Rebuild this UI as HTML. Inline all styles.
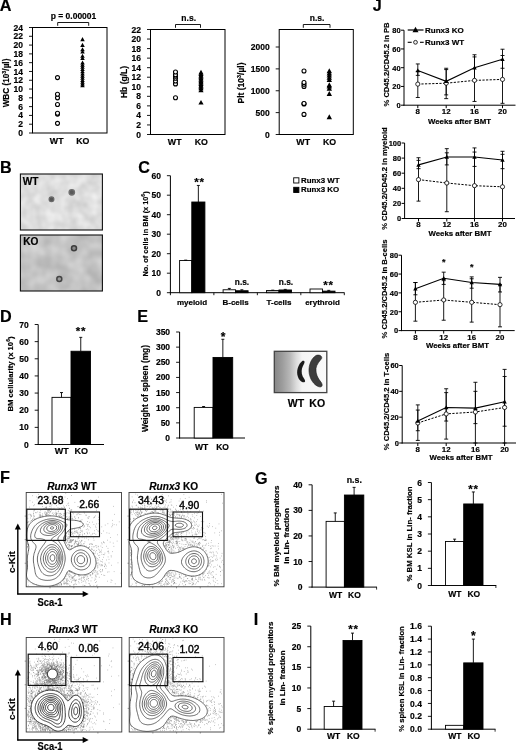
<!DOCTYPE html>
<html><head><meta charset="utf-8"><title>Figure</title>
<style>html,body{margin:0;padding:0;background:#fff}svg{display:block}text{font-family:"Liberation Sans",sans-serif;fill:#000}text[font-weight=bold]{stroke:#000;stroke-width:0.18px}</style>
</head><body>
<svg width="520" height="751" viewBox="0 0 520 751">
<rect width="520" height="751" fill="#fff"/>
<text x="-0.3" y="11" font-size="16.2" font-weight="bold" stroke="#000" stroke-width="0.45">A</text>
<text x="0" y="172.5" font-size="16.2" font-weight="bold" stroke="#000" stroke-width="0.45">B</text>
<text x="138.3" y="173.3" font-size="16.2" font-weight="bold" stroke="#000" stroke-width="0.45">C</text>
<text x="0" y="321.5" font-size="16.2" font-weight="bold" stroke="#000" stroke-width="0.45">D</text>
<text x="137.3" y="321.5" font-size="16.2" font-weight="bold" stroke="#000" stroke-width="0.45">E</text>
<text x="0" y="483.2" font-size="16.2" font-weight="bold" stroke="#000" stroke-width="0.45">F</text>
<text x="255" y="483.5" font-size="16.2" font-weight="bold" stroke="#000" stroke-width="0.45">G</text>
<text x="0" y="625" font-size="16.2" font-weight="bold" stroke="#000" stroke-width="0.45">H</text>
<text x="253.8" y="624.8" font-size="16.2" font-weight="bold" stroke="#000" stroke-width="0.45">I</text>
<text x="372.8" y="11" font-size="16.2" font-weight="bold" stroke="#000" stroke-width="0.45">J</text>
<rect x="32.50" y="27.50" width="74.50" height="105.50" fill="none" stroke="#000" stroke-width="1" />
<line x1="29.00" y1="133.00" x2="32.50" y2="133.00" stroke="#000" stroke-width="0.9" />
<text x="23.0" y="136.0" font-size="8.5" text-anchor="end" font-weight="bold"  style="">0</text>
<line x1="29.00" y1="124.21" x2="32.50" y2="124.21" stroke="#000" stroke-width="0.9" />
<text x="23.0" y="127.2" font-size="8.5" text-anchor="end" font-weight="bold"  style="">2</text>
<line x1="29.00" y1="115.42" x2="32.50" y2="115.42" stroke="#000" stroke-width="0.9" />
<text x="23.0" y="118.4" font-size="8.5" text-anchor="end" font-weight="bold"  style="">4</text>
<line x1="29.00" y1="106.62" x2="32.50" y2="106.62" stroke="#000" stroke-width="0.9" />
<text x="23.0" y="109.6" font-size="8.5" text-anchor="end" font-weight="bold"  style="">6</text>
<line x1="29.00" y1="97.83" x2="32.50" y2="97.83" stroke="#000" stroke-width="0.9" />
<text x="23.0" y="100.8" font-size="8.5" text-anchor="end" font-weight="bold"  style="">8</text>
<line x1="29.00" y1="89.04" x2="32.50" y2="89.04" stroke="#000" stroke-width="0.9" />
<text x="23.0" y="92.0" font-size="8.5" text-anchor="end" font-weight="bold"  style="">10</text>
<line x1="29.00" y1="80.25" x2="32.50" y2="80.25" stroke="#000" stroke-width="0.9" />
<text x="23.0" y="83.2" font-size="8.5" text-anchor="end" font-weight="bold"  style="">12</text>
<line x1="29.00" y1="71.46" x2="32.50" y2="71.46" stroke="#000" stroke-width="0.9" />
<text x="23.0" y="74.5" font-size="8.5" text-anchor="end" font-weight="bold"  style="">14</text>
<line x1="29.00" y1="62.67" x2="32.50" y2="62.67" stroke="#000" stroke-width="0.9" />
<text x="23.0" y="65.7" font-size="8.5" text-anchor="end" font-weight="bold"  style="">16</text>
<line x1="29.00" y1="53.88" x2="32.50" y2="53.88" stroke="#000" stroke-width="0.9" />
<text x="23.0" y="56.9" font-size="8.5" text-anchor="end" font-weight="bold"  style="">18</text>
<line x1="29.00" y1="45.08" x2="32.50" y2="45.08" stroke="#000" stroke-width="0.9" />
<text x="23.0" y="48.1" font-size="8.5" text-anchor="end" font-weight="bold"  style="">20</text>
<line x1="29.00" y1="36.29" x2="32.50" y2="36.29" stroke="#000" stroke-width="0.9" />
<text x="23.0" y="39.3" font-size="8.5" text-anchor="end" font-weight="bold"  style="">22</text>
<line x1="29.00" y1="27.50" x2="32.50" y2="27.50" stroke="#000" stroke-width="0.9" />
<text x="23.0" y="30.5" font-size="8.5" text-anchor="end" font-weight="bold"  style="">24</text>
<circle cx="57.50" cy="123.33" r="2.0" fill="#fff" stroke="#000" stroke-width="1.1"/>
<circle cx="57.50" cy="114.10" r="2.0" fill="#fff" stroke="#000" stroke-width="1.1"/>
<circle cx="57.50" cy="113.22" r="2.0" fill="#fff" stroke="#000" stroke-width="1.1"/>
<circle cx="57.50" cy="104.43" r="2.0" fill="#fff" stroke="#000" stroke-width="1.1"/>
<circle cx="57.50" cy="97.83" r="2.0" fill="#fff" stroke="#000" stroke-width="1.1"/>
<circle cx="57.50" cy="94.32" r="2.0" fill="#fff" stroke="#000" stroke-width="1.1"/>
<circle cx="57.50" cy="77.61" r="2.0" fill="#fff" stroke="#000" stroke-width="1.1"/>
<path d="M82.50,83.28 L84.75,87.33 L80.25,87.33Z" fill="#000"/>
<path d="M82.50,81.52 L84.75,85.57 L80.25,85.57Z" fill="#000"/>
<path d="M82.50,79.76 L84.75,83.81 L80.25,83.81Z" fill="#000"/>
<path d="M82.50,78.00 L84.75,82.05 L80.25,82.05Z" fill="#000"/>
<path d="M82.50,75.80 L84.75,79.85 L80.25,79.85Z" fill="#000"/>
<path d="M82.50,73.60 L84.75,77.65 L80.25,77.65Z" fill="#000"/>
<path d="M82.50,71.41 L84.75,75.46 L80.25,75.46Z" fill="#000"/>
<path d="M82.50,69.21 L84.75,73.26 L80.25,73.26Z" fill="#000"/>
<path d="M82.50,67.01 L84.75,71.06 L80.25,71.06Z" fill="#000"/>
<path d="M82.50,64.81 L84.75,68.86 L80.25,68.86Z" fill="#000"/>
<path d="M82.50,62.61 L84.75,66.66 L80.25,66.66Z" fill="#000"/>
<path d="M82.50,60.42 L84.75,64.47 L80.25,64.47Z" fill="#000"/>
<path d="M82.50,56.02 L84.75,60.07 L80.25,60.07Z" fill="#000"/>
<path d="M82.50,53.82 L84.75,57.87 L80.25,57.87Z" fill="#000"/>
<path d="M82.50,49.43 L84.75,53.48 L80.25,53.48Z" fill="#000"/>
<path d="M82.50,47.23 L84.75,51.28 L80.25,51.28Z" fill="#000"/>
<path d="M82.50,42.83 L84.75,46.88 L80.25,46.88Z" fill="#000"/>
<path d="M82.50,37.12 L84.75,41.17 L80.25,41.17Z" fill="#000"/>
<text x="56.7" y="143.6" font-size="8.8" text-anchor="middle" font-weight="bold"  style="">WT</text>
<text x="82.8" y="143.6" font-size="8.8" text-anchor="middle" font-weight="bold"  style="">KO</text>

<path d="M57.7,25.8 V22.5 H88.7 V25.8" fill="none" stroke="#000" stroke-width="0.9"/>
<text x="73.5" y="19.0" font-size="8.5" text-anchor="middle" font-weight="bold"  style="">p = 0.00001</text>
<text transform="translate(8.5,83) rotate(-90)" font-size="8.2" text-anchor="middle" font-weight="bold">WBC (10<tspan font-size="5.5" dy="-3">3</tspan><tspan dy="3">/µl)</tspan></text>
<rect x="150.50" y="29.50" width="74.50" height="105.00" fill="none" stroke="#000" stroke-width="1" />
<line x1="147.00" y1="134.50" x2="150.50" y2="134.50" stroke="#000" stroke-width="0.9" />
<text x="141.0" y="137.5" font-size="8.5" text-anchor="end" font-weight="bold"  style="">0</text>
<line x1="147.00" y1="124.95" x2="150.50" y2="124.95" stroke="#000" stroke-width="0.9" />
<text x="141.0" y="128.0" font-size="8.5" text-anchor="end" font-weight="bold"  style="">2</text>
<line x1="147.00" y1="115.41" x2="150.50" y2="115.41" stroke="#000" stroke-width="0.9" />
<text x="141.0" y="118.4" font-size="8.5" text-anchor="end" font-weight="bold"  style="">4</text>
<line x1="147.00" y1="105.86" x2="150.50" y2="105.86" stroke="#000" stroke-width="0.9" />
<text x="141.0" y="108.9" font-size="8.5" text-anchor="end" font-weight="bold"  style="">6</text>
<line x1="147.00" y1="96.32" x2="150.50" y2="96.32" stroke="#000" stroke-width="0.9" />
<text x="141.0" y="99.3" font-size="8.5" text-anchor="end" font-weight="bold"  style="">8</text>
<line x1="147.00" y1="86.77" x2="150.50" y2="86.77" stroke="#000" stroke-width="0.9" />
<text x="141.0" y="89.8" font-size="8.5" text-anchor="end" font-weight="bold"  style="">10</text>
<line x1="147.00" y1="77.23" x2="150.50" y2="77.23" stroke="#000" stroke-width="0.9" />
<text x="141.0" y="80.2" font-size="8.5" text-anchor="end" font-weight="bold"  style="">12</text>
<line x1="147.00" y1="67.68" x2="150.50" y2="67.68" stroke="#000" stroke-width="0.9" />
<text x="141.0" y="70.7" font-size="8.5" text-anchor="end" font-weight="bold"  style="">14</text>
<line x1="147.00" y1="58.14" x2="150.50" y2="58.14" stroke="#000" stroke-width="0.9" />
<text x="141.0" y="61.1" font-size="8.5" text-anchor="end" font-weight="bold"  style="">16</text>
<line x1="147.00" y1="48.59" x2="150.50" y2="48.59" stroke="#000" stroke-width="0.9" />
<text x="141.0" y="51.6" font-size="8.5" text-anchor="end" font-weight="bold"  style="">18</text>
<line x1="147.00" y1="39.05" x2="150.50" y2="39.05" stroke="#000" stroke-width="0.9" />
<text x="141.0" y="42.0" font-size="8.5" text-anchor="end" font-weight="bold"  style="">20</text>
<line x1="147.00" y1="29.50" x2="150.50" y2="29.50" stroke="#000" stroke-width="0.9" />
<text x="141.0" y="32.5" font-size="8.5" text-anchor="end" font-weight="bold"  style="">22</text>
<circle cx="175.50" cy="97.75" r="2.0" fill="#fff" stroke="#000" stroke-width="1.1"/>
<circle cx="175.50" cy="83.91" r="2.0" fill="#fff" stroke="#000" stroke-width="1.1"/>
<circle cx="175.50" cy="81.05" r="2.0" fill="#fff" stroke="#000" stroke-width="1.1"/>
<circle cx="175.50" cy="78.18" r="2.0" fill="#fff" stroke="#000" stroke-width="1.1"/>
<circle cx="175.50" cy="76.27" r="2.0" fill="#fff" stroke="#000" stroke-width="1.1"/>
<circle cx="175.50" cy="74.84" r="2.0" fill="#fff" stroke="#000" stroke-width="1.1"/>
<circle cx="175.50" cy="71.98" r="2.0" fill="#fff" stroke="#000" stroke-width="1.1"/>
<path d="M201.00,99.92 L203.60,104.60 L198.40,104.60Z" fill="#000"/>
<path d="M201.00,87.51 L203.60,92.19 L198.40,92.19Z" fill="#000"/>
<path d="M201.00,85.60 L203.60,90.28 L198.40,90.28Z" fill="#000"/>
<path d="M201.00,84.17 L203.60,88.85 L198.40,88.85Z" fill="#000"/>
<path d="M201.00,82.74 L203.60,87.42 L198.40,87.42Z" fill="#000"/>
<path d="M201.00,81.31 L203.60,85.99 L198.40,85.99Z" fill="#000"/>
<path d="M201.00,79.88 L203.60,84.56 L198.40,84.56Z" fill="#000"/>
<path d="M201.00,78.45 L203.60,83.13 L198.40,83.13Z" fill="#000"/>
<path d="M201.00,77.01 L203.60,81.69 L198.40,81.69Z" fill="#000"/>
<path d="M201.00,75.58 L203.60,80.26 L198.40,80.26Z" fill="#000"/>
<path d="M201.00,74.15 L203.60,78.83 L198.40,78.83Z" fill="#000"/>
<path d="M201.00,72.72 L203.60,77.40 L198.40,77.40Z" fill="#000"/>
<path d="M201.00,71.29 L203.60,75.97 L198.40,75.97Z" fill="#000"/>
<path d="M201.00,69.85 L203.60,74.53 L198.40,74.53Z" fill="#000"/>
<text x="174.7" y="145.1" font-size="8.8" text-anchor="middle" font-weight="bold"  style="">WT</text>
<text x="201.3" y="145.1" font-size="8.8" text-anchor="middle" font-weight="bold"  style="">KO</text>

<path d="M175.5,27.8 V24.5 H200.5 V27.8" fill="none" stroke="#000" stroke-width="0.9"/>
<text x="188.7" y="21.0" font-size="8.5" text-anchor="middle" font-weight="bold"  style="">n.s.</text>
<text transform="translate(127,82) rotate(-90)" font-size="8.5" text-anchor="middle" font-weight="bold">Hb (g/L)</text>
<rect x="279.20" y="29.50" width="74.10" height="105.00" fill="none" stroke="#000" stroke-width="1" />
<line x1="275.70" y1="134.50" x2="279.20" y2="134.50" stroke="#000" stroke-width="0.9" />
<text x="269.7" y="137.5" font-size="8.5" text-anchor="end" font-weight="bold"  style="">0</text>
<line x1="275.70" y1="112.62" x2="279.20" y2="112.62" stroke="#000" stroke-width="0.9" />
<text x="269.7" y="115.6" font-size="8.5" text-anchor="end" font-weight="bold"  style="">500</text>
<line x1="275.70" y1="90.75" x2="279.20" y2="90.75" stroke="#000" stroke-width="0.9" />
<text x="269.7" y="93.8" font-size="8.5" text-anchor="end" font-weight="bold"  style="">1000</text>
<line x1="275.70" y1="68.88" x2="279.20" y2="68.88" stroke="#000" stroke-width="0.9" />
<text x="269.7" y="71.9" font-size="8.5" text-anchor="end" font-weight="bold"  style="">1500</text>
<line x1="275.70" y1="47.00" x2="279.20" y2="47.00" stroke="#000" stroke-width="0.9" />
<text x="269.7" y="50.0" font-size="8.5" text-anchor="end" font-weight="bold"  style="">2000</text>
<circle cx="304.00" cy="114.38" r="2.0" fill="#fff" stroke="#000" stroke-width="1.1"/>
<circle cx="304.00" cy="103.88" r="2.0" fill="#fff" stroke="#000" stroke-width="1.1"/>
<circle cx="304.00" cy="103.44" r="2.0" fill="#fff" stroke="#000" stroke-width="1.1"/>
<circle cx="304.00" cy="86.38" r="2.0" fill="#fff" stroke="#000" stroke-width="1.1"/>
<circle cx="304.00" cy="84.19" r="2.0" fill="#fff" stroke="#000" stroke-width="1.1"/>
<circle cx="304.00" cy="82.44" r="2.0" fill="#fff" stroke="#000" stroke-width="1.1"/>
<circle cx="304.00" cy="71.06" r="2.0" fill="#fff" stroke="#000" stroke-width="1.1"/>
<path d="M329.30,114.30 L332.00,119.16 L326.60,119.16Z" fill="#000"/>
<path d="M329.30,91.11 L332.00,95.97 L326.60,95.97Z" fill="#000"/>
<path d="M329.30,85.86 L332.00,90.72 L326.60,90.72Z" fill="#000"/>
<path d="M329.30,83.67 L332.00,88.53 L326.60,88.53Z" fill="#000"/>
<path d="M329.30,82.36 L332.00,87.22 L326.60,87.22Z" fill="#000"/>
<path d="M329.30,77.11 L332.00,81.97 L326.60,81.97Z" fill="#000"/>
<path d="M329.30,74.92 L332.00,79.78 L326.60,79.78Z" fill="#000"/>
<path d="M329.30,72.74 L332.00,77.60 L326.60,77.60Z" fill="#000"/>
<path d="M329.30,70.55 L332.00,75.41 L326.60,75.41Z" fill="#000"/>
<path d="M329.30,68.36 L332.00,73.22 L326.60,73.22Z" fill="#000"/>
<text x="303.2" y="145.1" font-size="8.8" text-anchor="middle" font-weight="bold"  style="">WT</text>
<text x="329.6" y="145.1" font-size="8.8" text-anchor="middle" font-weight="bold"  style="">KO</text>

<path d="M303.3,27.8 V24.5 H330 V27.8" fill="none" stroke="#000" stroke-width="0.9"/>
<text x="317.1" y="21.0" font-size="8.5" text-anchor="middle" font-weight="bold"  style="">n.s.</text>
<text transform="translate(244,83) rotate(-90)" font-size="8.5" text-anchor="middle" font-weight="bold">Plt (10<tspan font-size="5.5" dy="-3">3</tspan><tspan dy="3">/µl)</tspan></text>
<defs><filter id="bl"><feGaussianBlur stdDeviation="1.2"/></filter><filter id="bl2"><feGaussianBlur stdDeviation="0.6"/></filter>
<clipPath id="cB1"><rect x="20" y="174" width="82" height="56"/></clipPath><clipPath id="cB2"><rect x="20" y="235" width="82" height="56"/></clipPath>
<linearGradient id="gs" x1="0" x2="1"><stop offset="0" stop-color="#868686"/><stop offset="0.15" stop-color="#9c9c9c"/><stop offset="0.3" stop-color="#b8b8b8"/><stop offset="0.42" stop-color="#dcdcdc"/><stop offset="0.53" stop-color="#f4f4f4"/><stop offset="1" stop-color="#fafafa"/></linearGradient>
</defs>
<filter id="nz1" color-interpolation-filters="sRGB" x="0" y="0" width="1" height="1"><feTurbulence type="fractalNoise" baseFrequency="0.09" numOctaves="2" seed="3"/><feColorMatrix type="matrix" values="0.18 0 0 0 0.78  0.18 0 0 0 0.78  0.18 0 0 0 0.78  0 0 0 0 1"/></filter>
<filter id="nz2" color-interpolation-filters="sRGB" x="0" y="0" width="1" height="1"><feTurbulence type="fractalNoise" baseFrequency="0.07" numOctaves="2" seed="11"/><feColorMatrix type="matrix" values="0.2 0 0 0 0.665  0.2 0 0 0 0.665  0.2 0 0 0 0.665  0 0 0 0 1"/></filter>
<rect x="20.40" y="174.00" width="82.00" height="56.00" fill="#d6d6d6" stroke="none" stroke-width="0" filter="url(#nz1)"/>
<g filter="url(#bl2)">
<circle cx="51.50" cy="199.30" r="2.4" fill="#555" stroke="#6a6a6a" stroke-width="1.2"/>
<circle cx="71.80" cy="192.30" r="2.7" fill="#5a5a5a" stroke="#707070" stroke-width="1.4"/>
</g>
<rect x="20.40" y="174.00" width="82.00" height="56.00" fill="none" stroke="#111" stroke-width="1.1" />
<rect x="20.40" y="235.00" width="82.00" height="56.00" fill="#bababa" stroke="none" stroke-width="0" filter="url(#nz2)"/>
<g filter="url(#bl2)">
<circle cx="74.00" cy="248.30" r="2.5" fill="#8a8a8a" stroke="#3c3c3c" stroke-width="1.5"/>
<circle cx="59.30" cy="279.00" r="2.5" fill="#9a9a9a" stroke="#444" stroke-width="1.5"/>
</g>
<rect x="20.40" y="235.00" width="82.00" height="56.00" fill="none" stroke="#111" stroke-width="1.1" />
<text x="22.8" y="184.6" font-size="10.1" text-anchor="start" font-weight="bold" stroke="#000" stroke-width="0.3" style="">WT</text>
<text x="23.3" y="245.4" font-size="10.1" text-anchor="start" font-weight="bold" stroke="#000" stroke-width="0.3" style="">KO</text>
<line x1="170.40" y1="175.70" x2="170.40" y2="293.20" stroke="#000" stroke-width="1" />
<line x1="166.90" y1="292.70" x2="170.40" y2="292.70" stroke="#000" stroke-width="0.9" />
<text x="160.9" y="295.7" font-size="8.5" text-anchor="end" font-weight="bold"  style="">0</text>
<line x1="166.90" y1="273.20" x2="170.40" y2="273.20" stroke="#000" stroke-width="0.9" />
<text x="160.9" y="276.2" font-size="8.5" text-anchor="end" font-weight="bold"  style="">10</text>
<line x1="166.90" y1="253.70" x2="170.40" y2="253.70" stroke="#000" stroke-width="0.9" />
<text x="160.9" y="256.7" font-size="8.5" text-anchor="end" font-weight="bold"  style="">20</text>
<line x1="166.90" y1="234.20" x2="170.40" y2="234.20" stroke="#000" stroke-width="0.9" />
<text x="160.9" y="237.2" font-size="8.5" text-anchor="end" font-weight="bold"  style="">30</text>
<line x1="166.90" y1="214.70" x2="170.40" y2="214.70" stroke="#000" stroke-width="0.9" />
<text x="160.9" y="217.7" font-size="8.5" text-anchor="end" font-weight="bold"  style="">40</text>
<line x1="166.90" y1="195.20" x2="170.40" y2="195.20" stroke="#000" stroke-width="0.9" />
<text x="160.9" y="198.2" font-size="8.5" text-anchor="end" font-weight="bold"  style="">50</text>
<line x1="166.90" y1="175.70" x2="170.40" y2="175.70" stroke="#000" stroke-width="0.9" />
<text x="160.9" y="178.7" font-size="8.5" text-anchor="end" font-weight="bold"  style="">60</text>
<line x1="169.90" y1="292.70" x2="344.50" y2="292.70" stroke="#000" stroke-width="1" />
<line x1="170.40" y1="292.70" x2="170.40" y2="295.20" stroke="#000" stroke-width="0.9" />
<line x1="213.88" y1="292.70" x2="213.88" y2="295.20" stroke="#000" stroke-width="0.9" />
<line x1="257.35" y1="292.70" x2="257.35" y2="295.20" stroke="#000" stroke-width="0.9" />
<line x1="300.83" y1="292.70" x2="300.83" y2="295.20" stroke="#000" stroke-width="0.9" />
<line x1="344.30" y1="292.70" x2="344.30" y2="295.20" stroke="#000" stroke-width="0.9" />
<rect x="179.60" y="260.52" width="12.20" height="32.18" fill="#fff" stroke="#000" stroke-width="0.9" />
<line x1="185.70" y1="260.52" x2="185.70" y2="260.13" stroke="#000" stroke-width="0.9" />
<line x1="184.20" y1="260.13" x2="187.20" y2="260.13" stroke="#000" stroke-width="0.9" />
<rect x="191.80" y="202.02" width="13.10" height="90.68" fill="#000" stroke="#000" stroke-width="0.9" />
<line x1="198.35" y1="202.02" x2="198.35" y2="185.45" stroke="#000" stroke-width="0.9" />
<line x1="196.85" y1="185.45" x2="199.85" y2="185.45" stroke="#000" stroke-width="0.9" />
<rect x="223.10" y="289.77" width="12.50" height="2.93" fill="#fff" stroke="#000" stroke-width="0.9" />
<line x1="229.35" y1="289.77" x2="229.35" y2="288.41" stroke="#000" stroke-width="0.9" />
<line x1="227.85" y1="288.41" x2="230.85" y2="288.41" stroke="#000" stroke-width="0.9" />
<rect x="235.60" y="290.75" width="12.50" height="1.95" fill="#000" stroke="#000" stroke-width="0.9" />
<line x1="241.85" y1="290.75" x2="241.85" y2="289.77" stroke="#000" stroke-width="0.9" />
<line x1="240.35" y1="289.77" x2="243.35" y2="289.77" stroke="#000" stroke-width="0.9" />
<rect x="266.50" y="290.56" width="12.50" height="2.14" fill="#bbb" stroke="#000" stroke-width="0.9" />
<line x1="272.75" y1="290.56" x2="272.75" y2="290.16" stroke="#000" stroke-width="0.9" />
<line x1="271.25" y1="290.16" x2="274.25" y2="290.16" stroke="#000" stroke-width="0.9" />
<rect x="279.00" y="289.97" width="12.50" height="2.73" fill="#000" stroke="#000" stroke-width="0.9" />
<line x1="285.25" y1="289.97" x2="285.25" y2="289.38" stroke="#000" stroke-width="0.9" />
<line x1="283.75" y1="289.38" x2="286.75" y2="289.38" stroke="#000" stroke-width="0.9" />
<rect x="310.00" y="289.00" width="12.50" height="3.70" fill="#fff" stroke="#000" stroke-width="0.9" />
<rect x="322.50" y="291.14" width="12.50" height="1.56" fill="#000" stroke="#000" stroke-width="0.9" />
<line x1="328.75" y1="291.14" x2="328.75" y2="290.36" stroke="#000" stroke-width="0.9" />
<line x1="327.25" y1="290.36" x2="330.25" y2="290.36" stroke="#000" stroke-width="0.9" />
<text x="192.0" y="305.2" font-size="8" text-anchor="middle" font-weight="bold"  style="">myeloid</text>
<text x="235.6" y="305.2" font-size="8" text-anchor="middle" font-weight="bold"  style="">B-cells</text>
<text x="279.0" y="305.2" font-size="8" text-anchor="middle" font-weight="bold"  style="">T-cells</text>
<text x="322.5" y="305.2" font-size="8" text-anchor="middle" font-weight="bold"  style="">erythroid</text>
<text x="199.6" y="186.0" font-size="11.5" text-anchor="middle" font-weight="bold" letter-spacing="0.8" style="">**</text>
<text x="242.0" y="284.8" font-size="8.3" text-anchor="middle" font-weight="bold"  style="">n.s.</text>
<text x="286.0" y="285.0" font-size="8.3" text-anchor="middle" font-weight="bold"  style="">n.s.</text>
<text x="328.5" y="289.0" font-size="11.5" text-anchor="middle" font-weight="bold" letter-spacing="0.8" style="">**</text>
<text transform="translate(148,234) rotate(-90)" font-size="7.35" text-anchor="middle" font-weight="bold">No. of cells in BM (x 10<tspan font-size="5" dy="-3">6</tspan><tspan dy="3">)</tspan></text>
<rect x="293.70" y="177.80" width="5.20" height="5.20" fill="#fff" stroke="#000" stroke-width="0.9" />
<text x="301.0" y="183.0" font-size="7.9" text-anchor="start" font-weight="bold"  style="">Runx3 WT</text>
<rect x="293.70" y="187.30" width="5.20" height="5.20" fill="#000" stroke="#000" stroke-width="0.9" />
<text x="301.0" y="192.3" font-size="7.9" text-anchor="start" font-weight="bold"  style="">Runx3 KO</text>
<line x1="38.20" y1="324.50" x2="38.20" y2="445.00" stroke="#000" stroke-width="1" />
<line x1="34.70" y1="444.50" x2="38.20" y2="444.50" stroke="#000" stroke-width="0.9" />
<text x="28.7" y="447.5" font-size="8.5" text-anchor="end" font-weight="bold"  style="">0</text>
<line x1="34.70" y1="427.36" x2="38.20" y2="427.36" stroke="#000" stroke-width="0.9" />
<text x="28.7" y="430.4" font-size="8.5" text-anchor="end" font-weight="bold"  style="">10</text>
<line x1="34.70" y1="410.21" x2="38.20" y2="410.21" stroke="#000" stroke-width="0.9" />
<text x="28.7" y="413.2" font-size="8.5" text-anchor="end" font-weight="bold"  style="">20</text>
<line x1="34.70" y1="393.07" x2="38.20" y2="393.07" stroke="#000" stroke-width="0.9" />
<text x="28.7" y="396.1" font-size="8.5" text-anchor="end" font-weight="bold"  style="">30</text>
<line x1="34.70" y1="375.93" x2="38.20" y2="375.93" stroke="#000" stroke-width="0.9" />
<text x="28.7" y="378.9" font-size="8.5" text-anchor="end" font-weight="bold"  style="">40</text>
<line x1="34.70" y1="358.79" x2="38.20" y2="358.79" stroke="#000" stroke-width="0.9" />
<text x="28.7" y="361.8" font-size="8.5" text-anchor="end" font-weight="bold"  style="">50</text>
<line x1="34.70" y1="341.64" x2="38.20" y2="341.64" stroke="#000" stroke-width="0.9" />
<text x="28.7" y="344.6" font-size="8.5" text-anchor="end" font-weight="bold"  style="">60</text>
<line x1="34.70" y1="324.50" x2="38.20" y2="324.50" stroke="#000" stroke-width="0.9" />
<text x="28.7" y="327.5" font-size="8.5" text-anchor="end" font-weight="bold"  style="">70</text>
<line x1="37.70" y1="444.50" x2="104.00" y2="444.50" stroke="#000" stroke-width="1" />
<rect x="52.00" y="397.36" width="19.00" height="47.14" fill="#fff" stroke="#000" stroke-width="0.9" />
<line x1="61.50" y1="397.36" x2="61.50" y2="392.56" stroke="#000" stroke-width="0.9" />
<line x1="60.00" y1="392.56" x2="63.00" y2="392.56" stroke="#000" stroke-width="0.9" />
<rect x="71.00" y="351.24" width="19.50" height="93.26" fill="#000" stroke="#000" stroke-width="0.9" />
<line x1="80.75" y1="351.24" x2="80.75" y2="337.36" stroke="#000" stroke-width="0.9" />
<line x1="79.25" y1="337.36" x2="82.25" y2="337.36" stroke="#000" stroke-width="0.9" />
<text x="61.7" y="453.5" font-size="9" text-anchor="middle" font-weight="bold"  style="">WT</text>
<text x="81.3" y="453.5" font-size="9" text-anchor="middle" font-weight="bold"  style="">KO</text>
<text x="81.0" y="334.5" font-size="11.5" text-anchor="middle" font-weight="bold" letter-spacing="0.8" style="">**</text>
<text transform="translate(13,374) rotate(-90)" font-size="7.7" text-anchor="middle" font-weight="bold">BM cellularity (x 10<tspan font-size="5" dy="-3">6</tspan><tspan dy="3">)</tspan></text>
<line x1="179.60" y1="332.00" x2="179.60" y2="438.50" stroke="#000" stroke-width="1" />
<line x1="176.10" y1="438.00" x2="179.60" y2="438.00" stroke="#000" stroke-width="0.9" />
<text x="170.1" y="441.0" font-size="8.5" text-anchor="end" font-weight="bold"  style="">0</text>
<line x1="176.10" y1="422.86" x2="179.60" y2="422.86" stroke="#000" stroke-width="0.9" />
<text x="170.1" y="425.9" font-size="8.5" text-anchor="end" font-weight="bold"  style="">50</text>
<line x1="176.10" y1="407.71" x2="179.60" y2="407.71" stroke="#000" stroke-width="0.9" />
<text x="170.1" y="410.7" font-size="8.5" text-anchor="end" font-weight="bold"  style="">100</text>
<line x1="176.10" y1="392.57" x2="179.60" y2="392.57" stroke="#000" stroke-width="0.9" />
<text x="170.1" y="395.6" font-size="8.5" text-anchor="end" font-weight="bold"  style="">150</text>
<line x1="176.10" y1="377.43" x2="179.60" y2="377.43" stroke="#000" stroke-width="0.9" />
<text x="170.1" y="380.4" font-size="8.5" text-anchor="end" font-weight="bold"  style="">200</text>
<line x1="176.10" y1="362.29" x2="179.60" y2="362.29" stroke="#000" stroke-width="0.9" />
<text x="170.1" y="365.3" font-size="8.5" text-anchor="end" font-weight="bold"  style="">250</text>
<line x1="176.10" y1="347.14" x2="179.60" y2="347.14" stroke="#000" stroke-width="0.9" />
<text x="170.1" y="350.1" font-size="8.5" text-anchor="end" font-weight="bold"  style="">300</text>
<line x1="176.10" y1="332.00" x2="179.60" y2="332.00" stroke="#000" stroke-width="0.9" />
<text x="170.1" y="335.0" font-size="8.5" text-anchor="end" font-weight="bold"  style="">350</text>
<line x1="179.10" y1="438.00" x2="245.00" y2="438.00" stroke="#000" stroke-width="1" />
<rect x="194.20" y="407.41" width="18.80" height="30.59" fill="#fff" stroke="#000" stroke-width="0.9" />
<line x1="203.60" y1="407.41" x2="203.60" y2="406.50" stroke="#000" stroke-width="0.9" />
<line x1="202.10" y1="406.50" x2="205.10" y2="406.50" stroke="#000" stroke-width="0.9" />
<rect x="213.00" y="357.44" width="19.70" height="80.56" fill="#000" stroke="#000" stroke-width="0.9" />
<line x1="222.85" y1="357.44" x2="222.85" y2="339.27" stroke="#000" stroke-width="0.9" />
<line x1="221.35" y1="339.27" x2="224.35" y2="339.27" stroke="#000" stroke-width="0.9" />
<text x="201.5" y="450.0" font-size="8.5" text-anchor="middle" font-weight="bold"  style="">WT</text>
<text x="222.5" y="450.0" font-size="8.5" text-anchor="middle" font-weight="bold"  style="">KO</text>
<text x="223.0" y="341.0" font-size="12" text-anchor="middle" font-weight="bold"  style="">*</text>
<text transform="translate(148.3,388.5) rotate(-90)" font-size="8.35" text-anchor="middle" font-weight="bold" >Weight of spleen (mg)</text>
<rect x="274.30" y="351.30" width="52.50" height="41.30" fill="url(#gs)" stroke="#444" stroke-width="1.3" />
<g filter="url(#bl2)">
<path d="M302,361.3 C298.5,364 296.6,370 297.3,374.5 C298,379 301,382.5 304.2,382.3 C305.8,382 305.2,380.2 304,378.5 C301.8,375.5 301.2,372 302,368.5 C302.8,365.5 304.6,363.5 304.6,362 C304.4,360.6 303,360.6 302,361.3Z" fill="#1e1e1e"/>
<path d="M316,355.5 C311.5,358 308.6,365 309,371.5 C309.5,378.5 313.5,385 319,386.8 C322.5,387.6 322.8,385 321.3,382.5 C317.5,378 315.6,373.5 316,368.5 C316.5,364 320,361 321.6,358.5 C322.5,355.8 319,354.3 316,355.5Z" fill="#3c3c3c" stroke="#222" stroke-width="0.6"/>
</g>
<text x="296.0" y="407.2" font-size="10.5" text-anchor="middle" font-weight="bold"  style="">WT</text>
<text x="317.2" y="407.2" font-size="10.5" text-anchor="middle" font-weight="bold"  style="">KO</text>
<line x1="312.10" y1="484.80" x2="312.10" y2="587.60" stroke="#000" stroke-width="1" />
<line x1="308.60" y1="587.10" x2="312.10" y2="587.10" stroke="#000" stroke-width="0.9" />
<text x="302.6" y="590.1" font-size="8.5" text-anchor="end" font-weight="bold"  style="">0</text>
<line x1="308.60" y1="561.52" x2="312.10" y2="561.52" stroke="#000" stroke-width="0.9" />
<text x="302.6" y="564.5" font-size="8.5" text-anchor="end" font-weight="bold"  style="">10</text>
<line x1="308.60" y1="535.95" x2="312.10" y2="535.95" stroke="#000" stroke-width="0.9" />
<text x="302.6" y="539.0" font-size="8.5" text-anchor="end" font-weight="bold"  style="">20</text>
<line x1="308.60" y1="510.38" x2="312.10" y2="510.38" stroke="#000" stroke-width="0.9" />
<text x="302.6" y="513.4" font-size="8.5" text-anchor="end" font-weight="bold"  style="">30</text>
<line x1="308.60" y1="484.80" x2="312.10" y2="484.80" stroke="#000" stroke-width="0.9" />
<text x="302.6" y="487.8" font-size="8.5" text-anchor="end" font-weight="bold"  style="">40</text>
<line x1="311.60" y1="587.10" x2="377.00" y2="587.10" stroke="#000" stroke-width="1" />
<line x1="376.60" y1="587.10" x2="376.60" y2="589.60" stroke="#000" stroke-width="0.8" />
<rect x="326.10" y="521.37" width="18.30" height="65.73" fill="#fff" stroke="#000" stroke-width="0.9" />
<line x1="335.25" y1="521.37" x2="335.25" y2="512.93" stroke="#000" stroke-width="0.9" />
<line x1="333.75" y1="512.93" x2="336.75" y2="512.93" stroke="#000" stroke-width="0.9" />
<rect x="344.40" y="495.03" width="19.40" height="92.07" fill="#000" stroke="#000" stroke-width="0.9" />
<line x1="354.10" y1="495.03" x2="354.10" y2="487.36" stroke="#000" stroke-width="0.9" />
<line x1="352.60" y1="487.36" x2="355.60" y2="487.36" stroke="#000" stroke-width="0.9" />
<text x="335.5" y="597.6" font-size="8.5" text-anchor="middle" font-weight="bold"  style="">WT</text>
<text x="354.4" y="597.6" font-size="8.5" text-anchor="middle" font-weight="bold"  style="">KO</text>
<text x="354.3" y="483.3" font-size="8.8" text-anchor="middle" font-weight="bold"  style="">n.s.</text>
<text transform="translate(278.5,536) rotate(-90)" font-size="8.0" text-anchor="middle" font-weight="bold"><tspan x="0" y="0">% BM myeloid progenitors</tspan><tspan x="0" y="10.8">in Lin- fraction</tspan></text>
<line x1="431.40" y1="482.50" x2="431.40" y2="586.00" stroke="#000" stroke-width="1" />
<line x1="427.90" y1="585.50" x2="431.40" y2="585.50" stroke="#000" stroke-width="0.9" />
<text x="421.9" y="588.5" font-size="8.5" text-anchor="end" font-weight="bold"  style="">0</text>
<line x1="427.90" y1="568.33" x2="431.40" y2="568.33" stroke="#000" stroke-width="0.9" />
<text x="421.9" y="571.3" font-size="8.5" text-anchor="end" font-weight="bold"  style="">1</text>
<line x1="427.90" y1="551.17" x2="431.40" y2="551.17" stroke="#000" stroke-width="0.9" />
<text x="421.9" y="554.2" font-size="8.5" text-anchor="end" font-weight="bold"  style="">2</text>
<line x1="427.90" y1="534.00" x2="431.40" y2="534.00" stroke="#000" stroke-width="0.9" />
<text x="421.9" y="537.0" font-size="8.5" text-anchor="end" font-weight="bold"  style="">3</text>
<line x1="427.90" y1="516.83" x2="431.40" y2="516.83" stroke="#000" stroke-width="0.9" />
<text x="421.9" y="519.8" font-size="8.5" text-anchor="end" font-weight="bold"  style="">4</text>
<line x1="427.90" y1="499.67" x2="431.40" y2="499.67" stroke="#000" stroke-width="0.9" />
<text x="421.9" y="502.7" font-size="8.5" text-anchor="end" font-weight="bold"  style="">5</text>
<line x1="427.90" y1="482.50" x2="431.40" y2="482.50" stroke="#000" stroke-width="0.9" />
<text x="421.9" y="485.5" font-size="8.5" text-anchor="end" font-weight="bold"  style="">6</text>
<line x1="430.90" y1="585.50" x2="496.30" y2="585.50" stroke="#000" stroke-width="1" />
<line x1="495.90" y1="585.50" x2="495.90" y2="588.00" stroke="#000" stroke-width="0.8" />
<rect x="445.50" y="541.55" width="18.20" height="43.95" fill="#fff" stroke="#000" stroke-width="0.9" />
<line x1="454.60" y1="541.55" x2="454.60" y2="539.15" stroke="#000" stroke-width="0.9" />
<line x1="453.10" y1="539.15" x2="456.10" y2="539.15" stroke="#000" stroke-width="0.9" />
<rect x="463.70" y="503.96" width="19.30" height="81.54" fill="#000" stroke="#000" stroke-width="0.9" />
<line x1="473.35" y1="503.96" x2="473.35" y2="491.94" stroke="#000" stroke-width="0.9" />
<line x1="471.85" y1="491.94" x2="474.85" y2="491.94" stroke="#000" stroke-width="0.9" />
<text x="454.8" y="596.5" font-size="8.5" text-anchor="middle" font-weight="bold"  style="">WT</text>
<text x="473.8" y="596.5" font-size="8.5" text-anchor="middle" font-weight="bold"  style="">KO</text>
<text x="473.5" y="493.0" font-size="11.5" text-anchor="middle" font-weight="bold" letter-spacing="0.8" style="">**</text>
<text transform="translate(412.0,534.0) rotate(-90)" font-size="7.8" text-anchor="middle" font-weight="bold" >% BM KSL in Lin- fraction</text>
<line x1="310.80" y1="626.10" x2="310.80" y2="729.70" stroke="#000" stroke-width="1" />
<line x1="307.30" y1="729.20" x2="310.80" y2="729.20" stroke="#000" stroke-width="0.9" />
<text x="301.3" y="732.2" font-size="8.5" text-anchor="end" font-weight="bold"  style="">0</text>
<line x1="307.30" y1="708.58" x2="310.80" y2="708.58" stroke="#000" stroke-width="0.9" />
<text x="301.3" y="711.6" font-size="8.5" text-anchor="end" font-weight="bold"  style="">5</text>
<line x1="307.30" y1="687.96" x2="310.80" y2="687.96" stroke="#000" stroke-width="0.9" />
<text x="301.3" y="691.0" font-size="8.5" text-anchor="end" font-weight="bold"  style="">10</text>
<line x1="307.30" y1="667.34" x2="310.80" y2="667.34" stroke="#000" stroke-width="0.9" />
<text x="301.3" y="670.3" font-size="8.5" text-anchor="end" font-weight="bold"  style="">15</text>
<line x1="307.30" y1="646.72" x2="310.80" y2="646.72" stroke="#000" stroke-width="0.9" />
<text x="301.3" y="649.7" font-size="8.5" text-anchor="end" font-weight="bold"  style="">20</text>
<line x1="307.30" y1="626.10" x2="310.80" y2="626.10" stroke="#000" stroke-width="0.9" />
<text x="301.3" y="629.1" font-size="8.5" text-anchor="end" font-weight="bold"  style="">25</text>
<line x1="310.30" y1="729.20" x2="375.50" y2="729.20" stroke="#000" stroke-width="1" />
<line x1="375.10" y1="729.20" x2="375.10" y2="731.70" stroke="#000" stroke-width="0.8" />
<rect x="324.20" y="706.52" width="18.80" height="22.68" fill="#fff" stroke="#000" stroke-width="0.9" />
<line x1="333.60" y1="706.52" x2="333.60" y2="701.16" stroke="#000" stroke-width="0.9" />
<line x1="332.10" y1="701.16" x2="335.10" y2="701.16" stroke="#000" stroke-width="0.9" />
<rect x="343.00" y="640.53" width="19.00" height="88.67" fill="#000" stroke="#000" stroke-width="0.9" />
<line x1="352.50" y1="640.53" x2="352.50" y2="633.11" stroke="#000" stroke-width="0.9" />
<line x1="351.00" y1="633.11" x2="354.00" y2="633.11" stroke="#000" stroke-width="0.9" />
<text x="333.7" y="739.0" font-size="8.5" text-anchor="middle" font-weight="bold"  style="">WT</text>
<text x="353.3" y="739.0" font-size="8.5" text-anchor="middle" font-weight="bold"  style="">KO</text>
<text x="353.5" y="632.7" font-size="11.5" text-anchor="middle" font-weight="bold" letter-spacing="0.8" style="">**</text>
<text transform="translate(273.3,678) rotate(-90)" font-size="7.95" text-anchor="middle" font-weight="bold"><tspan x="0" y="0">% spleen myeloid progenitors</tspan><tspan x="0" y="12">in Lin- fraction</tspan></text>
<line x1="431.40" y1="626.20" x2="431.40" y2="729.70" stroke="#000" stroke-width="1" />
<line x1="427.90" y1="729.20" x2="431.40" y2="729.20" stroke="#000" stroke-width="0.9" />
<text x="421.9" y="732.2" font-size="8.5" text-anchor="end" font-weight="bold"  style="">0.0</text>
<line x1="427.90" y1="716.33" x2="431.40" y2="716.33" stroke="#000" stroke-width="0.9" />
<text x="421.9" y="719.3" font-size="8.5" text-anchor="end" font-weight="bold"  style="">0.2</text>
<line x1="427.90" y1="703.45" x2="431.40" y2="703.45" stroke="#000" stroke-width="0.9" />
<text x="421.9" y="706.5" font-size="8.5" text-anchor="end" font-weight="bold"  style="">0.4</text>
<line x1="427.90" y1="690.58" x2="431.40" y2="690.58" stroke="#000" stroke-width="0.9" />
<text x="421.9" y="693.6" font-size="8.5" text-anchor="end" font-weight="bold"  style="">0.6</text>
<line x1="427.90" y1="677.70" x2="431.40" y2="677.70" stroke="#000" stroke-width="0.9" />
<text x="421.9" y="680.7" font-size="8.5" text-anchor="end" font-weight="bold"  style="">0.8</text>
<line x1="427.90" y1="664.83" x2="431.40" y2="664.83" stroke="#000" stroke-width="0.9" />
<text x="421.9" y="667.8" font-size="8.5" text-anchor="end" font-weight="bold"  style="">1.0</text>
<line x1="427.90" y1="651.95" x2="431.40" y2="651.95" stroke="#000" stroke-width="0.9" />
<text x="421.9" y="655.0" font-size="8.5" text-anchor="end" font-weight="bold"  style="">1.2</text>
<line x1="427.90" y1="639.08" x2="431.40" y2="639.08" stroke="#000" stroke-width="0.9" />
<text x="421.9" y="642.1" font-size="8.5" text-anchor="end" font-weight="bold"  style="">1.4</text>
<line x1="427.90" y1="626.20" x2="431.40" y2="626.20" stroke="#000" stroke-width="0.9" />
<text x="421.9" y="629.2" font-size="8.5" text-anchor="end" font-weight="bold"  style="">1.6</text>
<line x1="430.90" y1="729.20" x2="495.50" y2="729.20" stroke="#000" stroke-width="1" />
<line x1="495.10" y1="729.20" x2="495.10" y2="731.70" stroke="#000" stroke-width="0.8" />
<rect x="445.50" y="725.34" width="18.20" height="3.86" fill="#fff" stroke="#000" stroke-width="0.9" />
<rect x="463.70" y="662.89" width="19.30" height="66.31" fill="#000" stroke="#000" stroke-width="0.9" />
<line x1="473.35" y1="662.89" x2="473.35" y2="639.08" stroke="#000" stroke-width="0.9" />
<line x1="471.85" y1="639.08" x2="474.85" y2="639.08" stroke="#000" stroke-width="0.9" />
<text x="454.8" y="739.0" font-size="8.5" text-anchor="middle" font-weight="bold"  style="">WT</text>
<text x="473.8" y="739.0" font-size="8.5" text-anchor="middle" font-weight="bold"  style="">KO</text>
<text x="473.3" y="639.5" font-size="12" text-anchor="middle" font-weight="bold"  style="">*</text>
<text transform="translate(403.5,679.0) rotate(-90)" font-size="7.65" text-anchor="middle" font-weight="bold" >% spleen KSL in Lin- fraction</text>
<line x1="404.00" y1="30.20" x2="404.00" y2="105.70" stroke="#000" stroke-width="1" />
<line x1="403.50" y1="105.20" x2="515.50" y2="105.20" stroke="#000" stroke-width="1" />
<line x1="401.00" y1="105.20" x2="404.00" y2="105.20" stroke="#000" stroke-width="1" />
<text x="400.6" y="108.0" font-size="7.5" text-anchor="end" font-weight="bold"  style="">0</text>
<line x1="401.00" y1="86.45" x2="404.00" y2="86.45" stroke="#000" stroke-width="1" />
<text x="400.6" y="89.2" font-size="7.5" text-anchor="end" font-weight="bold"  style="">20</text>
<line x1="401.00" y1="67.70" x2="404.00" y2="67.70" stroke="#000" stroke-width="1" />
<text x="400.6" y="70.5" font-size="7.5" text-anchor="end" font-weight="bold"  style="">40</text>
<line x1="401.00" y1="48.95" x2="404.00" y2="48.95" stroke="#000" stroke-width="1" />
<text x="400.6" y="51.8" font-size="7.5" text-anchor="end" font-weight="bold"  style="">60</text>
<line x1="401.00" y1="30.20" x2="404.00" y2="30.20" stroke="#000" stroke-width="1" />
<text x="400.6" y="33.0" font-size="7.5" text-anchor="end" font-weight="bold"  style="">80</text>
<line x1="417.80" y1="105.20" x2="417.80" y2="108.20" stroke="#000" stroke-width="1" />
<text x="417.8" y="114.3" font-size="7.9" text-anchor="middle" font-weight="bold"  style="">8</text>
<line x1="446.20" y1="105.20" x2="446.20" y2="108.20" stroke="#000" stroke-width="1" />
<text x="446.2" y="114.3" font-size="7.9" text-anchor="middle" font-weight="bold"  style="">12</text>
<line x1="474.50" y1="105.20" x2="474.50" y2="108.20" stroke="#000" stroke-width="1" />
<text x="474.5" y="114.3" font-size="7.9" text-anchor="middle" font-weight="bold"  style="">16</text>
<line x1="502.50" y1="105.20" x2="502.50" y2="108.20" stroke="#000" stroke-width="1" />
<text x="502.5" y="114.3" font-size="7.9" text-anchor="middle" font-weight="bold"  style="">20</text>
<text x="459.5" y="123.5" font-size="7.85" text-anchor="middle" font-weight="bold"  style="">Weeks after BMT</text>
<text transform="translate(389.2,64.5) rotate(-90)" font-size="7.6" text-anchor="middle" font-weight="bold" >% CD45.2/CD45.2 in PB</text>
<line x1="417.80" y1="97.51" x2="417.80" y2="71.45" stroke="#000" stroke-width="0.9" />
<line x1="415.80" y1="97.51" x2="419.80" y2="97.51" stroke="#000" stroke-width="0.9" />
<line x1="415.80" y1="71.45" x2="419.80" y2="71.45" stroke="#000" stroke-width="0.9" />
<line x1="417.80" y1="75.39" x2="417.80" y2="63.95" stroke="#000" stroke-width="0.9" />
<line x1="415.80" y1="75.39" x2="419.80" y2="75.39" stroke="#000" stroke-width="0.9" />
<line x1="415.80" y1="63.95" x2="419.80" y2="63.95" stroke="#000" stroke-width="0.9" />
<line x1="446.20" y1="98.64" x2="446.20" y2="69.58" stroke="#000" stroke-width="0.9" />
<line x1="444.20" y1="98.64" x2="448.20" y2="98.64" stroke="#000" stroke-width="0.9" />
<line x1="444.20" y1="69.58" x2="448.20" y2="69.58" stroke="#000" stroke-width="0.9" />
<line x1="446.20" y1="94.89" x2="446.20" y2="68.26" stroke="#000" stroke-width="0.9" />
<line x1="444.20" y1="94.89" x2="448.20" y2="94.89" stroke="#000" stroke-width="0.9" />
<line x1="444.20" y1="68.26" x2="448.20" y2="68.26" stroke="#000" stroke-width="0.9" />
<line x1="474.50" y1="101.45" x2="474.50" y2="56.92" stroke="#000" stroke-width="0.9" />
<line x1="472.50" y1="101.45" x2="476.50" y2="101.45" stroke="#000" stroke-width="0.9" />
<line x1="472.50" y1="56.92" x2="476.50" y2="56.92" stroke="#000" stroke-width="0.9" />
<line x1="474.50" y1="80.83" x2="474.50" y2="54.76" stroke="#000" stroke-width="0.9" />
<line x1="472.50" y1="80.83" x2="476.50" y2="80.83" stroke="#000" stroke-width="0.9" />
<line x1="472.50" y1="54.76" x2="476.50" y2="54.76" stroke="#000" stroke-width="0.9" />
<line x1="502.50" y1="103.33" x2="502.50" y2="55.51" stroke="#000" stroke-width="0.9" />
<line x1="500.50" y1="103.33" x2="504.50" y2="103.33" stroke="#000" stroke-width="0.9" />
<line x1="500.50" y1="55.51" x2="504.50" y2="55.51" stroke="#000" stroke-width="0.9" />
<line x1="502.50" y1="68.26" x2="502.50" y2="49.23" stroke="#000" stroke-width="0.9" />
<line x1="500.50" y1="68.26" x2="504.50" y2="68.26" stroke="#000" stroke-width="0.9" />
<line x1="500.50" y1="49.23" x2="504.50" y2="49.23" stroke="#000" stroke-width="0.9" />
<polyline points="417.8,84.1 446.2,83.2 474.5,80.4 502.5,79.4" fill="none" stroke="#000" stroke-width="1" stroke-dasharray="2.2,1.4"/>
<polyline points="417.8,70.5 446.2,81.3 474.5,67.7 502.5,59.3" fill="none" stroke="#000" stroke-width="1.1"/>
<circle cx="417.80" cy="84.11" r="2.1" fill="#fff" stroke="#000" stroke-width="0.8"/>
<circle cx="446.20" cy="83.17" r="2.1" fill="#fff" stroke="#000" stroke-width="0.8"/>
<circle cx="474.50" cy="80.36" r="2.1" fill="#fff" stroke="#000" stroke-width="0.8"/>
<circle cx="502.50" cy="79.42" r="2.1" fill="#fff" stroke="#000" stroke-width="0.8"/>
<path d="M417.80,68.31 L420.00,72.27 L415.60,72.27Z" fill="#000"/>
<path d="M446.20,79.09 L448.40,83.05 L444.00,83.05Z" fill="#000"/>
<path d="M474.50,65.50 L476.70,69.46 L472.30,69.46Z" fill="#000"/>
<path d="M502.50,57.06 L504.70,61.02 L500.30,61.02Z" fill="#000"/>
<line x1="407.70" y1="30.00" x2="423.50" y2="30.00" stroke="#000" stroke-width="1.2" />
<path d="M415.50,26.80 L418.50,32.20 L412.50,32.20Z" fill="#000"/>
<text x="425.0" y="33.0" font-size="8" text-anchor="start" font-weight="bold"  style="">Runx3 KO</text>
<line x1="407.70" y1="42.30" x2="411.70" y2="42.30" stroke="#000" stroke-width="1.1" />
<line x1="420.00" y1="42.30" x2="423.70" y2="42.30" stroke="#000" stroke-width="1.1" />
<circle cx="415.50" cy="42.30" r="1.9" fill="#eee" stroke="#000" stroke-width="0.8"/>
<text x="425.0" y="45.2" font-size="8" text-anchor="start" font-weight="bold"  style="">Runx3 WT</text>
<line x1="404.60" y1="143.00" x2="404.60" y2="219.00" stroke="#000" stroke-width="1" />
<line x1="404.10" y1="218.50" x2="515.00" y2="218.50" stroke="#000" stroke-width="1" />
<line x1="401.60" y1="218.50" x2="404.60" y2="218.50" stroke="#000" stroke-width="1" />
<text x="401.2" y="221.3" font-size="7.5" text-anchor="end" font-weight="bold"  style="">0</text>
<line x1="401.60" y1="203.40" x2="404.60" y2="203.40" stroke="#000" stroke-width="1" />
<text x="401.2" y="206.2" font-size="7.5" text-anchor="end" font-weight="bold"  style="">20</text>
<line x1="401.60" y1="188.30" x2="404.60" y2="188.30" stroke="#000" stroke-width="1" />
<text x="401.2" y="191.1" font-size="7.5" text-anchor="end" font-weight="bold"  style="">40</text>
<line x1="401.60" y1="173.20" x2="404.60" y2="173.20" stroke="#000" stroke-width="1" />
<text x="401.2" y="176.0" font-size="7.5" text-anchor="end" font-weight="bold"  style="">60</text>
<line x1="401.60" y1="158.10" x2="404.60" y2="158.10" stroke="#000" stroke-width="1" />
<text x="401.2" y="160.9" font-size="7.5" text-anchor="end" font-weight="bold"  style="">80</text>
<line x1="401.60" y1="143.00" x2="404.60" y2="143.00" stroke="#000" stroke-width="1" />
<text x="401.2" y="145.8" font-size="7.5" text-anchor="end" font-weight="bold"  style="">100</text>
<line x1="418.50" y1="218.50" x2="418.50" y2="221.50" stroke="#000" stroke-width="1" />
<text x="418.5" y="227.0" font-size="7.9" text-anchor="middle" font-weight="bold"  style="">8</text>
<line x1="446.80" y1="218.50" x2="446.80" y2="221.50" stroke="#000" stroke-width="1" />
<text x="446.8" y="227.0" font-size="7.9" text-anchor="middle" font-weight="bold"  style="">12</text>
<line x1="474.50" y1="218.50" x2="474.50" y2="221.50" stroke="#000" stroke-width="1" />
<text x="474.5" y="227.0" font-size="7.9" text-anchor="middle" font-weight="bold"  style="">16</text>
<line x1="502.50" y1="218.50" x2="502.50" y2="221.50" stroke="#000" stroke-width="1" />
<text x="502.5" y="227.0" font-size="7.9" text-anchor="middle" font-weight="bold"  style="">20</text>
<text x="460.0" y="235.5" font-size="7.85" text-anchor="middle" font-weight="bold"  style="">Weeks after  BMT</text>
<text transform="translate(387.0,178.5) rotate(-90)" font-size="7.63" text-anchor="middle" font-weight="bold" >% CD45.2/CD45.2 in myeloid</text>
<line x1="418.50" y1="201.13" x2="418.50" y2="160.37" stroke="#000" stroke-width="0.9" />
<line x1="416.50" y1="201.13" x2="420.50" y2="201.13" stroke="#000" stroke-width="0.9" />
<line x1="416.50" y1="160.37" x2="420.50" y2="160.37" stroke="#000" stroke-width="0.9" />
<line x1="418.50" y1="168.67" x2="418.50" y2="157.72" stroke="#000" stroke-width="0.9" />
<line x1="416.50" y1="168.67" x2="420.50" y2="168.67" stroke="#000" stroke-width="0.9" />
<line x1="416.50" y1="157.72" x2="420.50" y2="157.72" stroke="#000" stroke-width="0.9" />
<line x1="446.80" y1="211.71" x2="446.80" y2="152.81" stroke="#000" stroke-width="0.9" />
<line x1="444.80" y1="211.71" x2="448.80" y2="211.71" stroke="#000" stroke-width="0.9" />
<line x1="444.80" y1="152.81" x2="448.80" y2="152.81" stroke="#000" stroke-width="0.9" />
<line x1="446.80" y1="164.90" x2="446.80" y2="148.66" stroke="#000" stroke-width="0.9" />
<line x1="444.80" y1="164.90" x2="448.80" y2="164.90" stroke="#000" stroke-width="0.9" />
<line x1="444.80" y1="148.66" x2="448.80" y2="148.66" stroke="#000" stroke-width="0.9" />
<line x1="474.50" y1="218.50" x2="474.50" y2="152.06" stroke="#000" stroke-width="0.9" />
<line x1="472.50" y1="218.50" x2="476.50" y2="218.50" stroke="#000" stroke-width="0.9" />
<line x1="472.50" y1="152.06" x2="476.50" y2="152.06" stroke="#000" stroke-width="0.9" />
<line x1="474.50" y1="166.41" x2="474.50" y2="147.91" stroke="#000" stroke-width="0.9" />
<line x1="472.50" y1="166.41" x2="476.50" y2="166.41" stroke="#000" stroke-width="0.9" />
<line x1="472.50" y1="147.91" x2="476.50" y2="147.91" stroke="#000" stroke-width="0.9" />
<line x1="502.50" y1="218.50" x2="502.50" y2="154.32" stroke="#000" stroke-width="0.9" />
<line x1="500.50" y1="218.50" x2="504.50" y2="218.50" stroke="#000" stroke-width="0.9" />
<line x1="500.50" y1="154.32" x2="504.50" y2="154.32" stroke="#000" stroke-width="0.9" />
<line x1="502.50" y1="168.67" x2="502.50" y2="151.31" stroke="#000" stroke-width="0.9" />
<line x1="500.50" y1="168.67" x2="504.50" y2="168.67" stroke="#000" stroke-width="0.9" />
<line x1="500.50" y1="151.31" x2="504.50" y2="151.31" stroke="#000" stroke-width="0.9" />
<polyline points="418.5,179.6 446.8,183.0 474.5,185.7 502.5,186.8" fill="none" stroke="#000" stroke-width="1" stroke-dasharray="2.2,1.4"/>
<polyline points="418.5,164.9 446.8,157.0 474.5,157.0 502.5,160.0" fill="none" stroke="#000" stroke-width="1.1"/>
<circle cx="418.50" cy="179.62" r="2.1" fill="#fff" stroke="#000" stroke-width="0.8"/>
<circle cx="446.80" cy="183.01" r="2.1" fill="#fff" stroke="#000" stroke-width="0.8"/>
<circle cx="474.50" cy="185.66" r="2.1" fill="#fff" stroke="#000" stroke-width="0.8"/>
<circle cx="502.50" cy="186.79" r="2.1" fill="#fff" stroke="#000" stroke-width="0.8"/>
<path d="M418.50,162.70 L420.70,166.66 L416.30,166.66Z" fill="#000"/>
<path d="M446.80,154.77 L449.00,158.73 L444.60,158.73Z" fill="#000"/>
<path d="M474.50,154.77 L476.70,158.73 L472.30,158.73Z" fill="#000"/>
<path d="M502.50,157.79 L504.70,161.75 L500.30,161.75Z" fill="#000"/>
<line x1="401.50" y1="255.20" x2="401.50" y2="331.10" stroke="#000" stroke-width="1" />
<line x1="401.00" y1="330.60" x2="514.70" y2="330.60" stroke="#000" stroke-width="1" />
<line x1="398.50" y1="330.60" x2="401.50" y2="330.60" stroke="#000" stroke-width="1" />
<text x="398.1" y="333.4" font-size="7.5" text-anchor="end" font-weight="bold"  style="">0</text>
<line x1="398.50" y1="311.75" x2="401.50" y2="311.75" stroke="#000" stroke-width="1" />
<text x="398.1" y="314.6" font-size="7.5" text-anchor="end" font-weight="bold"  style="">20</text>
<line x1="398.50" y1="292.90" x2="401.50" y2="292.90" stroke="#000" stroke-width="1" />
<text x="398.1" y="295.7" font-size="7.5" text-anchor="end" font-weight="bold"  style="">40</text>
<line x1="398.50" y1="274.05" x2="401.50" y2="274.05" stroke="#000" stroke-width="1" />
<text x="398.1" y="276.9" font-size="7.5" text-anchor="end" font-weight="bold"  style="">60</text>
<line x1="398.50" y1="255.20" x2="401.50" y2="255.20" stroke="#000" stroke-width="1" />
<text x="398.1" y="258.0" font-size="7.5" text-anchor="end" font-weight="bold"  style="">80</text>
<line x1="415.40" y1="330.60" x2="415.40" y2="333.60" stroke="#000" stroke-width="1" />
<text x="415.4" y="339.5" font-size="7.9" text-anchor="middle" font-weight="bold"  style="">8</text>
<line x1="443.70" y1="330.60" x2="443.70" y2="333.60" stroke="#000" stroke-width="1" />
<text x="443.7" y="339.5" font-size="7.9" text-anchor="middle" font-weight="bold"  style="">12</text>
<line x1="471.70" y1="330.60" x2="471.70" y2="333.60" stroke="#000" stroke-width="1" />
<text x="471.7" y="339.5" font-size="7.9" text-anchor="middle" font-weight="bold"  style="">16</text>
<line x1="500.00" y1="330.60" x2="500.00" y2="333.60" stroke="#000" stroke-width="1" />
<text x="500.0" y="339.5" font-size="7.9" text-anchor="middle" font-weight="bold"  style="">20</text>
<text x="457.5" y="348.0" font-size="7.85" text-anchor="middle" font-weight="bold"  style="">Weeks after  BMT</text>
<text transform="translate(387.0,289.0) rotate(-90)" font-size="7.63" text-anchor="middle" font-weight="bold" >% CD45.2/CD45.2 in B-cells</text>
<line x1="415.40" y1="321.18" x2="415.40" y2="282.53" stroke="#000" stroke-width="0.9" />
<line x1="413.40" y1="321.18" x2="417.40" y2="321.18" stroke="#000" stroke-width="0.9" />
<line x1="413.40" y1="282.53" x2="417.40" y2="282.53" stroke="#000" stroke-width="0.9" />
<line x1="415.40" y1="294.79" x2="415.40" y2="282.53" stroke="#000" stroke-width="0.9" />
<line x1="413.40" y1="294.79" x2="417.40" y2="294.79" stroke="#000" stroke-width="0.9" />
<line x1="413.40" y1="282.53" x2="417.40" y2="282.53" stroke="#000" stroke-width="0.9" />
<line x1="443.70" y1="320.23" x2="443.70" y2="280.65" stroke="#000" stroke-width="0.9" />
<line x1="441.70" y1="320.23" x2="445.70" y2="320.23" stroke="#000" stroke-width="0.9" />
<line x1="441.70" y1="280.65" x2="445.70" y2="280.65" stroke="#000" stroke-width="0.9" />
<line x1="443.70" y1="284.42" x2="443.70" y2="272.17" stroke="#000" stroke-width="0.9" />
<line x1="441.70" y1="284.42" x2="445.70" y2="284.42" stroke="#000" stroke-width="0.9" />
<line x1="441.70" y1="272.17" x2="445.70" y2="272.17" stroke="#000" stroke-width="0.9" />
<line x1="471.70" y1="322.12" x2="471.70" y2="278.76" stroke="#000" stroke-width="0.9" />
<line x1="469.70" y1="322.12" x2="473.70" y2="322.12" stroke="#000" stroke-width="0.9" />
<line x1="469.70" y1="278.76" x2="473.70" y2="278.76" stroke="#000" stroke-width="0.9" />
<line x1="471.70" y1="288.19" x2="471.70" y2="276.88" stroke="#000" stroke-width="0.9" />
<line x1="469.70" y1="288.19" x2="473.70" y2="288.19" stroke="#000" stroke-width="0.9" />
<line x1="469.70" y1="276.88" x2="473.70" y2="276.88" stroke="#000" stroke-width="0.9" />
<line x1="500.00" y1="326.83" x2="500.00" y2="284.42" stroke="#000" stroke-width="0.9" />
<line x1="498.00" y1="326.83" x2="502.00" y2="326.83" stroke="#000" stroke-width="0.9" />
<line x1="498.00" y1="284.42" x2="502.00" y2="284.42" stroke="#000" stroke-width="0.9" />
<line x1="500.00" y1="291.96" x2="500.00" y2="277.35" stroke="#000" stroke-width="0.9" />
<line x1="498.00" y1="291.96" x2="502.00" y2="291.96" stroke="#000" stroke-width="0.9" />
<line x1="498.00" y1="277.35" x2="502.00" y2="277.35" stroke="#000" stroke-width="0.9" />
<polyline points="415.4,302.3 443.7,300.0 471.7,302.3 500.0,304.7" fill="none" stroke="#000" stroke-width="1" stroke-dasharray="2.2,1.4"/>
<polyline points="415.4,288.7 443.7,278.3 471.7,282.5 500.0,284.4" fill="none" stroke="#000" stroke-width="1.1"/>
<circle cx="415.40" cy="302.32" r="2.1" fill="#fff" stroke="#000" stroke-width="0.8"/>
<circle cx="443.70" cy="299.97" r="2.1" fill="#fff" stroke="#000" stroke-width="0.8"/>
<circle cx="471.70" cy="302.32" r="2.1" fill="#fff" stroke="#000" stroke-width="0.8"/>
<circle cx="500.00" cy="304.68" r="2.1" fill="#fff" stroke="#000" stroke-width="0.8"/>
<path d="M415.40,286.46 L417.60,290.42 L413.20,290.42Z" fill="#000"/>
<path d="M443.70,276.09 L445.90,280.05 L441.50,280.05Z" fill="#000"/>
<path d="M471.70,280.33 L473.90,284.29 L469.50,284.29Z" fill="#000"/>
<path d="M500.00,282.22 L502.20,286.18 L497.80,286.18Z" fill="#000"/>
<text x="443.7" y="265.3" font-size="9" text-anchor="middle" font-weight="bold"  style="">*</text>
<text x="471.7" y="270.0" font-size="9" text-anchor="middle" font-weight="bold"  style="">*</text>
<line x1="402.20" y1="365.50" x2="402.20" y2="443.50" stroke="#000" stroke-width="1" />
<line x1="401.70" y1="443.00" x2="516.00" y2="443.00" stroke="#000" stroke-width="1" />
<line x1="399.20" y1="443.00" x2="402.20" y2="443.00" stroke="#000" stroke-width="1" />
<text x="398.8" y="445.8" font-size="7.5" text-anchor="end" font-weight="bold"  style="">0</text>
<line x1="399.20" y1="417.17" x2="402.20" y2="417.17" stroke="#000" stroke-width="1" />
<text x="398.8" y="420.0" font-size="7.5" text-anchor="end" font-weight="bold"  style="">20</text>
<line x1="399.20" y1="391.33" x2="402.20" y2="391.33" stroke="#000" stroke-width="1" />
<text x="398.8" y="394.1" font-size="7.5" text-anchor="end" font-weight="bold"  style="">40</text>
<line x1="399.20" y1="365.50" x2="402.20" y2="365.50" stroke="#000" stroke-width="1" />
<text x="398.8" y="368.3" font-size="7.5" text-anchor="end" font-weight="bold"  style="">60</text>
<line x1="417.80" y1="443.00" x2="417.80" y2="446.00" stroke="#000" stroke-width="1" />
<text x="417.8" y="451.5" font-size="7.9" text-anchor="middle" font-weight="bold"  style="">8</text>
<line x1="446.20" y1="443.00" x2="446.20" y2="446.00" stroke="#000" stroke-width="1" />
<text x="446.2" y="451.5" font-size="7.9" text-anchor="middle" font-weight="bold"  style="">12</text>
<line x1="475.40" y1="443.00" x2="475.40" y2="446.00" stroke="#000" stroke-width="1" />
<text x="475.4" y="451.5" font-size="7.9" text-anchor="middle" font-weight="bold"  style="">16</text>
<line x1="504.60" y1="443.00" x2="504.60" y2="446.00" stroke="#000" stroke-width="1" />
<text x="504.6" y="451.5" font-size="7.9" text-anchor="middle" font-weight="bold"  style="">20</text>
<text x="461.0" y="460.0" font-size="7.85" text-anchor="middle" font-weight="bold"  style="">Weeks after  BMT</text>
<text transform="translate(389.0,401.5) rotate(-90)" font-size="7.63" text-anchor="middle" font-weight="bold" >% CD45.2/CD45.2 in T-cells</text>
<line x1="417.80" y1="440.42" x2="417.80" y2="410.06" stroke="#000" stroke-width="0.9" />
<line x1="415.80" y1="440.42" x2="419.80" y2="440.42" stroke="#000" stroke-width="0.9" />
<line x1="415.80" y1="410.06" x2="419.80" y2="410.06" stroke="#000" stroke-width="0.9" />
<line x1="417.80" y1="430.73" x2="417.80" y2="404.90" stroke="#000" stroke-width="0.9" />
<line x1="415.80" y1="430.73" x2="419.80" y2="430.73" stroke="#000" stroke-width="0.9" />
<line x1="415.80" y1="404.90" x2="419.80" y2="404.90" stroke="#000" stroke-width="0.9" />
<line x1="446.20" y1="439.12" x2="446.20" y2="392.62" stroke="#000" stroke-width="0.9" />
<line x1="444.20" y1="439.12" x2="448.20" y2="439.12" stroke="#000" stroke-width="0.9" />
<line x1="444.20" y1="392.62" x2="448.20" y2="392.62" stroke="#000" stroke-width="0.9" />
<line x1="446.20" y1="421.04" x2="446.20" y2="388.75" stroke="#000" stroke-width="0.9" />
<line x1="444.20" y1="421.04" x2="448.20" y2="421.04" stroke="#000" stroke-width="0.9" />
<line x1="444.20" y1="388.75" x2="448.20" y2="388.75" stroke="#000" stroke-width="0.9" />
<line x1="475.40" y1="443.00" x2="475.40" y2="391.33" stroke="#000" stroke-width="0.9" />
<line x1="473.40" y1="443.00" x2="477.40" y2="443.00" stroke="#000" stroke-width="0.9" />
<line x1="473.40" y1="391.33" x2="477.40" y2="391.33" stroke="#000" stroke-width="0.9" />
<line x1="475.40" y1="423.62" x2="475.40" y2="382.29" stroke="#000" stroke-width="0.9" />
<line x1="473.40" y1="423.62" x2="477.40" y2="423.62" stroke="#000" stroke-width="0.9" />
<line x1="473.40" y1="382.29" x2="477.40" y2="382.29" stroke="#000" stroke-width="0.9" />
<line x1="504.60" y1="443.00" x2="504.60" y2="376.48" stroke="#000" stroke-width="0.9" />
<line x1="502.60" y1="443.00" x2="506.60" y2="443.00" stroke="#000" stroke-width="0.9" />
<line x1="502.60" y1="376.48" x2="506.60" y2="376.48" stroke="#000" stroke-width="0.9" />
<line x1="504.60" y1="426.21" x2="504.60" y2="369.38" stroke="#000" stroke-width="0.9" />
<line x1="502.60" y1="426.21" x2="506.60" y2="426.21" stroke="#000" stroke-width="0.9" />
<line x1="502.60" y1="369.38" x2="506.60" y2="369.38" stroke="#000" stroke-width="0.9" />
<polyline points="417.8,423.0 446.2,413.9 475.4,412.0 504.6,407.5" fill="none" stroke="#000" stroke-width="1" stroke-dasharray="2.2,1.4"/>
<polyline points="417.8,421.0 446.2,407.5 475.4,408.1 504.6,401.7" fill="none" stroke="#000" stroke-width="1.1"/>
<circle cx="417.80" cy="422.98" r="2.1" fill="#fff" stroke="#000" stroke-width="0.8"/>
<circle cx="446.20" cy="413.94" r="2.1" fill="#fff" stroke="#000" stroke-width="0.8"/>
<circle cx="475.40" cy="412.00" r="2.1" fill="#fff" stroke="#000" stroke-width="0.8"/>
<circle cx="504.60" cy="407.48" r="2.1" fill="#fff" stroke="#000" stroke-width="0.8"/>
<path d="M417.80,418.84 L420.00,422.80 L415.60,422.80Z" fill="#000"/>
<path d="M446.20,405.28 L448.40,409.24 L444.00,409.24Z" fill="#000"/>
<path d="M475.40,405.93 L477.60,409.88 L473.20,409.88Z" fill="#000"/>
<path d="M504.60,399.47 L506.80,403.43 L502.40,403.43Z" fill="#000"/>
<path d="M71.1,542.7h.6M39.5,512.4h.6M70.3,529.6h.6M62.6,516.1h.6M49.7,511.2h.6M63.3,513.8h.6M73.0,513.8h.6M47.6,512.4h.6M74.0,531.9h.6M55.7,514.5h.6M58.8,508.5h.6M70.4,516.2h.6M59.5,515.7h.6M79.4,534.8h.6M69.2,513.1h.6M60.8,509.0h.6M68.3,536.8h.6M76.2,541.7h.6M33.7,515.6h.6M66.7,540.8h.6M64.9,541.4h.6M46.0,515.6h.6M58.4,515.4h.6M68.3,503.1h.6M78.3,506.6h.6M48.9,515.5h.6M69.5,537.0h.6M41.6,509.7h.6M68.9,516.7h.6M54.6,513.3h.6M66.0,516.9h.6M80.9,521.3h.6M64.9,537.5h.6M78.0,536.8h.6M59.6,508.3h.6M67.1,518.9h.6M74.8,542.0h.6M77.5,541.4h.6M27.4,546.8h.6M69.5,536.5h.6M84.4,513.1h.6M45.9,513.2h.6M42.2,515.2h.6M70.8,534.3h.6M60.0,497.5h.6M66.3,535.4h.6M63.4,505.9h.6M65.7,512.9h.6M49.1,512.3h.6M44.9,511.8h.6M78.9,514.5h.6M66.0,542.6h.6M44.1,508.4h.6M51.9,513.4h.6M71.5,509.9h.6M44.5,512.3h.6M64.8,542.1h.6M90.7,535.0h.6M60.3,513.7h.6M57.7,507.6h.6M42.1,513.8h.6M74.4,543.9h.6M40.5,517.2h.6M59.8,509.0h.6M55.6,513.9h.6M72.8,539.5h.6M70.2,539.3h.6M56.1,499.3h.6M64.0,536.9h.6M57.8,511.9h.6M30.5,515.0h.6M61.3,516.5h.6M52.1,496.4h.6M34.3,518.9h.6M71.7,517.1h.6M40.9,515.8h.6M40.2,516.7h.6M75.5,520.4h.6M66.8,512.7h.6M60.9,514.4h.6M46.3,506.9h.6M61.3,517.0h.6M46.5,514.2h.6M76.4,536.5h.6M47.8,508.7h.6M46.4,508.0h.6M82.2,531.8h.6M72.3,518.7h.6M67.5,540.2h.6M30.1,514.8h.6M46.3,509.0h.6M69.0,538.4h.6M60.0,516.9h.6M28.6,514.7h.6M61.4,507.7h.6M65.9,539.8h.6M69.4,508.2h.6M38.9,514.3h.6M43.3,508.8h.6M29.0,507.1h.6M83.2,536.6h.6M48.4,510.6h.6M49.4,510.2h.6M71.3,546.6h.6M69.8,511.2h.6M59.4,516.6h.6M69.8,530.7h.6M70.1,541.1h.6M62.9,508.1h.6M60.7,501.8h.6M64.3,513.4h.6M77.6,532.7h.6M71.5,546.2h.6M88.0,539.8h.6M85.9,515.3h.6M66.0,505.6h.6M75.2,518.6h.6M64.5,537.1h.6M58.0,511.5h.6M46.8,515.0h.6M65.1,515.3h.6M65.9,514.0h.6M31.2,515.3h.6M45.8,515.7h.6M49.7,508.5h.6M55.6,515.0h.6M71.5,514.9h.6M62.5,518.1h.6M70.7,516.2h.6M67.6,503.9h.6M27.3,541.7h.6M69.6,517.9h.6M78.5,513.3h.6M56.2,515.6h.6M50.1,515.6h.6M68.5,513.1h.6M85.6,515.1h.6M47.7,515.3h.6M46.3,513.4h.6M64.4,507.0h.6M68.0,534.4h.6M48.4,514.6h.6M36.8,499.9h.6M72.9,535.4h.6M60.0,513.3h.6M63.8,515.6h.6M45.3,514.3h.6M69.0,518.6h.6M28.2,521.9h.6M50.0,511.8h.6M67.9,510.4h.6M67.8,544.7h.6M67.2,537.1h.6M59.2,513.9h.6M87.1,528.8h.6M56.9,513.6h.6M68.0,531.4h.6M74.2,531.3h.6M70.2,519.2h.6M61.6,509.1h.6M58.6,504.4h.6M59.4,517.1h.6M47.4,513.3h.6M78.0,535.3h.6M46.5,515.0h.6M46.4,507.7h.6M71.3,518.5h.6M45.0,509.3h.6M61.2,499.4h.6M48.7,497.0h.6M34.6,509.6h.6M30.6,516.0h.6M30.4,518.0h.6M84.3,533.8h.6M47.0,510.9h.6M42.1,516.6h.6M33.2,513.1h.6M69.2,545.6h.6M72.0,540.9h.6M68.8,548.4h.6M34.4,504.8h.6M68.4,547.0h.6M76.1,543.6h.6M74.4,529.3h.6M51.8,504.0h.6M32.3,519.3h.6M49.2,506.3h.6M48.1,512.4h.6M78.6,533.9h.6M56.2,514.8h.6M74.6,502.4h.6M27.2,561.7h.6M83.0,543.8h.6M71.0,532.4h.6M69.2,544.7h.6M33.4,505.7h.6M33.2,513.6h.6M33.3,515.0h.6M30.9,520.7h.6M70.5,532.3h.6M44.5,513.7h.6M28.2,524.7h.6M41.2,500.8h.6M68.7,531.2h.6M27.8,544.6h.6M42.1,506.5h.6M83.7,511.9h.6M67.7,540.0h.6M52.1,502.0h.6M27.1,522.5h.6M49.2,510.1h.6M59.9,515.7h.6M69.0,508.5h.6M69.5,542.5h.6M76.6,514.8h.6M60.8,514.3h.6M70.6,516.8h.6M65.3,509.9h.6M47.2,510.8h.6M34.7,519.4h.6M80.7,541.7h.6M55.6,512.4h.6M28.1,545.0h.6M65.2,539.3h.6M27.3,547.8h.6M64.7,497.0h.6M68.4,518.0h.6M68.1,538.5h.6M33.1,511.0h.6M63.3,499.3h.6M31.2,516.5h.6M95.7,527.4h.6M40.2,510.7h.6M67.8,538.8h.6M45.9,512.5h.6M63.5,515.4h.6M61.1,498.7h.6M49.5,499.7h.6M27.9,546.1h.6M33.3,518.2h.6M50.0,502.9h.6M48.5,503.4h.6M29.8,521.7h.6M49.6,509.0h.6M51.5,505.2h.6M42.6,515.9h.6M28.2,544.7h.6M33.5,516.8h.6M71.6,540.0h.6M34.2,510.7h.6M66.7,516.7h.6M94.4,530.7h.6M98.5,517.3h.6M88.4,524.4h.6M76.9,514.0h.6M112.4,523.9h.6M80.6,514.5h.6M74.4,516.9h.6M89.0,516.7h.6M94.2,517.4h.6M83.5,527.2h.6M38.9,516.3h.6M39.9,512.8h.6M68.6,533.3h.6M68.8,536.9h.6M97.9,531.6h.6M89.1,533.0h.6M81.1,508.5h.6M50.0,511.8h.6M74.6,517.0h.6M72.0,518.8h.6M78.3,517.8h.6M77.1,506.6h.6M78.4,517.8h.6M96.4,529.4h.6M87.5,525.9h.6M45.3,515.3h.6M79.2,521.1h.6M45.1,514.4h.6M72.0,533.4h.6M98.7,523.6h.6M67.1,518.8h.6M107.6,523.7h.6M93.6,524.5h.6M95.2,515.9h.6M80.4,528.3h.6M79.8,528.7h.6M32.4,519.4h.6M88.1,516.9h.6M79.1,535.9h.6M67.0,518.8h.6M77.1,533.7h.6M84.4,526.4h.6M92.0,522.1h.6M72.5,529.0h.6M39.6,515.2h.6M70.4,530.5h.6M104.9,525.1h.6M90.4,527.7h.6M80.5,521.1h.6M86.0,538.0h.6M75.0,531.9h.6M96.2,510.3h.6M87.3,524.6h.6M70.7,532.7h.6M88.3,518.4h.6M81.2,531.2h.6M87.6,526.2h.6M75.7,530.9h.6M94.3,516.9h.6M82.1,534.2h.6M112.0,520.4h.6M65.3,514.4h.6M69.1,576.3h.6M56.1,514.8h.6M27.7,554.4h.6M63.6,583.9h.6M69.2,571.6h.6M71.4,546.1h.6M75.0,575.3h.6M68.9,537.1h.6M74.6,533.4h.6M74.2,575.8h.6M66.3,582.7h.6M55.8,585.0h.6M70.9,540.9h.6M78.2,538.2h.6M69.1,570.9h.6M58.7,513.6h.6M70.1,540.4h.6M70.5,534.0h.6M72.7,539.9h.6M69.0,540.1h.6M81.8,537.6h.6M57.0,585.7h.6M67.1,578.8h.6M67.6,583.7h.6M73.0,576.7h.6M78.1,537.6h.6M73.9,546.2h.6M74.3,573.9h.6M63.6,579.2h.6M67.4,548.1h.6M77.8,537.0h.6M40.1,515.5h.6M93.3,517.8h.6M64.2,583.7h.6M60.1,582.6h.6M48.3,511.2h.6M68.0,544.2h.6M68.0,580.3h.6M60.5,583.0h.6M92.1,544.5h.6M69.5,535.7h.6M32.4,495.7h.6M58.5,583.9h.6M51.8,509.3h.6M69.2,545.7h.6M31.2,520.5h.6M76.7,545.1h.6M75.2,541.4h.6M69.4,581.4h.6M51.2,510.7h.6M77.6,538.9h.6M66.5,581.0h.6M50.9,508.1h.6M66.1,533.9h.6M69.5,545.2h.6M78.1,575.6h.6M72.2,545.6h.6M53.0,514.5h.6M75.5,580.3h.6M80.0,532.6h.6M89.2,526.7h.6M69.6,577.8h.6M27.7,580.1h.6M71.1,509.8h.6M67.1,580.9h.6M68.5,505.5h.6M64.9,583.6h.6M62.7,580.8h.6M57.2,584.2h.6M66.2,584.0h.6M71.8,577.2h.6M85.9,529.5h.6M53.9,585.7h.6M64.0,518.7h.6M63.4,579.7h.6M64.2,538.2h.6M96.8,585.1h.6M69.1,511.2h.6M66.8,584.8h.6M68.7,546.0h.6M68.1,548.2h.6M66.6,581.0h.6M70.0,511.5h.6M66.4,539.1h.6M71.9,532.0h.6M66.3,536.6h.6M85.9,524.1h.6M72.0,545.9h.6M81.5,582.3h.6M66.7,545.8h.6M79.6,527.8h.6M75.0,540.2h.6M65.8,578.7h.6M80.0,520.4h.6M74.2,584.2h.6M72.2,534.1h.6M71.9,580.6h.6M81.4,577.3h.6M68.6,574.6h.6M65.8,576.1h.6M36.0,584.7h.6M69.0,534.3h.6M52.7,497.2h.6M87.3,521.5h.6M68.1,542.5h.6M71.5,545.5h.6M79.0,527.9h.6M88.5,529.9h.6M53.2,585.5h.6M66.3,543.1h.6M71.4,546.5h.6M49.1,513.8h.6M67.2,538.7h.6M64.7,539.9h.6M76.9,532.2h.6M46.6,514.7h.6M78.8,576.4h.6M73.0,539.8h.6M52.7,512.8h.6M84.1,545.8h.6M76.0,579.9h.6M73.3,533.0h.6M71.4,546.9h.6M66.6,579.5h.6M67.4,573.7h.6M82.6,525.7h.6M69.9,572.0h.6M64.5,538.8h.6M74.6,543.1h.6M91.4,544.1h.6M73.8,544.7h.6M48.1,503.4h.6M66.2,580.1h.6M51.6,496.0h.6M39.8,516.1h.6M72.6,578.9h.6M84.0,525.7h.6M27.9,550.3h.6M78.0,581.7h.6M89.2,546.8h.6M71.3,536.5h.6M76.5,532.2h.6M71.2,541.5h.6M69.1,531.8h.6M53.7,508.3h.6M27.5,544.1h.6M65.6,539.4h.6M70.6,539.6h.6M45.8,508.3h.6M27.2,546.3h.6M71.4,495.5h.6M77.8,543.5h.6M27.2,546.9h.6M70.4,575.0h.6M66.8,574.6h.6M29.7,500.7h.6M68.7,573.3h.6M69.5,585.6h.6M73.9,543.6h.6M50.6,506.3h.6M87.4,533.8h.6M78.7,543.0h.6M27.2,579.0h.6M55.6,510.8h.6M78.7,579.4h.6M40.4,514.6h.6M27.2,540.9h.6M84.2,585.6h.6M45.2,507.4h.6M27.3,566.0h.6M64.4,538.4h.6M29.6,514.1h.6M27.6,518.3h.6M27.7,521.7h.6M27.5,522.8h.6M80.2,542.3h.6M72.3,573.1h.6M71.4,575.9h.6M35.2,512.6h.6M48.9,503.9h.6M75.2,581.8h.6M58.8,584.3h.6M48.5,503.5h.6M40.8,503.4h.6M95.4,582.5h.6M50.8,493.5h.6M90.6,543.5h.6M77.0,544.5h.6M32.8,584.0h.6M73.4,573.7h.6M27.0,543.8h.6M72.0,540.4h.6M45.6,507.7h.6M73.6,585.1h.6M84.8,507.8h.6M47.9,509.9h.6M68.2,531.9h.6M33.9,509.7h.6M79.8,534.7h.6M70.2,541.9h.6M68.6,584.1h.6M48.0,509.6h.6M77.5,545.1h.6M57.7,586.0h.6M28.3,549.0h.6M78.7,538.2h.6M34.2,516.6h.6M80.3,530.3h.6M71.6,548.6h.6M60.9,583.8h.6M107.1,581.2h.6M35.9,512.7h.6M27.8,581.8h.6M56.0,513.2h.6M96.0,585.7h.6M72.8,540.2h.6M75.2,542.6h.6M84.1,533.6h.6M37.5,511.9h.6M84.4,575.2h.6M69.6,542.4h.6M79.1,540.8h.6M92.7,533.4h.6M69.4,532.4h.6M71.9,577.2h.6M56.0,513.2h.6M78.2,529.1h.6M56.0,505.6h.6M58.9,585.7h.6M83.6,577.5h.6M72.4,512.7h.6M89.9,585.6h.6M39.6,516.0h.6M38.2,494.4h.6M64.4,513.9h.6M86.7,532.2h.6M58.2,510.0h.6M62.3,508.2h.6M72.2,578.0h.6M64.4,507.5h.6M52.0,585.9h.6M37.2,497.9h.6M110.8,579.9h.6M73.0,584.7h.6M71.5,572.1h.6M66.8,581.9h.6M79.7,575.5h.6M61.4,584.1h.6M71.8,577.9h.6M97.1,573.2h.6M78.8,582.9h.6M75.2,580.3h.6M61.2,584.5h.6M55.6,585.7h.6M71.4,578.0h.6M27.1,568.8h.6M95.5,579.4h.6M101.4,542.8h.6M72.7,576.9h.6M69.1,574.3h.6M101.5,561.5h.6M75.3,583.9h.6M60.7,585.0h.6M70.6,579.5h.6M71.1,572.3h.6M64.6,578.7h.6M90.7,580.9h.6M87.5,576.4h.6M89.6,544.5h.6M98.0,519.7h.6M78.3,543.9h.6M101.0,550.1h.6M73.1,577.1h.6M97.4,565.3h.6M67.8,538.1h.6M80.3,545.6h.6M99.6,564.2h.6M96.8,566.4h.6M104.5,575.5h.6M78.8,575.0h.6M94.5,572.4h.6M76.0,584.4h.6M93.0,550.6h.6M86.7,579.7h.6M88.4,574.3h.6M110.9,556.9h.6M102.3,569.9h.6M70.2,571.9h.6M94.9,575.0h.6M90.5,575.8h.6M85.4,575.5h.6M100.7,565.9h.6M67.2,583.5h.6M76.5,541.4h.6M98.9,570.7h.6M88.1,580.8h.6M93.1,553.2h.6M88.9,536.5h.6M101.9,547.5h.6M94.6,570.6h.6M108.7,562.9h.6M100.6,546.1h.6M93.6,585.9h.6M70.8,541.7h.6M74.4,576.0h.6M96.3,581.7h.6M74.8,541.7h.6M97.8,546.2h.6M104.2,566.3h.6M97.4,558.5h.6M96.4,563.2h.6M71.2,540.1h.6M78.0,574.7h.6M74.6,575.4h.6M101.6,554.3h.6M69.4,571.2h.6M70.9,581.8h.6M104.4,542.8h.6M70.9,572.2h.6M94.5,546.7h.6M81.6,540.7h.6M65.3,582.9h.6M75.4,546.5h.6M92.4,573.8h.6M93.5,571.3h.6M85.4,581.1h.6M88.4,547.5h.6M92.1,573.7h.6M81.6,540.3h.6M87.0,575.0h.6M74.1,573.4h.6M79.7,536.3h.6M88.6,583.5h.6M92.0,534.1h.6M83.4,578.2h.6M81.5,580.5h.6M70.6,549.3h.6M89.4,544.1h.6M67.0,572.7h.6M76.5,536.1h.6M93.7,540.3h.6M116.8,541.1h.6M86.0,575.4h.6M81.8,530.4h.6M91.7,577.7h.6M103.3,557.3h.6M69.6,542.7h.6M98.5,559.8h.6M70.1,546.0h.6M90.6,574.7h.6M110.7,582.3h.6M93.1,552.9h.6M98.3,555.6h.6M89.7,585.2h.6M97.0,567.9h.6M94.1,580.2h.6M95.2,526.1h.6M81.2,540.9h.6M100.9,565.0h.6M100.5,571.9h.6M106.1,566.1h.6M92.2,549.4h.6M84.7,585.5h.6M75.0,540.9h.6M75.9,532.2h.6M96.5,547.6h.6M84.4,577.4h.6M73.0,580.2h.6M69.4,547.1h.6M90.4,575.1h.6M104.4,566.6h.6M98.1,546.7h.6M83.5,576.3h.6M99.5,555.3h.6M97.9,573.9h.6M91.8,544.0h.6M95.9,572.8h.6M102.3,565.7h.6M86.7,577.0h.6M64.3,540.3h.6M104.6,553.1h.6M98.7,565.0h.6M108.6,553.1h.6M101.1,533.5h.6M105.6,568.4h.6M93.6,554.2h.6M95.6,534.3h.6M84.6,541.8h.6M81.6,544.7h.6M102.1,562.1h.6M77.6,544.5h.6M78.4,545.3h.6M84.4,579.4h.6M97.4,571.8h.6M69.4,537.8h.6M92.5,572.6h.6M68.7,576.8h.6M112.3,551.6h.6M71.8,540.5h.6M69.9,542.1h.6M97.5,560.2h.6M81.7,519.7h.6M107.8,556.9h.6M93.0,538.0h.6M93.9,550.3h.6M98.1,549.2h.6M80.8,543.7h.6M63.8,581.4h.6M96.8,574.5h.6M83.8,543.6h.6M80.2,545.0h.6M71.4,582.3h.6M99.3,557.5h.6M96.0,576.9h.6M101.3,552.1h.6M92.5,574.2h.6M96.1,558.0h.6M91.6,546.7h.6M95.0,568.1h.6M97.7,567.1h.6M95.7,571.1h.6M78.1,542.2h.6M82.2,535.3h.6M99.5,532.5h.6M89.1,522.4h.6M112.9,543.1h.6M96.0,550.5h.6M101.8,543.9h.6M88.2,547.5h.6M78.8,579.3h.6M83.7,580.9h.6M65.2,576.9h.6M86.2,579.1h.6M68.4,575.2h.6M97.9,563.0h.6M67.6,541.8h.6M84.3,538.0h.6M103.9,554.7h.6M74.3,580.8h.6M79.7,578.7h.6M105.1,564.7h.6M103.4,554.5h.6M106.0,546.3h.6M103.5,575.2h.6M110.8,555.7h.6M85.9,536.2h.6M100.2,561.1h.6M85.9,546.2h.6M65.2,541.8h.6M95.7,575.9h.6M103.2,541.7h.6M69.0,541.3h.6M102.4,559.6h.6M98.9,577.3h.6M69.0,571.6h.6M100.3,569.5h.6M120.6,573.2h.6M87.4,533.2h.6M78.6,543.4h.6M64.1,578.3h.6M72.2,578.1h.6M60.9,585.2h.6M104.7,563.3h.6M88.4,536.7h.6M94.7,553.5h.6M94.8,578.1h.6M97.4,563.1h.6M102.4,565.0h.6M102.4,571.0h.6M82.7,577.6h.6M108.1,551.1h.6M117.2,534.8h.6M107.0,540.2h.6M89.2,547.1h.6M96.2,545.8h.6M65.9,583.4h.6M74.0,579.8h.6M82.8,581.5h.6M97.1,553.9h.6M110.2,537.5h.6M103.3,542.5h.6M89.2,583.9h.6M81.1,578.4h.6M111.0,565.3h.6M78.3,544.6h.6M106.6,532.8h.6M73.7,578.8h.6M104.8,564.9h.6M77.1,546.2h.6M67.5,544.4h.6M117.7,562.8h.6M111.7,580.5h.6M55.9,585.1h.6M95.4,576.2h.6M95.4,551.9h.6M63.3,583.0h.6M108.7,559.4h.6M102.4,569.7h.6M76.7,530.7h.6M108.8,533.3h.6M79.4,545.4h.6M67.1,540.8h.6M91.0,549.1h.6M69.7,576.3h.6M114.9,583.8h.6M78.4,544.8h.6M108.7,571.8h.6M100.6,571.7h.6M95.2,556.6h.6M99.1,552.5h.6M107.6,551.4h.6M107.7,548.4h.6M82.7,585.2h.6M63.7,537.9h.6M93.3,553.5h.6M107.8,551.9h.6M101.2,564.9h.6M113.8,571.6h.6M75.6,580.5h.6M61.0,583.9h.6M84.8,576.0h.6M91.5,548.9h.6M80.8,579.7h.6M88.0,578.5h.6M94.4,569.0h.6M63.9,583.8h.6M85.7,582.9h.6M100.3,552.0h.6M70.2,510.1h.6M93.1,546.8h.6M97.7,530.6h.6M106.4,560.0h.6M92.7,573.3h.6M87.8,578.4h.6M69.8,585.7h.6M75.2,574.2h.6M64.6,582.4h.6M70.1,540.5h.6M89.6,574.9h.6M101.5,526.8h.6M114.0,514.4h.6M87.5,517.9h.6M111.5,526.8h.6M81.1,502.4h.6M79.5,512.2h.6M103.1,531.0h.6M44.2,502.3h.6M112.0,525.6h.6M62.1,509.4h.6M71.2,511.1h.6M70.6,548.5h.6M113.3,506.4h.6M113.6,546.4h.6M99.8,551.4h.6M98.2,503.5h.6M99.0,550.1h.6M32.0,502.2h.6M94.0,533.4h.6M44.9,499.1h.6M81.6,506.8h.6M96.3,523.9h.6M118.9,521.8h.6M113.8,524.6h.6M27.9,585.3h.6M67.1,498.6h.6M107.2,572.1h.6M109.8,542.1h.6M95.3,570.8h.6M36.4,496.9h.6M56.5,513.7h.6M95.2,545.6h.6M116.0,524.9h.6M101.3,574.5h.6M98.0,497.1h.6M65.5,493.6h.6M79.7,532.2h.6" stroke="#6a6a6a" stroke-width="0.6" fill="none"/>
<path d="M48.3,516.0 49.2,515.9 50.2,515.9 51.2,515.9 52.2,515.9 53.2,516.0 53.7,516.0 54.7,516.1 55.7,516.3 56.7,516.5 57.2,516.6 58.2,516.8 58.9,517.0 59.7,517.2 60.5,517.5 61.2,517.8 61.9,518.0 62.7,518.3 63.3,518.5 64.2,518.8 64.8,519.0 65.7,519.3 66.7,519.5 67.2,519.6 68.2,519.8 69.2,519.9 70.2,520.0 70.7,520.0 71.7,520.1 72.7,520.2 73.7,520.2 74.7,520.3 75.7,520.5 76.2,520.5 77.2,520.7 78.2,520.9 78.7,521.1 79.7,521.4 80.2,521.5 81.2,522.0 81.7,522.2 82.2,522.6 82.7,523.0 83.2,523.8 83.3,524.5 83.1,525.0 82.7,525.6 82.2,526.0 81.5,526.5 80.7,526.9 80.2,527.1 79.2,527.4 78.7,527.6 77.7,527.8 76.7,528.0 76.2,528.1 75.2,528.3 74.2,528.4 73.7,528.5 72.7,528.7 71.7,528.9 71.2,529.0 70.2,529.4 69.7,529.6 69.1,530.0 68.5,530.5 68.0,531.0 67.5,531.5 67.1,532.0 66.7,532.6 66.2,533.3 65.8,534.0 65.4,534.5 65.1,535.0 64.7,535.6 64.2,536.5 63.9,537.0 63.7,537.6 63.5,538.5 63.5,539.5 63.7,540.3 63.9,541.0 64.2,541.7 64.6,542.5 64.8,543.0 65.2,543.9 65.5,544.5 65.7,545.0 66.2,546.0 66.4,546.5 66.7,547.0 67.2,548.0 67.6,548.5 67.9,549.0 68.5,549.5 69.2,549.8 70.2,549.7 70.7,549.5 71.6,549.0 72.2,548.7 72.7,548.3 73.3,548.0 74.1,547.5 74.7,547.2 75.2,547.0 76.2,546.6 76.7,546.4 77.7,546.1 78.2,546.0 79.2,545.8 80.2,545.7 81.2,545.7 82.2,545.8 83.1,546.0 83.7,546.1 84.7,546.4 85.2,546.6 86.1,547.0 86.7,547.3 87.2,547.6 87.8,548.0 88.5,548.5 89.2,549.0 89.7,549.5 90.2,549.9 90.7,550.5 91.2,551.0 91.6,551.5 92.0,552.0 92.4,552.5 92.7,553.0 93.2,553.7 93.7,554.5 93.9,555.0 94.2,555.5 94.6,556.5 94.9,557.0 95.2,557.9 95.4,558.5 95.7,559.5 95.8,560.0 95.9,561.0 96.0,562.0 96.1,563.0 96.0,564.0 95.8,565.0 95.7,565.6 95.4,566.5 95.2,567.1 94.7,568.0 94.5,568.5 94.1,569.0 93.7,569.6 93.2,570.2 92.7,570.7 92.2,571.2 91.7,571.6 91.2,572.0 90.5,572.5 89.7,573.0 89.2,573.2 88.6,573.5 87.7,573.9 87.2,574.1 86.2,574.4 85.7,574.5 84.7,574.7 83.7,574.8 82.7,574.9 81.7,574.9 80.7,574.9 79.7,574.8 78.7,574.6 78.1,574.5 77.2,574.3 76.3,574.0 75.7,573.8 75.0,573.5 74.2,573.1 73.7,572.9 73.0,572.5 72.2,572.0 71.7,571.8 71.2,571.5 70.2,571.0 69.7,570.8 68.7,570.8 68.2,571.1 67.7,571.5 67.2,572.2 66.8,573.0 66.5,573.5 66.2,574.2 65.8,575.0 65.6,575.5 65.2,576.3 64.8,577.0 64.5,577.5 64.2,578.0 63.7,578.8 63.2,579.4 62.7,580.0 62.3,580.5 61.8,581.0 61.2,581.5 60.7,581.9 60.2,582.3 59.7,582.6 59.1,583.0 58.2,583.5 57.7,583.8 57.2,584.0 56.2,584.4 55.7,584.6 54.7,585.0 54.2,585.1 53.2,585.4 52.7,585.5 51.7,585.7 50.7,585.9 49.9,586.0 49.2,586.1 48.2,586.2 47.2,586.2 46.2,586.2 45.2,586.2 44.2,586.2 43.2,586.1 42.2,586.0 41.7,586.0 40.7,585.8 39.7,585.7 39.0,585.5 38.2,585.3 37.2,585.1 36.7,584.9 35.7,584.6 35.2,584.4 34.2,584.0 33.7,583.8 33.1,583.5 32.2,583.0 31.7,582.7 31.2,582.4 30.6,582.0 29.9,581.5 29.3,581.0 28.8,580.5 28.3,580.0 27.9,579.5 27.6,579.0 27.2,578.3 26.9,577.5 26.7,576.8 26.5,576.0 26.5,575.0 26.5,574.0 26.7,573.0 26.7,572.5 26.9,571.5 27.1,570.5 27.2,569.8 27.3,569.0 27.4,568.0 27.5,567.0 27.5,566.0 27.5,565.0 27.4,564.0 27.4,563.0 27.4,562.0 27.3,561.0 27.3,560.0 27.3,559.0 27.4,558.0 27.4,557.0 27.5,556.0 27.6,555.0 27.7,554.5 27.9,553.5 28.1,552.5 28.2,551.8 28.4,551.0 28.6,550.0 28.7,549.2 28.8,548.5 28.8,547.5 28.8,546.5 28.7,545.9 28.5,545.0 28.2,544.0 28.0,543.5 27.7,542.5 27.5,542.0 27.2,541.0 27.1,540.5 26.9,539.5 26.7,538.5 26.6,538.0 26.5,537.0 26.5,536.0 26.4,535.0 26.5,534.0 26.6,533.0 26.7,532.0 26.8,531.5 27.0,530.5 27.2,529.5 27.3,529.0 27.7,528.0 27.9,527.5 28.2,526.7 28.6,526.0 28.8,525.5 29.2,524.9 29.7,524.1 30.2,523.5 30.6,523.0 31.1,522.5 31.6,522.0 32.1,521.5 32.7,521.0 33.2,520.6 33.7,520.3 34.2,520.0 35.0,519.5 35.7,519.1 36.2,518.9 37.1,518.5 37.7,518.2 38.4,518.0 39.2,517.7 39.9,517.5 40.7,517.3 41.7,517.0 42.2,516.9 43.2,516.7 44.2,516.5 44.7,516.4 45.7,516.3 46.7,516.1 47.7,516.0 48.3,516.0ZM49.3,519.0 50.2,518.9 51.2,518.8 52.2,518.8 53.2,518.8 54.2,518.9 54.7,519.0 55.7,519.1 56.7,519.4 57.3,519.5 58.2,519.8 58.9,520.0 59.7,520.3 60.2,520.5 61.2,520.9 61.7,521.1 62.5,521.5 63.2,521.9 63.7,522.1 64.4,522.5 65.2,523.0 65.7,523.3 66.2,523.7 66.7,524.3 67.0,525.0 66.7,525.8 66.3,526.5 66.0,527.0 65.7,527.5 65.2,528.3 64.8,529.0 64.5,529.5 64.2,530.0 63.7,530.8 63.2,531.5 62.9,532.0 62.5,532.5 62.1,533.0 61.7,533.5 61.2,534.1 60.7,534.6 60.2,535.1 59.7,535.7 59.2,536.2 58.7,536.9 58.3,537.5 58.0,538.0 57.9,539.0 58.1,540.0 58.3,540.5 58.7,541.2 59.2,541.9 59.6,542.5 60.0,543.0 60.3,543.5 60.7,544.1 61.2,544.9 61.6,545.5 61.9,546.0 62.2,546.7 62.6,547.5 62.8,548.0 63.2,548.9 63.4,549.5 63.7,550.3 63.9,551.0 64.2,552.0 64.3,552.5 64.6,553.5 64.7,554.1 64.9,555.0 65.0,556.0 65.1,557.0 65.2,558.0 65.2,559.0 65.1,560.0 65.0,561.0 64.8,562.0 64.7,562.6 64.5,563.5 64.2,564.5 64.1,565.0 63.8,566.0 63.6,566.5 63.3,567.5 63.1,568.0 62.7,568.9 62.4,569.5 62.2,570.0 61.8,571.0 61.5,571.5 61.2,572.1 60.7,573.0 60.4,573.5 60.1,574.0 59.7,574.5 59.2,575.2 58.7,575.8 58.2,576.3 57.7,576.8 57.2,577.2 56.7,577.6 56.1,578.0 55.3,578.5 54.7,578.8 54.2,579.1 53.2,579.4 52.7,579.6 51.7,579.9 51.1,580.0 50.2,580.2 49.2,580.3 48.2,580.3 47.2,580.4 46.2,580.3 45.2,580.3 44.2,580.1 43.5,580.0 42.7,579.8 41.7,579.6 41.2,579.4 40.2,579.0 39.7,578.7 39.2,578.5 38.5,578.0 37.9,577.5 37.3,577.0 36.9,576.5 36.6,576.0 36.2,575.4 35.8,574.5 35.6,574.0 35.3,573.0 35.2,572.4 35.0,571.5 34.9,570.5 34.7,569.5 34.6,569.0 34.5,568.0 34.3,567.0 34.2,566.5 34.0,565.5 33.9,564.5 33.7,563.5 33.6,563.0 33.5,562.0 33.4,561.0 33.4,560.0 33.4,559.0 33.4,558.0 33.5,557.0 33.6,556.0 33.7,555.5 33.9,554.5 34.1,553.5 34.3,553.0 34.6,552.0 34.8,551.5 35.1,550.5 35.3,550.0 35.6,549.0 35.7,548.5 36.0,547.5 36.0,546.5 35.8,545.5 35.6,545.0 35.2,544.4 34.7,543.9 34.2,543.4 33.7,542.9 33.2,542.4 32.7,541.8 32.2,541.2 31.7,540.5 31.5,540.0 31.2,539.3 30.9,538.5 30.7,537.5 30.7,537.0 30.7,536.0 30.7,535.5 30.8,534.5 31.1,533.5 31.2,533.0 31.5,532.0 31.7,531.5 32.1,530.5 32.3,530.0 32.7,529.2 33.1,528.5 33.4,528.0 33.7,527.5 34.2,526.7 34.7,526.1 35.2,525.5 35.7,525.0 36.2,524.5 36.7,524.1 37.2,523.7 37.7,523.3 38.2,523.0 38.9,522.5 39.7,522.1 40.2,521.8 40.8,521.5 41.7,521.1 42.2,520.9 43.2,520.5 43.7,520.3 44.7,520.0 45.2,519.8 46.2,519.6 46.7,519.5 47.7,519.2 48.7,519.1 49.3,519.0ZM79.6,550.0 80.2,549.9 81.2,549.9 81.8,550.0 82.7,550.2 83.7,550.5 84.2,550.7 84.8,551.0 85.6,551.5 86.2,551.9 86.7,552.3 87.2,552.8 87.7,553.4 88.2,554.0 88.6,554.5 88.9,555.0 89.2,555.6 89.6,556.5 89.8,557.0 90.2,558.0 90.3,558.5 90.5,559.5 90.5,560.5 90.5,561.5 90.4,562.5 90.2,563.4 90.0,564.0 89.7,564.8 89.3,565.5 89.0,566.0 88.6,566.5 88.2,567.0 87.7,567.5 87.1,568.0 86.4,568.5 85.7,568.9 85.2,569.1 84.2,569.5 83.7,569.6 82.7,569.8 81.7,569.9 80.7,569.9 79.7,569.7 78.8,569.5 78.2,569.3 77.4,569.0 76.7,568.6 76.2,568.3 75.7,568.0 75.1,567.5 74.5,567.0 74.0,566.5 73.6,566.0 73.2,565.4 72.7,564.6 72.4,564.0 72.1,563.5 71.8,562.5 71.6,562.0 71.4,561.0 71.3,560.0 71.4,559.0 71.5,558.0 71.7,557.2 71.9,556.5 72.2,555.8 72.6,555.0 72.9,554.5 73.2,554.0 73.7,553.4 74.2,552.8 74.7,552.3 75.2,551.9 75.7,551.5 76.6,551.0 77.2,550.7 77.7,550.5 78.7,550.2 79.6,550.0ZM48.3,521.0 49.2,520.8 50.2,520.7 51.2,520.6 52.2,520.5 53.2,520.5 54.2,520.6 55.2,520.8 56.2,521.0 56.7,521.1 57.7,521.4 58.2,521.6 59.1,522.0 59.7,522.3 60.2,522.6 60.8,523.0 61.4,523.5 62.0,524.0 62.3,524.5 62.7,525.2 62.9,526.0 62.8,527.0 62.7,527.5 62.4,528.5 62.2,529.0 61.7,529.9 61.4,530.5 61.0,531.0 60.7,531.5 60.2,532.1 59.7,532.6 59.2,533.1 58.7,533.5 58.1,534.0 57.5,534.5 56.8,535.0 56.2,535.4 55.7,535.7 55.2,536.1 54.5,536.5 53.8,537.0 53.2,537.4 52.7,537.8 52.2,538.2 51.7,538.8 51.4,539.5 51.7,540.1 52.2,540.6 52.8,541.0 53.7,541.5 54.2,541.8 54.7,542.1 55.3,542.5 56.0,543.0 56.6,543.5 57.2,544.0 57.7,544.5 58.2,545.0 58.6,545.5 59.0,546.0 59.4,546.5 59.7,547.0 60.2,547.7 60.6,548.5 60.9,549.0 61.2,549.8 61.5,550.5 61.7,551.1 62.0,552.0 62.2,552.8 62.4,553.5 62.5,554.5 62.7,555.5 62.7,556.0 62.8,557.0 62.8,558.0 62.8,559.0 62.7,560.0 62.7,560.5 62.5,561.5 62.3,562.5 62.2,563.1 62.0,564.0 61.7,564.8 61.5,565.5 61.2,566.2 60.9,567.0 60.6,567.5 60.2,568.4 59.9,569.0 59.6,569.5 59.2,570.1 58.7,570.8 58.2,571.4 57.7,572.0 57.3,572.5 56.7,573.0 56.2,573.5 55.7,573.9 55.2,574.2 54.7,574.5 53.7,575.0 53.2,575.2 52.2,575.5 51.7,575.6 50.7,575.8 49.7,575.8 48.7,575.8 47.7,575.7 46.7,575.5 46.2,575.3 45.3,575.0 44.7,574.7 44.2,574.5 43.5,574.0 42.9,573.5 42.4,573.0 41.9,572.5 41.6,572.0 41.2,571.5 40.7,570.7 40.3,570.0 40.1,569.5 39.7,568.7 39.4,568.0 39.2,567.5 38.8,566.5 38.6,566.0 38.3,565.0 38.2,564.5 37.9,563.5 37.7,562.6 37.6,562.0 37.5,561.0 37.4,560.0 37.4,559.0 37.4,558.0 37.5,557.0 37.7,556.0 37.8,555.5 38.0,554.5 38.2,554.0 38.5,553.0 38.8,552.5 39.2,551.5 39.5,551.0 39.7,550.5 40.2,549.7 40.6,549.0 40.9,548.5 41.3,548.0 41.7,547.4 42.2,546.7 42.7,546.0 43.0,545.5 43.4,545.0 43.8,544.5 44.2,543.9 44.7,543.2 45.2,542.5 45.5,542.0 45.7,541.5 45.7,540.6 45.2,540.1 44.7,539.8 44.0,539.5 43.2,539.3 42.3,539.0 41.7,538.9 40.7,538.7 39.7,538.6 38.7,538.6 37.7,538.6 37.2,538.5 36.2,538.2 35.7,537.9 35.2,537.4 34.8,536.5 34.7,536.0 34.7,535.3 34.8,534.5 35.1,533.5 35.2,533.0 35.6,532.0 35.8,531.5 36.2,530.6 36.5,530.0 36.7,529.5 37.2,528.6 37.6,528.0 37.9,527.5 38.3,527.0 38.7,526.5 39.2,526.0 39.7,525.5 40.2,525.0 40.8,524.5 41.5,524.0 42.2,523.6 42.7,523.3 43.2,523.0 44.1,522.5 44.7,522.2 45.2,522.0 46.2,521.6 46.7,521.5 47.7,521.2 48.3,521.0ZM78.9,553.0 79.7,552.8 80.7,552.7 81.7,552.8 82.5,553.0 83.2,553.3 83.7,553.5 84.4,554.0 85.0,554.5 85.5,555.0 85.9,555.5 86.3,556.0 86.7,556.8 87.0,557.5 87.2,558.1 87.4,559.0 87.5,560.0 87.4,561.0 87.3,562.0 87.1,562.5 86.7,563.4 86.4,564.0 86.0,564.5 85.5,565.0 84.9,565.5 84.2,566.0 83.7,566.2 82.9,566.5 82.2,566.6 81.2,566.7 80.2,566.7 79.5,566.5 78.7,566.2 78.2,566.0 77.4,565.5 76.7,565.0 76.2,564.5 75.8,564.0 75.5,563.5 75.2,563.0 74.7,562.0 74.6,561.5 74.4,560.5 74.3,559.5 74.4,558.5 74.6,557.5 74.8,557.0 75.2,556.2 75.6,555.5 76.0,555.0 76.4,554.5 77.0,554.0 77.7,553.5 78.2,553.3 78.9,553.0ZM50.9,522.0 51.7,521.9 52.7,521.9 53.7,522.0 54.2,522.0 55.2,522.2 56.2,522.5 56.7,522.6 57.6,523.0 58.2,523.3 58.7,523.7 59.2,524.0 59.7,524.5 60.2,525.2 60.5,526.0 60.6,527.0 60.5,528.0 60.2,529.0 59.9,529.5 59.7,530.0 59.2,530.7 58.7,531.3 58.2,531.8 57.7,532.2 57.2,532.6 56.6,533.0 55.8,533.5 55.2,533.8 54.7,534.0 53.7,534.5 53.2,534.6 52.2,534.9 51.7,535.1 50.7,535.3 49.7,535.4 48.7,535.5 47.7,535.5 46.7,535.4 45.7,535.2 44.7,535.0 44.2,534.9 43.2,534.5 42.7,534.2 42.2,534.0 41.6,533.5 41.1,533.0 40.7,532.3 40.4,531.5 40.4,530.5 40.5,529.5 40.7,529.0 41.1,528.0 41.4,527.5 41.8,527.0 42.2,526.4 42.7,525.9 43.2,525.4 43.7,525.0 44.4,524.5 45.1,524.0 45.7,523.7 46.2,523.4 47.1,523.0 47.7,522.8 48.5,522.5 49.2,522.3 50.2,522.1 50.9,522.0ZM49.4,545.0 50.2,544.7 51.2,544.6 52.2,544.6 53.2,544.7 54.2,545.0 54.7,545.2 55.3,545.5 56.1,546.0 56.7,546.5 57.2,547.0 57.7,547.5 58.1,548.0 58.5,548.5 58.8,549.0 59.2,549.6 59.6,550.5 59.9,551.0 60.2,551.9 60.4,552.5 60.7,553.5 60.8,554.0 61.0,555.0 61.1,556.0 61.2,557.0 61.2,558.0 61.2,559.0 61.1,560.0 60.9,561.0 60.7,562.0 60.6,562.5 60.3,563.5 60.1,564.0 59.8,565.0 59.5,565.5 59.2,566.2 58.7,567.0 58.4,567.5 58.1,568.0 57.7,568.5 57.2,569.1 56.7,569.6 56.2,570.1 55.7,570.5 55.0,571.0 54.2,571.4 53.7,571.7 52.7,572.0 52.2,572.1 51.2,572.2 50.2,572.1 49.4,572.0 48.7,571.8 47.9,571.5 47.2,571.2 46.7,570.8 46.2,570.5 45.6,570.0 45.1,569.5 44.6,569.0 44.2,568.5 43.7,567.9 43.2,567.1 42.8,566.5 42.5,566.0 42.2,565.4 41.8,564.5 41.6,564.0 41.3,563.0 41.1,562.5 40.9,561.5 40.7,560.5 40.7,560.0 40.6,559.0 40.6,558.0 40.7,557.4 40.8,556.5 41.1,555.5 41.2,555.0 41.5,554.0 41.7,553.5 42.2,552.5 42.4,552.0 42.7,551.5 43.2,550.7 43.7,550.0 44.0,549.5 44.4,549.0 44.9,548.5 45.3,548.0 45.8,547.5 46.3,547.0 46.9,546.5 47.6,546.0 48.2,545.6 48.7,545.3 49.4,545.0ZM79.1,556.0 79.7,555.7 80.7,555.6 81.7,555.7 82.4,556.0 83.2,556.5 83.6,557.0 84.0,557.5 84.3,558.0 84.6,559.0 84.6,560.0 84.5,561.0 84.2,561.7 83.7,562.4 83.2,562.9 82.7,563.2 82.1,563.5 81.2,563.7 80.2,563.6 79.7,563.5 78.8,563.0 78.2,562.5 77.8,562.0 77.5,561.5 77.2,560.6 77.1,560.0 77.1,559.0 77.2,558.5 77.6,557.5 77.9,557.0 78.4,556.5 79.1,556.0ZM50.0,523.5 50.7,523.4 51.7,523.2 52.7,523.2 53.7,523.3 54.7,523.4 55.2,523.6 56.2,524.0 56.7,524.2 57.2,524.5 57.7,525.0 58.2,525.5 58.6,526.5 58.7,527.0 58.7,527.7 58.5,528.5 58.2,529.2 57.7,530.0 57.3,530.5 56.8,531.0 56.2,531.5 55.7,531.8 55.2,532.1 54.3,532.5 53.7,532.7 52.7,533.0 52.2,533.1 51.2,533.3 50.2,533.3 49.2,533.3 48.2,533.2 47.4,533.0 46.7,532.8 46.1,532.5 45.2,532.0 44.7,531.5 44.3,531.0 44.0,530.5 43.8,529.5 43.9,528.5 44.2,527.8 44.6,527.0 45.0,526.5 45.4,526.0 46.0,525.5 46.6,525.0 47.2,524.7 47.7,524.4 48.5,524.0 49.2,523.7 50.0,523.5ZM50.0,547.5 50.7,547.2 51.7,547.0 52.7,547.0 53.7,547.2 54.5,547.5 55.2,547.9 55.7,548.2 56.2,548.6 56.7,549.1 57.2,549.6 57.7,550.3 58.1,551.0 58.4,551.5 58.7,552.2 59.0,553.0 59.2,553.7 59.4,554.5 59.6,555.5 59.7,556.4 59.7,557.0 59.8,558.0 59.7,559.0 59.7,559.5 59.5,560.5 59.3,561.5 59.2,562.0 58.9,563.0 58.7,563.5 58.2,564.5 57.9,565.0 57.6,565.5 57.2,566.2 56.7,566.8 56.2,567.3 55.7,567.8 55.2,568.1 54.6,568.5 53.7,568.9 53.2,569.1 52.2,569.3 51.2,569.3 50.2,569.1 49.7,569.0 48.7,568.5 48.2,568.2 47.7,567.9 47.2,567.4 46.7,567.0 46.2,566.4 45.7,565.8 45.2,565.1 44.9,564.5 44.6,564.0 44.2,563.1 44.0,562.5 43.7,561.6 43.5,561.0 43.4,560.0 43.3,559.0 43.3,558.0 43.4,557.0 43.6,556.0 43.7,555.5 44.0,554.5 44.2,554.0 44.7,553.0 44.9,552.5 45.2,552.0 45.7,551.2 46.2,550.6 46.7,550.0 47.1,549.5 47.7,549.0 48.2,548.6 48.7,548.2 49.2,547.9 50.0,547.5ZM50.1,525.0 50.7,524.8 51.7,524.6 52.7,524.6 53.7,524.7 54.7,525.0 55.2,525.2 55.7,525.6 56.2,526.0 56.7,527.0 56.7,527.5 56.7,528.0 56.3,529.0 55.9,529.5 55.4,530.0 54.8,530.5 54.2,530.8 53.7,531.0 52.7,531.3 51.7,531.5 51.2,531.5 50.6,531.5 49.7,531.4 48.7,531.1 48.2,530.8 47.7,530.5 47.2,530.0 46.8,529.0 46.8,528.0 47.2,527.2 47.7,526.5 48.2,526.1 48.7,525.7 49.2,525.4 50.1,525.0ZM50.9,549.5 51.7,549.3 52.7,549.2 53.7,549.4 54.2,549.6 54.9,550.0 55.6,550.5 56.1,551.0 56.5,551.5 56.9,552.0 57.2,552.6 57.6,553.5 57.8,554.0 58.1,555.0 58.2,555.6 58.3,556.5 58.4,557.5 58.4,558.5 58.3,559.5 58.2,560.0 58.0,561.0 57.7,561.8 57.4,562.5 57.2,563.0 56.7,563.9 56.3,564.5 55.9,565.0 55.3,565.5 54.7,566.0 54.2,566.3 53.7,566.5 52.7,566.8 51.7,566.8 50.7,566.6 50.2,566.4 49.4,566.0 48.7,565.5 48.2,565.1 47.7,564.5 47.3,564.0 47.0,563.5 46.7,563.0 46.2,562.0 46.1,561.5 45.8,560.5 45.7,560.0 45.6,559.0 45.5,558.0 45.6,557.0 45.7,556.5 45.9,555.5 46.2,554.7 46.5,554.0 46.7,553.5 47.2,552.7 47.7,552.0 48.1,551.5 48.6,551.0 49.1,550.5 49.7,550.1 50.2,549.8 50.9,549.5ZM51.2,527.0 51.7,526.8 52.7,526.8 53.2,527.0 53.7,527.7 53.7,528.0 53.2,528.7 52.6,529.0 51.7,529.1 51.1,529.0 50.5,528.5 50.6,527.5 51.2,527.0ZM50.8,552.0 51.7,551.6 52.7,551.5 53.7,551.8 54.2,552.0 54.9,552.5 55.4,553.0 55.7,553.5 56.2,554.4 56.4,555.0 56.7,555.9 56.8,556.5 56.9,557.5 56.9,558.5 56.7,559.5 56.6,560.0 56.3,561.0 56.1,561.5 55.7,562.2 55.2,562.9 54.7,563.4 54.2,563.8 53.7,564.0 52.7,564.3 51.7,564.3 50.8,564.0 50.2,563.7 49.7,563.3 49.2,562.7 48.7,562.0 48.4,561.5 48.2,561.0 47.9,560.0 47.7,559.1 47.7,558.5 47.7,557.5 47.7,557.0 47.9,556.0 48.2,555.2 48.5,554.5 48.8,554.0 49.2,553.4 49.7,552.9 50.2,552.4 50.8,552.0ZM51.4,555.0 52.2,554.6 53.2,554.7 53.8,555.0 54.2,555.5 54.7,556.5 54.8,557.0 54.9,558.0 54.7,559.0 54.5,559.5 54.2,560.2 53.7,560.7 53.2,561.1 52.2,561.2 51.6,561.0 51.0,560.5 50.6,560.0 50.2,559.0 50.1,558.5 50.1,557.5 50.2,557.0 50.6,556.0 50.9,555.5 51.4,555.0Z" stroke="#2a2a2a" stroke-width="0.7" fill="none" stroke-linejoin="round"/>
<rect x="26.20" y="492.50" width="95.30" height="94.30" fill="none" stroke="#3a3a3a" stroke-width="0.9" />
<line x1="24.70" y1="516.08" x2="26.20" y2="516.08" stroke="#555" stroke-width="0.6" />
<line x1="50.02" y1="586.80" x2="50.02" y2="588.30" stroke="#555" stroke-width="0.6" />
<line x1="24.70" y1="539.65" x2="26.20" y2="539.65" stroke="#555" stroke-width="0.6" />
<line x1="73.85" y1="586.80" x2="73.85" y2="588.30" stroke="#555" stroke-width="0.6" />
<line x1="24.70" y1="563.22" x2="26.20" y2="563.22" stroke="#555" stroke-width="0.6" />
<line x1="97.67" y1="586.80" x2="97.67" y2="588.30" stroke="#555" stroke-width="0.6" />
<rect x="26.80" y="509.20" width="38.50" height="31.20" fill="none" stroke="#111" stroke-width="1.2" />
<rect x="70.50" y="512.00" width="29.00" height="24.70" fill="none" stroke="#111" stroke-width="1.1" />
<text x="72" y="490.3" font-size="10.1" text-anchor="middle" font-weight="bold"><tspan font-style="italic">Runx3</tspan> WT</text>
<text x="50.5" y="504.4" font-size="10.3" text-anchor="middle" font-weight="normal" stroke="#000" stroke-width="0.4" style="">23.68</text>
<text x="89.3" y="508.3" font-size="10.3" text-anchor="middle" font-weight="normal" stroke="#000" stroke-width="0.4" style="">2.66</text>
<line x1="17.80" y1="594.50" x2="17.80" y2="527.50" stroke="#000" stroke-width="1.4" />
<path d="M17.8,523.5 l-3,6 h6Z" fill="#000"/>
<line x1="17.30" y1="594.00" x2="84.70" y2="594.00" stroke="#000" stroke-width="1.4" />
<path d="M88.7,594 l-6,-3 v6Z" fill="#000"/>
<text transform="translate(14.5,562.0) rotate(-90)" font-size="9.8" text-anchor="middle" font-weight="bold" >c-Kit</text>
<text x="50.0" y="605.5" font-size="10.4" text-anchor="middle" font-weight="bold" textLength="25" lengthAdjust="spacingAndGlyphs" style="">Sca-1</text>
<path d="M190.4,518.9h.6M168.3,509.2h.6M140.2,516.5h.6M176.6,513.1h.6M152.9,499.3h.6M158.1,504.6h.6M130.9,556.6h.6M156.6,506.9h.6M153.2,512.7h.6M144.6,513.4h.6M166.1,508.6h.6M170.0,537.3h.6M166.4,544.7h.6M187.7,543.6h.6M165.1,545.8h.6M137.9,513.3h.6M158.4,506.2h.6M176.1,514.9h.6M170.9,512.0h.6M173.2,538.0h.6M199.4,510.6h.6M137.2,511.1h.6M167.8,511.1h.6M177.9,537.6h.6M181.1,539.8h.6M132.4,501.9h.6M142.2,508.5h.6M153.1,512.4h.6M181.4,517.2h.6M190.8,503.7h.6M145.4,510.2h.6M170.0,538.0h.6M170.6,536.4h.6M130.9,512.4h.6M147.5,497.9h.6M155.4,508.4h.6M158.1,502.1h.6M148.7,501.3h.6M140.1,508.1h.6M191.0,530.9h.6M153.4,509.9h.6M181.3,512.3h.6M177.8,541.6h.6M155.3,510.2h.6M169.1,541.2h.6M142.6,509.2h.6M177.6,538.0h.6M167.3,546.7h.6M144.3,507.1h.6M140.1,509.0h.6M162.1,510.0h.6M176.7,543.1h.6M182.2,509.4h.6M164.2,545.7h.6M163.5,510.3h.6M142.8,498.0h.6M154.9,505.8h.6M179.5,505.2h.6M182.5,514.2h.6M180.0,549.6h.6M142.0,501.4h.6M185.9,536.1h.6M163.8,513.3h.6M143.5,503.3h.6M166.9,539.2h.6M176.1,505.6h.6M152.5,512.3h.6M177.4,542.3h.6M163.1,512.0h.6M149.2,509.4h.6M138.9,512.3h.6M180.2,534.1h.6M168.4,505.3h.6M159.1,507.7h.6M165.6,543.1h.6M139.9,514.8h.6M172.7,514.4h.6M167.8,541.9h.6M166.3,500.0h.6M169.8,515.1h.6M150.7,512.3h.6M176.1,534.8h.6M169.2,541.4h.6M185.9,544.4h.6M159.9,510.7h.6M149.3,507.1h.6M134.7,502.7h.6M171.0,537.5h.6M174.7,537.5h.6M176.1,541.7h.6M138.5,509.8h.6M162.5,509.6h.6M166.3,542.4h.6M155.6,508.6h.6M139.2,517.0h.6M137.3,512.7h.6M169.1,542.8h.6M162.6,500.4h.6M145.5,510.6h.6M137.1,514.5h.6M168.1,549.7h.6M187.2,506.8h.6M170.8,514.4h.6M134.5,518.8h.6M168.7,514.3h.6M181.2,516.1h.6M136.5,512.2h.6M178.1,538.9h.6M166.2,502.3h.6M162.4,512.6h.6M186.5,532.2h.6M169.8,539.8h.6M138.4,509.9h.6M138.5,507.5h.6M174.6,551.9h.6M176.2,541.1h.6M191.8,522.4h.6M140.9,511.6h.6M171.8,510.8h.6M171.7,543.7h.6M175.0,534.6h.6M169.5,502.4h.6M177.5,532.8h.6M167.8,509.5h.6M165.5,544.7h.6M139.3,513.4h.6M133.5,519.1h.6M181.2,517.4h.6M169.7,508.9h.6M183.5,515.5h.6M165.1,514.4h.6M165.5,508.0h.6M164.1,500.7h.6M163.8,513.8h.6M142.3,503.6h.6M171.0,542.5h.6M168.0,547.9h.6M156.9,512.7h.6M185.8,517.1h.6M170.5,509.2h.6M184.4,515.6h.6M173.0,539.4h.6M145.8,510.7h.6M180.0,509.0h.6M152.1,511.6h.6M145.2,502.7h.6M169.5,536.8h.6M164.0,512.2h.6M161.9,494.7h.6M168.7,540.7h.6M170.4,538.3h.6M183.9,511.9h.6M152.0,512.1h.6M159.8,504.1h.6M131.8,496.9h.6M131.8,514.6h.6M157.6,501.5h.6M183.6,494.6h.6M152.7,508.4h.6M148.5,501.8h.6M137.8,507.1h.6M176.3,534.1h.6M156.0,500.5h.6M176.1,510.8h.6M167.5,544.7h.6M172.7,511.6h.6M153.3,508.1h.6M169.8,541.6h.6M170.7,501.9h.6M170.8,499.7h.6M190.8,519.4h.6M165.4,543.5h.6M167.3,540.4h.6M140.6,516.0h.6M181.2,535.4h.6M158.4,512.6h.6M137.8,515.0h.6M152.0,508.2h.6M170.2,509.9h.6M153.6,498.3h.6M133.3,510.3h.6M172.9,540.0h.6M179.3,515.5h.6M166.4,548.4h.6M133.6,518.2h.6M145.7,501.8h.6M167.2,540.1h.6M148.7,504.5h.6M144.1,503.8h.6M170.4,515.5h.6M142.0,512.2h.6M160.0,507.7h.6M148.6,513.1h.6M178.8,501.0h.6M130.5,521.5h.6M144.7,507.3h.6M151.4,499.2h.6M157.1,501.6h.6M140.7,513.1h.6M165.1,545.2h.6M148.4,504.5h.6M168.2,540.2h.6M166.4,547.3h.6M193.2,527.4h.6M161.2,508.8h.6M140.9,516.1h.6M135.6,515.4h.6M154.1,498.7h.6M172.9,537.7h.6M146.2,511.6h.6M130.4,518.8h.6M175.0,516.8h.6M177.4,535.2h.6M174.7,539.1h.6M130.1,549.9h.6M181.6,532.3h.6M140.1,507.1h.6M180.3,548.2h.6M133.2,511.0h.6M130.6,523.6h.6M173.0,542.7h.6M155.6,510.9h.6M177.8,534.2h.6M144.5,508.5h.6M147.4,513.8h.6M136.8,512.3h.6M140.4,515.1h.6M167.6,539.6h.6M133.0,500.2h.6M141.2,508.9h.6M137.6,514.6h.6M184.9,498.5h.6M170.9,504.9h.6M167.1,513.2h.6M135.8,505.5h.6M162.8,507.5h.6M154.1,499.6h.6M130.1,512.0h.6M131.7,506.1h.6M139.9,497.5h.6M146.9,506.5h.6M192.2,525.6h.6M165.1,546.6h.6M151.0,499.4h.6M144.7,505.7h.6M156.1,508.6h.6M133.3,512.1h.6M141.5,512.5h.6M171.1,539.5h.6M187.3,516.2h.6M170.2,542.4h.6M131.5,509.8h.6M179.9,498.9h.6M135.5,494.1h.6M137.2,495.1h.6M147.8,500.5h.6M130.0,519.6h.6M162.9,504.0h.6M171.4,538.1h.6M154.3,511.3h.6M172.4,539.3h.6M133.3,520.4h.6M132.2,507.1h.6M149.8,497.2h.6M152.7,503.8h.6M176.6,537.4h.6M170.0,515.7h.6M150.5,506.5h.6M142.5,496.5h.6M141.5,507.7h.6M150.0,502.3h.6M136.4,505.1h.6M170.6,511.8h.6M196.5,515.5h.6M173.6,547.3h.6M139.4,513.3h.6M171.8,514.3h.6M140.5,510.7h.6M143.1,508.8h.6M150.5,509.5h.6M172.4,550.0h.6M169.4,541.0h.6M151.3,511.6h.6M156.7,507.0h.6M171.0,550.0h.6M173.3,533.3h.6M169.4,543.1h.6M144.4,505.4h.6M149.1,498.7h.6M155.6,511.1h.6M168.5,508.9h.6M153.8,497.6h.6M136.8,516.4h.6M163.7,498.5h.6M155.4,511.2h.6M154.4,510.7h.6M162.5,502.9h.6M186.4,534.1h.6M174.9,572.7h.6M168.9,544.7h.6M142.1,505.7h.6M158.6,506.2h.6M153.1,512.7h.6M135.6,514.6h.6M138.6,512.3h.6M141.3,512.8h.6M144.7,509.2h.6M168.5,516.4h.6M169.4,547.4h.6M167.2,507.6h.6M153.9,509.3h.6M130.2,564.0h.6M167.1,538.5h.6M130.5,513.2h.6M161.0,503.3h.6M172.7,541.8h.6M136.1,513.2h.6M140.0,510.8h.6M156.1,507.6h.6M147.1,510.2h.6M166.7,508.7h.6M173.9,546.2h.6M130.3,552.7h.6M135.4,512.6h.6M133.2,518.5h.6M178.0,535.4h.6M192.5,516.3h.6M175.4,516.8h.6M185.4,519.0h.6M188.1,517.7h.6M194.2,528.4h.6M196.8,513.6h.6M203.7,535.1h.6M191.0,523.0h.6M200.7,529.9h.6M197.2,526.0h.6M193.2,527.4h.6M177.3,517.2h.6M183.5,516.8h.6M177.3,514.6h.6M202.8,528.4h.6M176.1,510.3h.6M175.9,537.1h.6M197.6,530.3h.6M194.3,517.8h.6M178.1,533.3h.6M170.7,540.2h.6M192.9,529.1h.6M194.0,525.1h.6M195.5,534.2h.6M196.7,534.4h.6M191.8,535.1h.6M197.0,519.7h.6M181.9,540.2h.6M179.5,515.1h.6M169.3,514.6h.6M178.0,514.8h.6M182.7,537.1h.6M188.5,513.9h.6M180.1,507.4h.6M190.5,528.5h.6M206.9,526.2h.6M181.0,511.9h.6M208.3,527.4h.6M191.1,528.0h.6M199.3,531.1h.6M189.9,521.1h.6M214.5,532.9h.6M180.9,516.4h.6M191.7,532.7h.6M196.9,528.9h.6M200.9,521.5h.6M181.7,539.9h.6M193.2,521.0h.6M151.8,507.3h.6M168.1,511.7h.6M197.1,546.8h.6M196.1,534.1h.6M179.6,516.8h.6M198.8,525.1h.6M174.7,535.7h.6M198.1,512.6h.6M187.3,511.2h.6M182.4,509.3h.6M183.9,516.8h.6M163.4,512.8h.6M202.0,536.2h.6M162.7,510.8h.6M196.3,524.3h.6M175.3,509.8h.6M179.6,514.8h.6M189.9,519.0h.6M183.1,532.1h.6M212.0,526.6h.6M145.0,513.7h.6M198.2,532.9h.6M205.2,536.6h.6M173.7,513.8h.6M194.0,513.6h.6M165.0,504.9h.6M149.0,504.3h.6M181.1,537.9h.6M188.4,520.3h.6M179.9,509.8h.6M203.5,521.7h.6M196.8,529.6h.6M164.5,507.7h.6M194.9,525.2h.6M206.1,500.7h.6M196.4,521.6h.6M184.5,538.9h.6M184.6,548.9h.6M203.3,511.2h.6M194.7,505.2h.6M175.9,541.2h.6M166.3,514.0h.6M171.7,536.5h.6M175.0,509.0h.6M179.4,548.1h.6M194.8,533.8h.6M164.6,506.3h.6M168.2,495.9h.6M194.7,522.9h.6M182.8,510.3h.6M149.8,512.5h.6M169.7,512.7h.6M151.3,505.0h.6M181.3,533.5h.6M161.5,509.9h.6M196.3,534.9h.6M175.6,537.5h.6M192.5,528.6h.6M187.7,531.0h.6M138.8,514.4h.6M174.0,515.2h.6M171.6,505.4h.6M199.7,538.1h.6M148.4,509.3h.6M201.8,528.7h.6M181.6,533.5h.6M191.9,514.7h.6M191.3,521.2h.6M198.3,526.6h.6M205.4,533.3h.6M219.2,532.4h.6M168.8,570.9h.6M170.7,549.9h.6M173.4,579.1h.6M166.1,544.9h.6M183.5,579.3h.6M174.1,578.1h.6M166.4,545.7h.6M179.2,550.9h.6M174.5,582.7h.6M167.4,584.1h.6M171.4,551.9h.6M169.3,551.1h.6M173.0,580.4h.6M178.5,549.9h.6M178.4,552.2h.6M172.3,545.5h.6M167.5,542.3h.6M169.7,545.3h.6M131.3,554.7h.6M163.8,584.5h.6M175.4,536.9h.6M168.3,576.6h.6M173.0,536.6h.6M168.5,549.5h.6M165.1,579.3h.6M170.9,575.2h.6M167.2,572.4h.6M160.7,583.3h.6M167.6,573.5h.6M178.8,574.1h.6M172.8,547.1h.6M175.2,548.3h.6M165.9,578.4h.6M168.1,545.2h.6M190.9,541.2h.6M167.5,574.4h.6M173.3,552.2h.6M143.9,585.4h.6M172.1,545.7h.6M177.6,545.0h.6M173.2,576.8h.6M179.3,577.0h.6M168.8,575.1h.6M168.4,584.3h.6M166.0,546.0h.6M173.6,550.3h.6M169.5,551.1h.6M168.9,572.7h.6M178.6,585.4h.6M131.7,562.4h.6M168.0,549.4h.6M172.6,580.0h.6M169.9,541.4h.6M170.4,577.7h.6M168.7,542.5h.6M178.2,549.3h.6M130.9,564.6h.6M185.4,576.1h.6M177.2,539.1h.6M161.2,585.3h.6M168.9,540.6h.6M168.2,542.2h.6M144.3,585.4h.6M169.0,547.6h.6M169.9,575.0h.6M164.4,575.8h.6M135.8,582.9h.6M159.1,583.0h.6M182.5,547.9h.6M158.6,582.9h.6M173.9,513.4h.6M131.9,572.0h.6M175.6,574.2h.6M165.8,579.4h.6M166.8,583.7h.6M161.6,581.5h.6M171.5,537.3h.6M177.6,578.6h.6M166.8,575.6h.6M199.9,574.7h.6M169.2,573.1h.6M131.5,572.6h.6M135.6,510.5h.6M195.3,584.1h.6M171.7,581.5h.6M196.3,582.8h.6M175.8,533.9h.6M174.7,543.8h.6M178.8,538.0h.6M151.8,584.7h.6M171.0,546.8h.6M162.1,511.2h.6M138.3,515.8h.6M131.1,573.2h.6M130.5,574.6h.6M131.9,584.1h.6M167.0,539.8h.6M161.9,512.3h.6M170.7,570.8h.6M130.7,510.7h.6M166.0,580.6h.6M199.7,532.8h.6M172.4,514.4h.6M129.9,566.6h.6M173.0,547.0h.6M168.7,542.5h.6M135.9,585.8h.6M176.0,541.9h.6M137.7,517.0h.6M171.7,551.9h.6M130.4,553.1h.6M168.8,541.7h.6M130.2,555.5h.6M174.1,582.9h.6M168.1,582.2h.6M130.7,554.3h.6M142.1,508.0h.6M162.4,585.9h.6M168.0,582.9h.6M176.7,533.1h.6M136.4,583.7h.6M171.5,580.8h.6M148.7,504.8h.6M140.0,510.9h.6M185.5,538.4h.6M141.4,504.3h.6M172.4,538.2h.6M181.3,537.7h.6M165.0,581.5h.6M176.9,534.6h.6M170.2,570.6h.6M167.1,550.4h.6M130.9,574.4h.6M131.6,578.8h.6M130.0,575.8h.6M170.9,575.2h.6M174.4,582.7h.6M177.7,578.1h.6M194.4,538.3h.6M179.6,550.0h.6M172.9,548.0h.6M189.9,511.6h.6M181.2,578.7h.6M159.1,583.3h.6M169.1,577.8h.6M130.6,574.7h.6M175.9,539.0h.6M171.5,585.7h.6M167.1,584.0h.6M166.4,574.0h.6M179.8,547.7h.6M160.2,585.2h.6M166.7,580.3h.6M136.7,581.7h.6M178.3,546.2h.6M147.8,584.7h.6M174.0,580.5h.6M167.5,537.9h.6M185.0,544.5h.6M184.5,582.4h.6M173.2,545.9h.6M165.7,584.2h.6M173.1,583.7h.6M182.4,515.5h.6M170.8,552.2h.6M165.3,582.2h.6M173.2,581.5h.6M164.1,576.9h.6M143.6,584.6h.6M168.4,544.7h.6M154.4,507.3h.6M170.4,577.6h.6M141.7,585.5h.6M202.4,539.8h.6M131.2,567.6h.6M183.7,548.3h.6M172.3,576.5h.6M145.5,584.6h.6M136.9,517.0h.6M173.7,535.7h.6M131.2,550.7h.6M134.3,513.6h.6M134.1,580.8h.6M130.5,567.5h.6M142.3,585.7h.6M165.3,575.8h.6M161.9,581.1h.6M173.3,583.8h.6M132.3,502.7h.6M185.2,581.0h.6M174.5,576.0h.6M182.6,581.3h.6M166.0,575.3h.6M163.5,584.4h.6M161.8,580.7h.6M184.2,581.4h.6M171.6,552.5h.6M157.8,584.4h.6M167.5,576.9h.6M168.4,576.7h.6M166.3,573.3h.6M131.0,572.9h.6M193.6,584.2h.6M130.8,585.5h.6M179.3,584.3h.6M181.8,548.8h.6M137.7,582.3h.6M173.9,582.3h.6M191.4,579.2h.6M131.2,568.7h.6M164.5,583.4h.6M171.6,576.8h.6M135.3,583.0h.6M215.3,578.7h.6M182.9,548.6h.6M185.9,539.9h.6M219.5,566.3h.6M217.1,553.1h.6M208.5,545.5h.6M188.5,580.5h.6M190.3,583.5h.6M211.2,552.8h.6M216.1,569.2h.6M219.7,566.9h.6M179.5,541.5h.6M190.4,544.9h.6M204.8,545.6h.6M185.3,576.0h.6M198.0,543.6h.6M206.1,539.9h.6M198.0,581.7h.6M187.5,578.5h.6M183.4,548.1h.6M187.0,542.3h.6M214.8,546.0h.6M193.9,544.9h.6M192.0,545.6h.6M202.0,546.6h.6M179.7,551.5h.6M191.7,585.0h.6M208.0,583.1h.6M175.2,541.7h.6M191.9,576.3h.6M193.4,576.1h.6M198.8,579.0h.6M197.9,543.6h.6M188.2,545.1h.6M210.1,546.3h.6M183.6,585.8h.6M210.2,562.0h.6M204.9,540.4h.6M170.1,579.2h.6M195.3,541.5h.6M213.6,581.6h.6M209.8,563.2h.6M191.2,546.0h.6M202.0,546.1h.6M197.0,539.7h.6M217.3,559.7h.6M203.8,532.9h.6M175.7,577.9h.6M196.0,543.7h.6M208.5,557.7h.6M197.2,531.5h.6M195.3,577.9h.6M181.3,546.9h.6M209.8,573.1h.6M192.5,545.7h.6M174.8,538.4h.6M184.9,538.6h.6M206.0,543.8h.6M211.7,561.3h.6M179.7,547.7h.6M208.8,578.0h.6M197.1,581.1h.6M170.2,573.3h.6M212.9,580.3h.6M200.7,538.8h.6M198.9,544.5h.6M186.2,576.5h.6M220.2,571.6h.6M200.4,547.5h.6M186.7,581.4h.6M190.2,544.7h.6M207.9,566.1h.6M192.4,578.2h.6M192.6,541.5h.6M190.6,581.2h.6M191.7,578.4h.6M193.6,542.8h.6M184.6,540.4h.6M192.0,579.2h.6M177.2,543.4h.6M204.6,580.3h.6M192.6,541.0h.6M180.1,577.1h.6M205.4,550.8h.6M202.2,576.0h.6M188.9,542.5h.6M168.3,571.6h.6M175.6,573.9h.6M213.6,554.7h.6M184.7,546.5h.6M211.8,577.6h.6M176.7,544.2h.6M207.2,573.5h.6M185.9,580.6h.6M191.1,544.3h.6M191.8,582.5h.6M204.8,571.4h.6M212.0,557.4h.6M203.6,532.4h.6M185.6,540.6h.6M200.7,547.6h.6M198.6,536.8h.6M209.0,582.7h.6M203.1,539.6h.6M208.6,577.8h.6M215.4,582.4h.6M191.4,576.4h.6M205.6,540.5h.6M198.4,579.0h.6M181.6,544.1h.6M197.8,544.2h.6M186.1,542.0h.6M212.9,560.9h.6M175.9,538.5h.6M168.4,572.8h.6M187.1,578.6h.6M195.1,579.4h.6M202.9,574.6h.6M172.2,570.9h.6M204.1,540.2h.6M193.0,546.2h.6M221.8,570.2h.6M188.9,544.8h.6M220.1,567.7h.6M199.1,543.3h.6M170.8,548.7h.6M214.0,585.1h.6M202.8,573.6h.6M189.9,536.3h.6M188.7,583.0h.6M182.3,549.0h.6M214.7,566.6h.6M203.0,577.5h.6M208.7,564.1h.6M178.3,551.1h.6M215.8,574.4h.6M198.0,543.0h.6M211.8,561.1h.6M209.6,560.8h.6M196.5,545.9h.6M189.7,543.1h.6M198.9,577.3h.6M194.7,543.9h.6M211.2,572.7h.6M195.4,541.8h.6M196.4,579.5h.6M221.3,562.1h.6M210.8,542.6h.6M190.9,576.4h.6M188.2,544.8h.6M219.8,558.1h.6M205.2,575.6h.6M182.6,540.8h.6M192.1,535.6h.6M183.7,581.4h.6M208.1,543.3h.6M200.3,543.3h.6M183.6,577.3h.6M200.4,579.0h.6M193.0,583.6h.6M189.8,545.4h.6M180.6,578.1h.6M216.8,580.5h.6M175.7,583.6h.6M192.2,578.7h.6M191.0,579.7h.6M202.6,573.4h.6M206.2,569.4h.6M199.1,542.3h.6M211.3,540.5h.6M194.1,537.3h.6M187.1,546.3h.6M189.8,540.1h.6M203.8,573.2h.6M215.0,559.3h.6M207.0,554.2h.6M197.7,581.2h.6M209.0,563.2h.6M216.4,555.9h.6M210.4,548.7h.6M183.6,574.5h.6M180.5,582.0h.6M218.7,523.9h.6M169.3,583.4h.6M194.2,545.5h.6M192.0,579.6h.6M179.3,577.3h.6M205.6,545.0h.6M188.9,533.0h.6M179.4,574.4h.6M193.7,580.9h.6M192.1,584.3h.6M187.5,541.7h.6M208.8,572.9h.6M179.5,576.5h.6M213.1,552.9h.6M205.0,539.2h.6M193.0,538.2h.6M208.9,557.4h.6M211.3,548.2h.6M149.2,585.1h.6M200.4,577.3h.6M212.7,551.9h.6M176.3,543.3h.6M185.7,539.4h.6M216.6,558.1h.6M193.3,583.1h.6M188.9,583.7h.6M174.6,575.8h.6M168.2,545.2h.6M167.2,575.1h.6M179.5,543.5h.6M182.4,583.8h.6M178.9,532.2h.6M221.7,553.4h.6M201.9,580.2h.6M167.3,542.8h.6M207.7,585.9h.6M202.7,545.4h.6M199.1,542.5h.6M198.9,545.3h.6M172.8,573.2h.6M221.4,530.8h.6M178.5,537.1h.6M210.5,552.1h.6M210.8,556.6h.6M174.2,582.9h.6M213.3,577.7h.6M211.8,575.2h.6M185.4,584.9h.6M211.8,545.7h.6M204.2,579.4h.6M219.1,535.1h.6M208.2,575.3h.6M191.9,542.5h.6M213.4,576.5h.6M199.1,538.2h.6M213.1,567.2h.6M210.0,583.8h.6M207.0,577.4h.6M185.1,584.5h.6M183.2,550.0h.6M181.4,574.9h.6M167.5,573.4h.6M169.9,546.8h.6M213.3,556.1h.6M203.8,577.1h.6M185.7,580.9h.6M192.5,535.0h.6M183.6,544.6h.6M171.5,582.5h.6M198.5,577.2h.6M182.7,580.6h.6M172.1,543.9h.6M170.8,585.2h.6M203.8,572.4h.6M201.4,527.7h.6M219.1,566.2h.6M164.1,585.9h.6M211.4,564.9h.6M221.9,560.4h.6M210.2,559.7h.6M169.3,579.4h.6M213.2,571.9h.6M214.6,555.7h.6M200.6,579.8h.6M204.7,540.5h.6M215.8,560.4h.6M169.6,551.4h.6M212.6,560.5h.6M223.1,564.5h.6M201.9,579.2h.6M172.2,538.8h.6M173.7,575.8h.6M160.6,581.5h.6M208.7,565.6h.6M197.6,544.8h.6M212.3,571.6h.6M209.5,570.8h.6M217.6,583.7h.6M130.2,559.8h.6M194.7,534.8h.6M220.0,571.6h.6M167.4,581.4h.6M198.3,538.7h.6M203.4,548.0h.6M209.6,552.3h.6M171.1,537.1h.6M177.5,547.5h.6M176.3,543.6h.6M210.0,566.8h.6M217.2,565.1h.6M218.0,548.8h.6M217.8,546.2h.6M169.4,575.2h.6M166.5,583.0h.6M213.5,577.2h.6M192.5,584.1h.6M192.1,545.0h.6M189.2,580.9h.6M212.9,546.1h.6M171.6,572.5h.6M179.4,576.1h.6M218.0,543.5h.6M202.0,574.1h.6M208.7,571.7h.6M199.5,575.4h.6M176.8,542.7h.6M203.2,549.5h.6M160.6,582.9h.6M178.8,547.2h.6M176.7,545.6h.6M207.8,573.1h.6M171.3,573.1h.6M171.4,548.2h.6M184.8,576.2h.6M192.3,580.3h.6M185.8,538.6h.6M169.5,547.5h.6M173.6,574.5h.6M201.3,537.7h.6M172.3,579.4h.6M142.5,500.1h.6M193.8,542.9h.6M215.5,528.2h.6M221.1,556.0h.6M158.8,582.8h.6M173.3,507.2h.6M222.4,503.2h.6M177.0,541.1h.6M166.6,584.9h.6M220.1,575.3h.6M133.2,579.1h.6M206.2,502.3h.6M210.6,574.2h.6M207.8,565.6h.6M131.1,564.1h.6M177.9,510.6h.6M206.0,550.9h.6M130.3,508.1h.6M187.1,513.8h.6M181.1,501.3h.6M130.7,566.6h.6M209.0,525.9h.6M204.5,548.1h.6M194.2,521.8h.6M221.2,583.7h.6M200.2,516.5h.6M188.8,497.3h.6M141.2,513.2h.6M167.4,512.5h.6M202.4,519.6h.6M181.4,511.8h.6M215.9,551.8h.6M221.2,494.3h.6M165.2,501.1h.6M167.6,506.2h.6M195.2,532.0h.6M209.2,523.5h.6" stroke="#6a6a6a" stroke-width="0.6" fill="none"/>
<path d="M129.0,528.2 129.2,527.5 129.5,526.7 129.8,526.0 130.0,525.5 130.5,524.6 130.8,524.0 131.2,523.5 131.5,523.0 132.0,522.4 132.5,521.8 133.0,521.3 133.5,520.8 134.0,520.4 134.5,519.9 135.1,519.5 135.7,519.0 136.5,518.5 137.0,518.2 137.5,517.9 138.2,517.5 139.0,517.1 139.5,516.8 140.2,516.5 141.0,516.2 141.5,516.0 142.5,515.6 143.0,515.4 144.0,515.0 144.5,514.9 145.5,514.5 146.0,514.4 147.0,514.1 147.5,514.0 148.5,513.8 149.5,513.6 150.0,513.5 151.0,513.3 152.0,513.2 153.0,513.1 154.0,513.1 155.0,513.0 156.0,513.1 157.0,513.1 158.0,513.3 159.0,513.4 159.5,513.5 160.5,513.7 161.5,514.0 162.0,514.2 163.0,514.5 163.5,514.7 164.4,515.0 165.0,515.2 165.7,515.5 166.5,515.8 167.0,516.0 168.0,516.4 168.5,516.6 169.5,517.0 170.0,517.1 171.0,517.4 171.5,517.5 172.5,517.7 173.5,517.8 174.5,517.9 175.1,518.0 176.0,518.0 177.0,518.1 178.0,518.2 179.0,518.2 180.0,518.3 181.0,518.4 181.6,518.5 182.5,518.6 183.5,518.8 184.2,519.0 185.0,519.2 185.8,519.5 186.5,519.7 187.1,520.0 188.0,520.5 188.5,520.7 189.0,521.1 189.6,521.5 190.1,522.0 190.6,522.5 191.0,523.1 191.4,524.0 191.5,524.5 191.6,525.5 191.5,526.1 191.2,527.0 190.9,527.5 190.5,528.0 190.0,528.6 189.5,529.0 188.8,529.5 188.0,530.0 187.5,530.3 186.9,530.5 186.0,530.9 185.5,531.0 184.5,531.3 183.8,531.5 183.0,531.7 182.0,531.8 181.0,532.0 180.5,532.0 179.5,532.1 178.5,532.2 177.5,532.3 176.5,532.4 175.5,532.5 175.0,532.6 174.0,532.9 173.5,533.0 172.5,533.5 172.0,533.8 171.5,534.1 171.0,534.5 170.5,535.0 169.9,535.5 169.4,536.0 168.9,536.5 168.4,537.0 167.9,537.5 167.3,538.0 166.8,538.5 166.3,539.0 165.7,539.5 165.2,540.0 164.7,540.5 164.3,541.0 163.9,541.5 163.5,542.3 163.3,543.0 163.3,544.0 163.5,544.7 163.8,545.5 164.0,546.0 164.5,546.9 164.9,547.5 165.2,548.0 165.5,548.5 166.0,549.3 166.5,550.0 166.9,550.5 167.3,551.0 167.8,551.5 168.3,552.0 169.0,552.5 169.5,552.8 170.0,553.0 171.0,553.2 172.0,553.3 173.0,553.2 174.0,553.1 174.7,553.0 175.5,552.9 176.5,552.7 177.3,552.5 178.0,552.3 179.0,552.0 179.5,551.8 180.3,551.5 181.0,551.2 181.5,550.9 182.4,550.5 183.0,550.2 183.5,549.9 184.3,549.5 185.0,549.1 185.5,548.9 186.4,548.5 187.0,548.2 187.6,548.0 188.5,547.7 189.1,547.5 190.0,547.3 191.0,547.0 191.5,547.0 192.5,546.8 193.5,546.8 194.5,546.8 195.5,546.9 196.1,547.0 197.0,547.2 198.0,547.4 198.5,547.6 199.5,548.0 200.0,548.2 200.5,548.5 201.3,549.0 202.0,549.4 202.5,549.8 203.0,550.2 203.5,550.7 204.0,551.2 204.5,551.7 205.0,552.3 205.5,553.0 205.8,553.5 206.1,554.0 206.5,554.7 206.9,555.5 207.1,556.0 207.5,557.0 207.6,557.5 207.9,558.5 208.0,559.1 208.1,560.0 208.2,561.0 208.2,562.0 208.1,563.0 208.0,563.9 207.9,564.5 207.6,565.5 207.5,566.0 207.1,567.0 206.9,567.5 206.5,568.3 206.1,569.0 205.8,569.5 205.4,570.0 205.0,570.5 204.5,571.1 204.0,571.7 203.5,572.1 203.0,572.6 202.5,573.0 201.8,573.5 201.0,574.0 200.5,574.3 200.0,574.5 199.0,575.0 198.5,575.2 197.5,575.5 197.0,575.6 196.0,575.9 195.0,576.0 194.5,576.1 193.5,576.1 192.5,576.1 191.5,576.1 190.9,576.0 190.0,575.9 189.0,575.7 188.1,575.5 187.5,575.4 186.5,575.1 186.0,574.9 185.0,574.6 184.5,574.4 183.5,574.0 183.0,573.8 182.3,573.5 181.5,573.2 181.0,573.0 180.0,572.6 179.5,572.4 178.5,572.0 178.0,571.8 177.0,571.5 176.5,571.3 175.5,571.1 175.0,570.9 174.0,570.7 173.0,570.5 172.5,570.5 171.5,570.4 170.5,570.4 169.8,570.5 169.0,570.8 168.5,571.0 167.7,571.5 167.2,572.0 166.7,572.5 166.3,573.0 165.9,573.5 165.5,574.1 165.0,574.9 164.6,575.5 164.3,576.0 164.0,576.5 163.5,577.2 163.0,577.9 162.5,578.5 162.1,579.0 161.7,579.5 161.2,580.0 160.6,580.5 160.0,581.0 159.5,581.4 159.0,581.7 158.5,582.0 157.7,582.5 157.0,582.8 156.5,583.1 155.5,583.5 155.0,583.6 154.0,583.9 153.5,584.1 152.5,584.3 151.5,584.4 150.9,584.5 150.0,584.6 149.0,584.6 148.0,584.6 147.0,584.6 146.2,584.5 145.5,584.4 144.5,584.3 143.5,584.1 143.0,584.0 142.0,583.7 141.4,583.5 140.5,583.2 139.9,583.0 139.0,582.6 138.5,582.4 137.8,582.0 137.0,581.6 136.5,581.3 136.0,580.9 135.5,580.5 134.9,580.0 134.4,579.5 133.9,579.0 133.5,578.5 133.0,577.7 132.6,577.0 132.4,576.5 132.1,575.5 132.0,574.6 131.9,574.0 131.9,573.0 131.9,572.0 132.0,571.0 132.0,570.5 132.1,569.5 132.1,568.5 132.1,567.5 132.1,566.5 132.1,565.5 132.0,564.6 131.9,564.0 131.8,563.0 131.7,562.0 131.7,561.0 131.6,560.0 131.5,559.0 131.5,558.3 131.5,557.5 131.5,556.5 131.5,555.8 131.5,555.0 131.6,554.0 131.6,553.0 131.6,552.0 131.6,551.0 131.5,550.1 131.4,549.5 131.2,548.5 131.0,547.8 130.7,547.0 130.5,546.3 130.2,545.5 130.0,544.9 129.7,544.0 129.5,543.3 129.3,542.5 129.0,541.5M152.9,516.5 153.5,516.4 154.5,516.4 155.5,516.4 156.5,516.4 157.3,516.5 158.0,516.6 159.0,516.8 160.0,517.0 160.5,517.1 161.5,517.5 162.0,517.6 163.0,518.0 163.5,518.2 164.1,518.5 165.0,518.9 165.5,519.1 166.2,519.5 167.0,519.9 167.5,520.1 168.4,520.5 169.0,520.8 169.7,521.0 170.5,521.2 171.5,521.4 172.5,521.5 173.5,521.5 174.5,521.4 175.5,521.3 176.5,521.2 177.5,521.1 178.5,521.1 179.5,521.1 180.5,521.2 181.5,521.3 182.5,521.5 183.0,521.6 184.0,521.9 184.5,522.2 185.1,522.5 185.8,523.0 186.4,523.5 186.7,524.0 187.0,524.7 187.1,525.5 187.0,526.0 186.5,526.8 186.0,527.4 185.5,527.8 185.0,528.1 184.1,528.5 183.5,528.7 182.5,529.0 182.0,529.1 181.0,529.3 180.0,529.3 179.0,529.4 178.0,529.3 177.0,529.3 176.0,529.2 175.0,529.2 174.0,529.1 173.0,529.2 172.0,529.4 171.5,529.5 170.5,530.0 170.0,530.4 169.5,530.8 169.0,531.2 168.5,531.7 168.0,532.2 167.5,532.7 167.0,533.2 166.5,533.8 166.0,534.3 165.5,534.8 165.0,535.2 164.5,535.7 164.0,536.1 163.5,536.5 162.9,537.0 162.2,537.5 161.5,538.0 161.0,538.3 160.5,538.7 160.0,539.0 159.3,539.5 158.7,540.0 158.2,540.5 157.8,541.0 157.5,541.5 157.4,542.5 157.5,543.1 157.9,544.0 158.3,544.5 158.6,545.0 159.0,545.5 159.5,546.2 160.0,546.8 160.5,547.5 160.9,548.0 161.2,548.5 161.6,549.0 162.0,549.7 162.5,550.5 162.7,551.0 163.0,551.5 163.5,552.5 163.7,553.0 164.0,553.7 164.3,554.5 164.5,555.1 164.8,556.0 165.0,556.8 165.2,557.5 165.3,558.5 165.4,559.5 165.3,560.5 165.2,561.5 165.0,562.3 164.8,563.0 164.5,563.6 164.1,564.5 163.8,565.0 163.5,565.5 163.0,566.3 162.5,567.0 162.2,567.5 161.8,568.0 161.4,568.5 161.0,569.1 160.5,569.7 160.0,570.3 159.5,570.9 159.0,571.5 158.6,572.0 158.2,572.5 157.7,573.0 157.3,573.5 156.8,574.0 156.3,574.5 155.8,575.0 155.2,575.5 154.6,576.0 154.0,576.4 153.5,576.7 152.8,577.0 152.0,577.3 151.5,577.5 150.5,577.8 149.5,577.9 148.5,577.9 147.5,577.9 146.5,577.7 145.5,577.5 145.0,577.3 144.3,577.0 143.5,576.6 143.0,576.2 142.5,575.8 142.0,575.3 141.5,574.7 141.1,574.0 140.8,573.5 140.5,572.8 140.2,572.0 140.0,571.4 139.8,570.5 139.5,569.5 139.4,569.0 139.2,568.0 139.0,567.4 138.8,566.5 138.6,565.5 138.4,565.0 138.2,564.0 138.0,563.0 137.9,562.5 137.7,561.5 137.6,560.5 137.5,559.5 137.5,559.0 137.4,558.0 137.4,557.0 137.5,556.0 137.5,555.5 137.6,554.5 137.8,553.5 137.9,552.5 138.0,552.0 138.1,551.0 138.3,550.0 138.3,549.0 138.2,548.0 138.0,547.4 137.5,546.5 137.1,546.0 136.6,545.5 136.1,545.0 135.6,544.5 135.1,544.0 134.7,543.5 134.4,543.0 134.0,542.4 133.6,541.5 133.4,541.0 133.1,540.0 133.0,539.5 132.9,538.5 132.8,537.5 132.8,536.5 132.9,535.5 133.0,534.8 133.1,534.0 133.3,533.0 133.5,532.2 133.7,531.5 133.9,530.5 134.1,530.0 134.4,529.0 134.6,528.5 135.0,527.7 135.4,527.0 135.6,526.5 136.0,525.9 136.5,525.2 137.0,524.6 137.5,524.0 138.0,523.5 138.5,523.0 139.0,522.6 139.5,522.2 140.0,521.8 140.5,521.4 141.1,521.0 141.9,520.5 142.5,520.1 143.0,519.9 143.7,519.5 144.5,519.1 145.0,518.8 145.7,518.5 146.5,518.2 147.0,518.0 148.0,517.6 148.5,517.5 149.5,517.2 150.1,517.0 151.0,516.8 152.0,516.6 152.9,516.5ZM192.7,551.0 193.5,550.9 194.5,550.9 195.2,551.0 196.0,551.1 197.0,551.4 197.5,551.6 198.4,552.0 199.0,552.3 199.5,552.6 200.0,553.0 200.6,553.5 201.1,554.0 201.5,554.5 202.0,555.1 202.5,555.9 202.9,556.5 203.1,557.0 203.5,558.0 203.6,558.5 203.8,559.5 204.0,560.5 204.0,561.5 203.9,562.5 203.8,563.5 203.5,564.5 203.3,565.0 203.0,565.8 202.6,566.5 202.3,567.0 202.0,567.5 201.5,568.1 201.0,568.7 200.5,569.1 200.0,569.6 199.4,570.0 198.5,570.5 198.0,570.8 197.5,571.0 196.5,571.3 195.8,571.5 195.0,571.7 194.0,571.7 193.0,571.7 192.0,571.6 191.2,571.5 190.5,571.3 189.5,571.0 189.0,570.8 188.3,570.5 187.5,570.1 187.0,569.8 186.5,569.4 185.9,569.0 185.3,568.5 184.7,568.0 184.2,567.5 183.8,567.0 183.4,566.5 183.0,566.0 182.5,565.2 182.1,564.5 181.9,564.0 181.6,563.0 181.5,562.5 181.5,561.5 181.5,561.0 181.8,560.0 182.0,559.4 182.4,558.5 182.7,558.0 183.0,557.5 183.5,556.8 184.0,556.2 184.5,555.6 185.0,555.1 185.5,554.6 186.0,554.1 186.5,553.7 187.0,553.3 187.5,553.0 188.3,552.5 189.0,552.1 189.5,551.9 190.5,551.5 191.0,551.3 192.0,551.1 192.7,551.0ZM152.7,518.5 153.5,518.4 154.5,518.3 155.5,518.3 156.5,518.3 157.5,518.5 158.0,518.5 159.0,518.7 160.0,519.0 160.5,519.2 161.4,519.5 162.0,519.8 162.5,520.0 163.5,520.5 164.0,520.8 164.5,521.1 165.2,521.5 165.9,522.0 166.5,522.4 167.0,522.8 167.5,523.3 168.0,523.8 168.5,524.3 168.9,525.0 169.1,525.5 169.0,526.2 168.7,527.0 168.4,527.5 168.0,528.2 167.5,529.0 167.1,529.5 166.8,530.0 166.4,530.5 166.0,531.0 165.5,531.7 165.0,532.2 164.5,532.8 164.0,533.3 163.5,533.8 163.0,534.3 162.5,534.7 162.0,535.1 161.4,535.5 160.6,536.0 160.0,536.4 159.5,536.7 158.9,537.0 158.0,537.4 157.5,537.7 156.8,538.0 156.0,538.3 155.5,538.6 154.5,539.0 154.0,539.2 153.3,539.5 152.5,539.9 152.0,540.1 151.1,540.5 150.5,540.8 150.0,541.0 149.0,541.3 148.0,541.1 147.5,540.9 146.5,540.6 146.0,540.4 145.0,540.0 144.5,539.9 143.5,539.6 143.0,539.5 142.0,539.3 141.0,539.2 140.0,539.0 139.5,539.0 138.5,538.6 138.0,538.3 137.5,537.5 137.3,537.0 137.2,536.0 137.2,535.0 137.2,534.0 137.4,533.0 137.5,532.2 137.6,531.5 137.9,530.5 138.0,530.0 138.4,529.0 138.6,528.5 139.0,527.6 139.3,527.0 139.6,526.5 140.0,526.0 140.5,525.4 141.0,524.8 141.5,524.3 142.0,523.8 142.5,523.3 143.0,522.9 143.5,522.5 144.2,522.0 145.0,521.5 145.5,521.2 146.0,520.9 146.7,520.5 147.5,520.1 148.0,519.9 148.9,519.5 149.5,519.3 150.4,519.0 151.0,518.8 152.0,518.6 152.7,518.5ZM177.5,523.5 178.5,523.3 179.5,523.3 180.5,523.3 181.4,523.5 182.0,523.7 182.6,524.0 183.1,524.5 183.4,525.5 183.0,526.1 182.5,526.5 181.5,527.0 181.0,527.1 180.0,527.2 179.0,527.2 178.0,527.1 177.5,527.0 176.5,526.6 176.0,526.4 175.5,526.0 175.1,525.0 175.5,524.5 176.2,524.0 177.0,523.7 177.5,523.5ZM148.0,543.0 149.0,542.5 150.0,542.6 151.0,542.9 151.5,543.2 152.1,543.5 153.0,544.0 153.5,544.3 154.0,544.6 154.7,545.0 155.4,545.5 156.0,546.0 156.5,546.4 157.0,546.8 157.5,547.3 158.0,547.8 158.5,548.3 159.0,548.9 159.5,549.5 159.8,550.0 160.2,550.5 160.5,551.0 161.0,551.9 161.3,552.5 161.5,553.0 161.9,554.0 162.0,554.5 162.3,555.5 162.5,556.4 162.6,557.0 162.7,558.0 162.7,559.0 162.6,560.0 162.5,560.5 162.2,561.5 162.0,562.1 161.6,563.0 161.4,563.5 161.0,564.1 160.5,564.9 160.0,565.5 159.6,566.0 159.1,566.5 158.6,567.0 158.0,567.5 157.5,567.9 157.0,568.3 156.5,568.6 155.9,569.0 155.0,569.5 154.5,569.8 154.0,570.0 153.0,570.4 152.5,570.6 151.5,570.9 150.7,571.0 150.0,571.0 149.3,571.0 148.5,570.9 147.6,570.5 147.0,570.2 146.5,569.8 146.0,569.4 145.5,568.9 145.0,568.3 144.5,567.7 144.1,567.0 143.8,566.5 143.5,566.0 143.0,565.1 142.7,564.5 142.5,564.0 142.1,563.0 142.0,562.5 141.7,561.5 141.5,560.8 141.3,560.0 141.2,559.0 141.1,558.0 141.1,557.0 141.1,556.0 141.2,555.0 141.3,554.0 141.5,553.2 141.7,552.5 142.0,551.5 142.1,551.0 142.5,550.0 142.7,549.5 143.0,548.9 143.5,548.0 143.8,547.5 144.1,547.0 144.5,546.4 145.0,545.8 145.5,545.2 146.0,544.7 146.5,544.2 147.0,543.7 147.5,543.3 148.0,543.0ZM191.3,554.0 192.0,553.8 193.0,553.6 194.0,553.5 195.0,553.6 196.0,553.8 196.6,554.0 197.5,554.4 198.0,554.7 198.5,555.1 199.0,555.5 199.5,556.0 200.0,556.6 200.5,557.4 200.8,558.0 201.0,558.6 201.3,559.5 201.4,560.5 201.5,561.5 201.4,562.5 201.1,563.5 201.0,564.0 200.5,565.0 200.2,565.5 199.9,566.0 199.5,566.5 199.0,567.0 198.4,567.5 197.6,568.0 197.0,568.3 196.5,568.6 195.5,568.9 194.6,569.0 194.0,569.0 193.0,569.0 192.5,568.9 191.5,568.7 190.9,568.5 190.0,568.1 189.5,567.8 189.0,567.5 188.4,567.0 187.8,566.5 187.4,566.0 187.0,565.5 186.5,564.7 186.2,564.0 186.0,563.4 185.8,562.5 185.7,561.5 185.8,560.5 186.0,559.6 186.2,559.0 186.5,558.3 187.0,557.5 187.3,557.0 187.7,556.5 188.2,556.0 188.7,555.5 189.4,555.0 190.0,554.6 190.5,554.3 191.3,554.0ZM153.0,520.0 154.0,519.9 155.0,519.8 156.0,519.8 157.0,519.9 157.6,520.0 158.5,520.2 159.5,520.5 160.0,520.6 160.9,521.0 161.5,521.3 162.0,521.6 162.7,522.0 163.4,522.5 164.0,523.0 164.5,523.5 164.9,524.0 165.2,524.5 165.5,525.1 165.7,526.0 165.7,527.0 165.5,527.9 165.3,528.5 165.0,529.1 164.5,530.0 164.2,530.5 163.8,531.0 163.4,531.5 163.0,532.0 162.5,532.5 161.9,533.0 161.3,533.5 160.7,534.0 160.0,534.5 159.5,534.8 159.0,535.0 158.0,535.5 157.5,535.7 156.8,536.0 156.0,536.3 155.2,536.5 154.5,536.7 153.5,536.9 152.8,537.0 152.0,537.1 151.0,537.2 150.0,537.1 149.0,537.1 148.5,537.0 147.5,536.8 146.5,536.5 146.0,536.3 145.2,536.0 144.5,535.6 144.0,535.4 143.5,535.0 142.9,534.5 142.4,534.0 142.0,533.4 141.6,532.5 141.5,532.0 141.4,531.0 141.4,530.0 141.5,529.5 141.8,528.5 142.0,528.0 142.5,527.0 142.8,526.5 143.1,526.0 143.5,525.5 144.0,524.9 144.5,524.4 145.0,523.9 145.5,523.5 146.1,523.0 146.8,522.5 147.5,522.1 148.0,521.8 148.5,521.5 149.5,521.0 150.0,520.8 151.0,520.5 151.5,520.3 152.5,520.1 153.0,520.0ZM150.4,546.5 151.0,546.5 151.7,546.5 152.5,546.6 153.5,546.9 154.0,547.1 154.8,547.5 155.5,547.9 156.0,548.3 156.5,548.7 157.0,549.1 157.5,549.6 158.0,550.2 158.5,550.8 159.0,551.5 159.3,552.0 159.5,552.5 160.0,553.5 160.2,554.0 160.5,555.0 160.6,555.5 160.8,556.5 160.9,557.5 160.9,558.5 160.7,559.5 160.5,560.5 160.3,561.0 160.0,561.8 159.6,562.5 159.3,563.0 158.9,563.5 158.4,564.0 157.9,564.5 157.3,565.0 156.6,565.5 156.0,565.8 155.5,566.1 154.5,566.4 154.0,566.6 153.0,566.8 152.0,566.8 151.0,566.7 150.0,566.5 149.5,566.3 148.8,566.0 148.0,565.5 147.5,565.1 147.0,564.6 146.5,564.1 146.0,563.5 145.7,563.0 145.3,562.5 145.0,561.9 144.6,561.0 144.4,560.5 144.1,559.5 144.0,559.0 143.8,558.0 143.7,557.0 143.7,556.0 143.8,555.0 143.9,554.0 144.0,553.5 144.3,552.5 144.5,551.9 144.9,551.0 145.1,550.5 145.5,549.9 146.0,549.2 146.5,548.6 147.0,548.1 147.5,547.7 148.0,547.3 148.6,547.0 149.5,546.7 150.4,546.5ZM192.8,556.0 193.5,555.9 194.5,555.9 195.2,556.0 196.0,556.3 196.5,556.5 197.2,557.0 197.8,557.5 198.2,558.0 198.5,558.5 198.9,559.5 199.1,560.0 199.2,561.0 199.1,562.0 199.0,562.7 198.7,563.5 198.5,564.0 198.0,564.7 197.5,565.2 197.0,565.6 196.4,566.0 195.5,566.4 195.0,566.5 194.0,566.6 193.0,566.6 192.5,566.5 191.5,566.1 191.0,565.8 190.5,565.5 190.0,565.0 189.5,564.4 189.0,563.6 188.8,563.0 188.5,562.0 188.5,561.0 188.7,560.0 189.0,559.2 189.4,558.5 189.7,558.0 190.2,557.5 190.7,557.0 191.5,556.5 192.0,556.3 192.8,556.0ZM152.6,521.5 153.5,521.3 154.5,521.2 155.5,521.2 156.5,521.2 157.5,521.4 158.0,521.5 159.0,521.8 159.5,522.0 160.5,522.5 161.0,522.8 161.5,523.1 162.0,523.5 162.5,524.0 163.0,524.7 163.4,525.5 163.5,526.0 163.6,527.0 163.5,527.8 163.3,528.5 163.0,529.2 162.6,530.0 162.2,530.5 161.8,531.0 161.4,531.5 160.9,532.0 160.3,532.5 159.6,533.0 159.0,533.4 158.5,533.6 157.8,534.0 157.0,534.3 156.5,534.5 155.5,534.8 154.5,535.0 154.0,535.1 153.0,535.2 152.0,535.2 151.0,535.1 150.0,535.0 149.5,534.9 148.5,534.6 148.0,534.4 147.1,534.0 146.5,533.6 146.0,533.2 145.5,532.7 145.0,532.0 144.7,531.5 144.5,530.8 144.4,530.0 144.4,529.0 144.5,528.5 144.8,527.5 145.1,527.0 145.5,526.3 146.0,525.6 146.5,525.0 147.0,524.5 147.5,524.1 148.0,523.7 148.5,523.3 149.0,523.0 149.9,522.5 150.5,522.2 151.0,522.0 152.0,521.7 152.6,521.5ZM149.6,549.0 150.5,548.7 151.5,548.5 152.5,548.6 153.5,548.8 154.0,549.0 154.9,549.5 155.5,549.9 156.0,550.3 156.5,550.7 157.0,551.2 157.5,551.9 157.9,552.5 158.2,553.0 158.5,553.6 158.9,554.5 159.0,555.0 159.2,556.0 159.3,557.0 159.3,558.0 159.2,559.0 159.0,559.7 158.7,560.5 158.4,561.0 158.0,561.7 157.5,562.3 157.0,562.7 156.5,563.1 155.9,563.5 155.0,563.9 154.5,564.1 153.5,564.2 152.5,564.2 151.5,564.1 151.0,563.9 150.0,563.5 149.5,563.2 149.0,562.9 148.5,562.4 148.0,561.9 147.5,561.3 147.0,560.5 146.7,560.0 146.5,559.5 146.2,558.5 146.0,557.8 145.9,557.0 145.8,556.0 145.9,555.0 146.0,554.0 146.1,553.5 146.5,552.5 146.7,552.0 147.0,551.4 147.5,550.7 148.0,550.1 148.5,549.7 149.0,549.3 149.6,549.0ZM193.0,559.0 194.0,558.8 195.0,559.0 195.5,559.3 196.0,559.9 196.3,560.5 196.4,561.5 196.0,562.5 195.6,563.0 195.0,563.4 194.5,563.6 193.5,563.6 193.0,563.5 192.3,563.0 191.9,562.5 191.6,561.5 191.7,560.5 192.0,559.9 192.5,559.3 193.0,559.0ZM152.3,523.0 153.0,522.8 154.0,522.6 155.0,522.5 156.0,522.5 157.0,522.7 158.0,522.9 158.5,523.1 159.3,523.5 160.0,524.0 160.5,524.4 161.0,525.0 161.3,525.5 161.5,526.0 161.7,527.0 161.6,528.0 161.5,528.5 161.0,529.5 160.7,530.0 160.3,530.5 159.8,531.0 159.2,531.5 158.5,532.0 158.0,532.3 157.5,532.6 156.5,533.0 156.0,533.1 155.0,533.4 154.0,533.5 153.5,533.5 152.5,533.5 152.0,533.5 151.0,533.3 150.0,533.0 149.5,532.8 149.0,532.5 148.3,532.0 147.8,531.5 147.4,531.0 147.0,530.0 146.9,529.5 146.9,528.5 147.0,528.0 147.4,527.0 147.7,526.5 148.0,526.0 148.5,525.4 149.0,524.9 149.5,524.5 150.2,524.0 151.0,523.6 151.5,523.3 152.3,523.0ZM151.5,550.5 152.0,550.4 152.8,550.5 153.5,550.7 154.3,551.0 155.0,551.4 155.5,551.8 156.0,552.3 156.5,553.0 156.8,553.5 157.1,554.0 157.5,555.0 157.6,555.5 157.8,556.5 157.8,557.5 157.6,558.5 157.5,559.0 157.0,560.0 156.6,560.5 156.1,561.0 155.5,561.4 155.0,561.7 154.1,562.0 153.5,562.1 152.5,562.0 152.0,561.9 151.0,561.5 150.5,561.2 150.0,560.8 149.5,560.4 149.0,559.8 148.5,559.0 148.3,558.5 148.0,557.7 147.8,557.0 147.7,556.0 147.8,555.0 148.0,554.0 148.1,553.5 148.5,552.7 149.0,552.0 149.4,551.5 150.0,551.1 150.5,550.8 151.5,550.5ZM154.8,524.0 155.5,524.0 156.0,524.0 157.0,524.2 157.7,524.5 158.5,525.0 159.0,525.4 159.4,526.0 159.6,526.5 159.8,527.5 159.5,528.5 159.3,529.0 159.0,529.5 158.5,530.0 157.9,530.5 157.2,531.0 156.5,531.3 156.0,531.5 155.0,531.8 154.0,531.9 153.0,531.8 152.0,531.6 151.5,531.4 150.7,531.0 150.1,530.5 149.8,530.0 149.5,529.5 149.3,528.5 149.5,527.6 149.8,527.0 150.1,526.5 150.5,526.0 151.0,525.5 151.7,525.0 152.5,524.6 153.0,524.4 154.0,524.1 154.8,524.0ZM151.2,553.0 152.0,552.7 153.0,552.7 153.9,553.0 154.5,553.4 155.0,553.9 155.4,554.5 155.7,555.0 156.0,556.0 156.0,556.5 156.0,557.0 155.7,558.0 155.5,558.5 155.0,559.1 154.3,559.5 153.5,559.7 152.5,559.6 152.0,559.4 151.3,559.0 150.8,558.5 150.4,558.0 150.0,557.0 149.9,556.5 149.8,555.5 150.0,554.6 150.3,554.0 150.6,553.5 151.2,553.0ZM153.5,526.5 154.5,526.1 155.5,526.1 156.4,526.5 156.9,527.0 157.0,527.5 157.0,528.0 156.5,528.7 156.0,529.1 155.2,529.5 154.5,529.6 153.7,529.5 153.0,529.1 152.5,528.5 152.4,528.0 152.6,527.5 153.0,526.9 153.5,526.5Z" stroke="#2a2a2a" stroke-width="0.7" fill="none" stroke-linejoin="round"/>
<rect x="129.00" y="492.50" width="95.00" height="94.30" fill="none" stroke="#3a3a3a" stroke-width="0.9" />
<line x1="127.50" y1="516.08" x2="129.00" y2="516.08" stroke="#555" stroke-width="0.6" />
<line x1="152.75" y1="586.80" x2="152.75" y2="588.30" stroke="#555" stroke-width="0.6" />
<line x1="127.50" y1="539.65" x2="129.00" y2="539.65" stroke="#555" stroke-width="0.6" />
<line x1="176.50" y1="586.80" x2="176.50" y2="588.30" stroke="#555" stroke-width="0.6" />
<line x1="127.50" y1="563.22" x2="129.00" y2="563.22" stroke="#555" stroke-width="0.6" />
<line x1="200.25" y1="586.80" x2="200.25" y2="588.30" stroke="#555" stroke-width="0.6" />
<rect x="129.60" y="509.20" width="37.70" height="31.20" fill="none" stroke="#111" stroke-width="1.2" />
<rect x="173.00" y="512.00" width="29.50" height="24.70" fill="none" stroke="#111" stroke-width="1.1" />
<text x="173.7" y="490.3" font-size="10.1" text-anchor="middle" font-weight="bold"><tspan font-style="italic">Runx3</tspan> KO</text>
<text x="151.0" y="504.4" font-size="10.3" text-anchor="middle" font-weight="normal" stroke="#000" stroke-width="0.4" style="">34.43</text>
<text x="189.2" y="508.6" font-size="10.3" text-anchor="middle" font-weight="normal" stroke="#000" stroke-width="0.4" style="">4.90</text>
<path d="M53.2,684.9h.6M44.3,682.7h.6M69.0,675.4h.6M52.0,680.4h.6M62.2,673.7h.6M57.5,665.5h.6M49.2,670.2h.6M40.8,660.8h.6M38.2,671.9h.6M53.0,662.3h.6M59.0,666.6h.6M48.9,656.4h.6M48.0,654.8h.6M40.0,683.6h.6M33.2,681.0h.6M56.4,678.6h.6M61.5,672.0h.6M47.2,668.7h.6M43.8,673.6h.6M45.5,683.3h.6M36.1,664.4h.6M44.1,655.7h.6M69.0,653.0h.6M49.9,669.4h.6M66.9,656.6h.6M61.8,667.6h.6M51.0,668.1h.6M58.0,664.1h.6M68.5,653.0h.6M65.7,682.3h.6M48.2,676.7h.6M48.3,688.4h.6M50.9,666.3h.6M70.4,657.3h.6M55.3,682.5h.6M48.5,670.7h.6M69.4,678.6h.6M59.2,668.9h.6M42.1,676.6h.6M45.1,664.8h.6M41.1,669.6h.6M62.1,670.2h.6M39.7,679.8h.6M53.0,681.4h.6M62.9,672.5h.6M42.5,679.8h.6M64.4,675.5h.6M45.6,667.0h.6M48.9,666.6h.6M48.6,660.2h.6M42.3,653.9h.6M52.3,683.6h.6M46.0,669.8h.6M47.4,679.7h.6M44.4,682.6h.6M49.8,682.1h.6M39.5,668.0h.6M50.1,679.8h.6M54.5,667.9h.6M56.0,682.6h.6M49.0,681.1h.6M57.1,665.9h.6M55.7,669.8h.6M45.8,684.8h.6M59.6,667.7h.6M46.8,672.9h.6M58.2,658.4h.6M55.3,680.5h.6M56.8,662.3h.6M55.2,666.5h.6M57.4,679.3h.6M54.3,667.3h.6M47.2,681.5h.6M44.5,678.3h.6M56.9,671.6h.6M73.3,674.6h.6M71.2,656.4h.6M32.8,682.6h.6M58.0,671.3h.6M51.9,657.4h.6M46.9,665.0h.6M50.5,681.7h.6M46.3,670.2h.6M63.5,666.3h.6M68.9,665.4h.6M61.7,667.2h.6M66.8,675.2h.6M55.9,680.5h.6M46.9,664.9h.6M34.7,684.7h.6M46.3,668.8h.6M37.3,676.2h.6M48.9,678.6h.6M36.7,670.5h.6M59.7,687.6h.6M66.4,666.5h.6M40.4,661.4h.6M59.0,676.1h.6M51.2,684.6h.6M43.6,678.6h.6M69.3,671.3h.6M61.2,679.3h.6M49.3,681.0h.6M44.9,684.1h.6M45.3,669.7h.6M55.2,681.3h.6M60.3,681.8h.6M50.6,665.6h.6M57.2,676.6h.6M44.1,682.5h.6M54.1,665.6h.6M56.3,662.4h.6M44.7,677.5h.6M38.8,674.3h.6M40.6,680.4h.6M46.0,675.6h.6M39.3,671.0h.6M60.7,678.0h.6M36.3,682.1h.6M60.2,670.7h.6M64.8,664.7h.6M51.7,683.7h.6M63.9,685.2h.6M42.8,658.4h.6M55.8,661.5h.6M51.3,662.8h.6M61.7,681.0h.6M56.4,670.3h.6M69.0,676.5h.6M64.6,685.6h.6M44.7,659.3h.6M63.4,670.6h.6M53.5,663.6h.6M52.3,653.6h.6M59.6,676.9h.6M37.3,667.6h.6M52.7,679.5h.6M52.4,686.1h.6M52.6,665.3h.6M46.5,680.5h.6M44.4,684.7h.6M66.4,698.4h.6M40.6,674.1h.6M46.6,728.4h.6M30.2,721.5h.6M42.5,729.1h.6M27.8,712.4h.6M59.9,690.6h.6M37.3,674.9h.6M70.5,683.3h.6M35.0,696.7h.6M49.5,727.8h.6M55.6,683.3h.6M46.9,727.5h.6M38.8,685.7h.6M50.3,730.8h.6M48.5,686.0h.6M41.1,691.1h.6M42.1,726.8h.6M53.0,689.2h.6M30.4,700.7h.6M37.0,729.0h.6M56.4,684.4h.6M33.5,718.8h.6M61.4,685.3h.6M61.7,678.6h.6M28.1,677.9h.6M62.3,694.4h.6M35.3,693.3h.6M57.4,687.8h.6M63.8,692.0h.6M71.4,697.0h.6M63.2,676.1h.6M47.3,690.2h.6M86.5,713.2h.6M59.9,688.6h.6M38.0,672.7h.6M62.3,677.0h.6M42.4,725.6h.6M51.1,683.9h.6M61.2,691.5h.6M49.2,687.9h.6M30.6,712.0h.6M35.4,684.2h.6M69.7,693.0h.6M32.2,719.0h.6M33.9,691.7h.6M86.8,712.6h.6M38.2,693.5h.6M61.6,690.5h.6M41.7,691.4h.6M80.1,677.4h.6M29.0,685.6h.6M79.7,697.1h.6M40.2,726.4h.6M41.3,669.9h.6M35.9,728.5h.6M70.8,690.1h.6M38.6,691.7h.6M73.1,693.5h.6M53.7,681.9h.6M27.5,705.5h.6M34.9,683.2h.6M37.0,678.8h.6M59.6,689.2h.6M35.8,666.4h.6M30.4,721.6h.6M66.9,677.9h.6M45.1,676.6h.6M79.3,684.9h.6M34.0,724.9h.6M82.8,696.4h.6M30.9,703.1h.6M62.4,689.9h.6M43.7,688.7h.6M94.5,689.0h.6M40.0,726.5h.6M55.9,688.9h.6M63.7,664.6h.6M83.5,702.9h.6M68.9,686.4h.6M30.9,706.9h.6M42.1,724.3h.6M65.8,686.8h.6M28.2,719.0h.6M36.8,683.3h.6M31.3,702.0h.6M64.5,683.1h.6M60.5,689.8h.6M39.0,691.9h.6M53.4,662.9h.6M72.1,690.6h.6M28.5,692.3h.6M66.1,688.8h.6M33.1,725.5h.6M50.8,728.9h.6M43.8,689.8h.6M58.5,679.5h.6M68.5,669.0h.6M50.6,688.3h.6M61.5,693.9h.6M31.0,693.8h.6M53.7,689.0h.6M64.9,695.2h.6M43.4,727.7h.6M63.4,694.4h.6M42.0,728.4h.6M33.8,727.7h.6M52.0,690.1h.6M64.9,688.2h.6M31.9,698.8h.6M48.4,728.6h.6M53.8,687.7h.6M41.1,687.2h.6M56.8,690.9h.6M72.2,684.3h.6M81.6,726.4h.6M85.5,717.0h.6M52.0,689.5h.6M54.4,690.1h.6M48.4,689.3h.6M45.0,728.9h.6M39.7,687.9h.6M65.3,694.7h.6M39.0,689.1h.6M39.7,689.1h.6M71.0,690.8h.6M43.9,668.3h.6M67.4,725.8h.6M84.8,711.0h.6M76.9,689.3h.6M45.1,726.5h.6M42.4,691.2h.6M29.5,709.1h.6M31.5,716.3h.6M63.2,729.6h.6M27.9,700.1h.6M67.9,682.9h.6M51.6,681.6h.6M64.4,694.3h.6M46.3,684.4h.6M36.0,690.4h.6M60.6,680.1h.6M54.8,682.5h.6M71.9,696.9h.6M42.9,690.7h.6M47.7,727.3h.6M60.1,687.4h.6M47.5,726.2h.6M62.7,693.7h.6M62.9,691.9h.6M68.4,686.9h.6M69.2,679.3h.6M46.6,688.3h.6M62.6,730.1h.6M30.8,724.7h.6M53.7,685.3h.6M68.3,690.9h.6M71.0,697.5h.6M52.3,680.8h.6M65.7,694.4h.6M71.6,685.6h.6M65.2,730.0h.6M72.9,669.2h.6M30.3,695.0h.6M68.7,695.1h.6M61.0,688.4h.6M39.3,687.9h.6M42.8,691.4h.6M57.4,687.8h.6M30.5,711.1h.6M66.4,730.9h.6M54.5,683.0h.6M28.0,721.1h.6M83.9,724.8h.6M27.2,699.3h.6M53.8,680.4h.6M88.0,705.1h.6M72.3,691.3h.6M36.2,730.9h.6M34.7,688.6h.6M58.0,678.4h.6M68.2,685.7h.6M47.0,689.8h.6M70.8,690.7h.6M33.3,718.5h.6M87.1,714.0h.6M66.2,674.8h.6M42.6,665.7h.6M34.8,686.5h.6M61.7,686.7h.6M36.2,674.5h.6M28.4,684.5h.6M30.6,703.1h.6M72.4,693.3h.6M47.1,687.8h.6M38.0,723.0h.6M48.2,688.1h.6M83.0,724.9h.6M46.0,679.3h.6M51.1,688.2h.6M38.5,722.3h.6M40.9,723.6h.6M39.6,692.6h.6M45.5,726.0h.6M42.0,691.7h.6M30.3,708.4h.6M77.7,693.0h.6M64.1,731.1h.6M66.2,695.9h.6M34.8,687.9h.6M58.3,683.9h.6M60.0,675.1h.6M45.0,730.4h.6M68.8,684.8h.6M45.8,689.7h.6M81.2,731.1h.6M40.0,730.4h.6M29.9,721.0h.6M28.1,717.5h.6M53.7,730.7h.6M51.8,731.1h.6M79.0,688.6h.6M72.1,693.4h.6M28.5,677.2h.6M37.4,683.9h.6M69.1,685.7h.6M67.8,695.6h.6M32.3,715.6h.6M34.5,695.2h.6M43.0,729.2h.6M45.7,725.6h.6M45.2,729.4h.6M83.5,691.6h.6M56.2,690.5h.6M40.6,688.9h.6M70.1,692.6h.6M47.0,683.5h.6M39.4,691.6h.6M31.1,691.9h.6M37.3,687.2h.6M67.7,700.6h.6M63.9,690.3h.6M51.7,681.0h.6M36.7,723.9h.6M80.8,681.3h.6M58.5,689.2h.6M30.1,700.3h.6M63.6,682.7h.6M69.1,696.9h.6M77.3,691.7h.6M45.9,681.2h.6M43.5,683.4h.6M44.7,679.8h.6M60.1,689.1h.6M63.6,693.7h.6M43.2,683.8h.6M40.6,731.1h.6M44.9,686.6h.6M58.2,665.7h.6M83.5,721.3h.6M67.2,697.3h.6M66.6,685.6h.6M29.9,700.3h.6M28.2,698.7h.6M29.8,723.8h.6M35.5,722.5h.6M54.0,683.1h.6M32.6,697.3h.6M40.2,688.8h.6M76.5,675.0h.6M43.6,685.9h.6M58.5,677.2h.6M44.1,683.8h.6M62.8,691.6h.6M62.8,670.8h.6M67.5,729.5h.6M67.8,694.5h.6M51.2,728.3h.6M47.7,686.5h.6M34.6,683.5h.6M52.0,685.9h.6M37.3,722.8h.6M55.5,678.9h.6M85.1,719.0h.6M71.4,694.2h.6M37.9,726.0h.6M30.9,696.6h.6M30.4,721.4h.6M37.2,695.1h.6M36.0,721.4h.6M67.4,695.6h.6M65.1,695.7h.6M83.3,719.6h.6M67.5,699.7h.6M48.5,727.4h.6M46.6,672.2h.6M59.0,686.2h.6M38.5,722.3h.6M51.5,667.6h.6M71.3,685.3h.6M28.1,725.6h.6M43.9,726.5h.6M44.1,681.6h.6M63.9,691.8h.6M37.8,722.9h.6M56.3,686.2h.6M36.0,696.1h.6M53.8,730.7h.6M27.8,676.3h.6M72.7,727.2h.6M29.5,721.5h.6M67.7,683.4h.6M30.1,719.9h.6M34.7,722.3h.6M74.8,685.5h.6M64.8,695.8h.6M47.0,690.4h.6M46.1,668.5h.6M27.6,716.2h.6M28.3,716.2h.6M33.9,698.0h.6M60.2,671.9h.6M29.7,697.2h.6M65.4,696.9h.6M37.8,679.8h.6M47.9,729.1h.6M65.8,679.6h.6M61.2,689.7h.6M30.1,717.5h.6M74.7,728.1h.6M32.0,717.9h.6M76.9,695.1h.6M31.4,693.6h.6M38.2,691.5h.6M72.4,730.3h.6M32.1,718.9h.6M47.9,686.1h.6M63.2,688.0h.6M49.3,730.2h.6M40.0,723.4h.6M42.7,727.8h.6M52.2,690.0h.6M67.0,684.9h.6M64.8,680.6h.6M34.4,724.3h.6M66.1,684.6h.6M87.4,724.7h.6M55.8,688.4h.6M71.1,691.4h.6M51.3,690.0h.6M47.7,686.7h.6M55.6,684.6h.6M58.9,683.5h.6M57.0,690.4h.6M44.9,686.9h.6M55.1,686.7h.6M68.0,729.1h.6M49.6,727.7h.6M32.5,727.2h.6M52.7,687.9h.6M38.1,727.1h.6M71.7,690.6h.6M34.1,687.7h.6M32.4,728.4h.6M48.2,688.1h.6M62.1,689.1h.6M76.8,680.2h.6M64.2,692.3h.6M30.7,698.5h.6M69.2,699.7h.6M56.1,731.1h.6M77.5,694.2h.6M53.2,680.5h.6M69.7,690.3h.6M64.0,689.0h.6M38.4,691.1h.6M37.2,684.8h.6M76.5,689.8h.6M77.1,727.7h.6M84.2,690.5h.6M44.4,730.0h.6M39.1,679.6h.6M40.5,689.1h.6M43.4,731.2h.6M78.0,681.2h.6M36.8,684.3h.6M40.4,730.7h.6M36.6,684.8h.6M33.9,722.3h.6M41.1,690.5h.6M68.7,695.7h.6M48.0,728.5h.6M38.3,725.6h.6M44.8,730.0h.6M53.4,690.0h.6M49.7,688.5h.6M32.0,693.8h.6M52.0,682.5h.6M35.5,728.9h.6M47.0,690.4h.6M64.7,681.4h.6M83.0,700.8h.6M56.1,687.6h.6M69.6,686.3h.6M48.9,679.1h.6M34.7,725.1h.6M89.6,727.3h.6M56.3,677.3h.6M35.9,725.7h.6M71.7,728.6h.6M28.6,666.3h.6M47.1,730.1h.6M63.5,690.6h.6M66.0,686.8h.6M47.5,686.4h.6M28.5,700.7h.6M61.2,692.1h.6M90.0,694.1h.6M34.7,727.6h.6M42.1,677.4h.6M77.8,689.8h.6M45.1,730.7h.6M28.6,701.5h.6M65.4,685.6h.6M70.9,689.9h.6M38.5,730.6h.6M44.6,731.2h.6M31.8,696.0h.6M49.8,689.6h.6M44.5,725.3h.6M47.0,676.8h.6M31.5,721.7h.6M44.9,725.2h.6M29.1,716.0h.6M41.7,730.8h.6M28.0,725.1h.6M83.6,706.0h.6M62.1,690.1h.6M82.8,698.0h.6M45.2,683.0h.6M35.3,729.9h.6M37.1,681.4h.6M63.9,730.2h.6M40.7,724.4h.6M65.8,676.2h.6M27.1,703.8h.6M71.9,694.0h.6M32.2,730.2h.6M27.3,721.6h.6M50.0,689.9h.6M27.7,695.7h.6M50.4,688.7h.6M55.2,681.0h.6M32.0,725.9h.6M34.0,726.3h.6M45.4,656.5h.6M62.0,680.4h.6M39.4,677.8h.6M33.2,723.0h.6M30.2,669.3h.6M29.5,662.2h.6M68.0,699.0h.6M39.0,683.4h.6M46.1,682.5h.6M61.7,678.3h.6M31.0,702.9h.6M84.5,681.5h.6M30.2,711.0h.6M45.9,686.6h.6M44.0,726.6h.6M63.2,683.8h.6M32.8,692.1h.6M38.7,680.3h.6M66.3,731.0h.6M40.5,692.1h.6M67.2,697.4h.6M32.0,676.8h.6M61.9,688.2h.6M40.2,726.8h.6M32.5,727.4h.6M42.6,727.5h.6M68.8,695.7h.6M45.6,729.6h.6M35.1,723.3h.6M45.3,684.9h.6M37.2,693.5h.6M47.3,676.4h.6M40.1,729.3h.6M38.6,692.0h.6M44.2,729.3h.6M34.1,719.8h.6M27.0,697.5h.6M38.1,694.0h.6M30.8,670.4h.6M28.9,728.4h.6M72.0,696.3h.6M31.2,703.0h.6M29.9,687.8h.6M34.8,694.6h.6M28.7,683.3h.6M66.5,694.7h.6M41.8,729.4h.6M29.6,687.0h.6M34.8,686.0h.6M38.1,724.1h.6M80.3,693.0h.6M29.5,692.4h.6M39.3,724.8h.6M30.8,709.2h.6M32.4,686.8h.6M42.4,725.3h.6M37.3,680.8h.6M59.5,691.9h.6M34.1,719.2h.6M28.5,711.8h.6M28.2,721.5h.6M49.2,689.0h.6M34.8,684.8h.6M37.7,731.0h.6M35.7,726.3h.6M37.6,672.9h.6M40.6,684.4h.6M29.2,721.5h.6M37.1,692.4h.6M46.6,689.7h.6M36.2,722.2h.6M30.1,717.6h.6M30.3,700.0h.6M28.4,711.4h.6M38.1,659.9h.6M30.2,719.3h.6M37.9,684.8h.6M56.5,678.7h.6M36.8,689.8h.6M30.3,715.9h.6M30.8,713.0h.6M38.4,675.3h.6M33.6,686.7h.6M52.4,687.6h.6M49.0,685.4h.6M70.3,694.4h.6M35.4,726.1h.6M64.2,687.8h.6M36.1,683.7h.6M29.6,695.4h.6M39.6,725.5h.6M71.2,695.4h.6M60.8,684.6h.6M62.4,730.6h.6M82.8,723.2h.6M34.5,719.4h.6M41.9,729.3h.6M28.2,690.0h.6M43.5,687.3h.6M29.5,712.8h.6M28.3,713.9h.6M35.3,682.2h.6M35.5,728.0h.6M53.4,688.0h.6M32.8,728.0h.6M37.3,723.5h.6M88.5,718.1h.6M27.7,710.5h.6M31.2,729.0h.6M30.8,705.6h.6M34.4,696.2h.6M29.2,722.3h.6M39.8,727.5h.6M39.9,681.8h.6M67.2,696.5h.6M30.9,691.0h.6M62.9,695.2h.6M51.1,684.8h.6M36.2,729.2h.6M31.3,696.0h.6M48.0,727.4h.6M32.6,700.1h.6M33.3,672.6h.6M28.9,716.3h.6M30.2,714.6h.6M45.2,727.0h.6M59.6,685.1h.6M46.7,690.0h.6M28.2,716.9h.6M47.8,664.3h.6M60.2,690.9h.6M40.0,728.0h.6M76.1,690.3h.6M71.7,691.7h.6M63.9,683.8h.6M39.7,724.7h.6M33.7,721.5h.6M39.3,726.4h.6M43.5,726.7h.6M58.1,691.2h.6M67.5,693.4h.6M51.6,689.7h.6M47.2,726.6h.6M29.1,723.4h.6M35.1,695.2h.6M33.4,698.8h.6M45.7,725.3h.6M41.8,686.0h.6M30.1,708.6h.6M28.4,725.8h.6M40.0,727.8h.6M43.5,730.4h.6M72.0,692.9h.6M30.9,693.5h.6M28.6,680.6h.6M57.9,672.3h.6M35.2,720.2h.6M51.6,663.7h.6M31.7,696.6h.6M29.1,706.5h.6M29.8,691.2h.6M30.0,710.2h.6M31.8,715.3h.6M70.5,696.9h.6M28.1,698.1h.6M70.6,690.0h.6M38.2,690.8h.6M29.6,696.4h.6M35.0,695.0h.6M35.6,674.5h.6M69.6,699.0h.6M48.9,730.9h.6M37.6,688.0h.6M43.2,686.8h.6M32.0,700.1h.6M31.7,717.5h.6M48.4,689.2h.6M37.6,724.3h.6M34.9,668.2h.6M41.9,684.1h.6M31.0,702.7h.6M46.9,728.7h.6M61.1,692.7h.6M27.3,714.1h.6M42.3,729.3h.6M47.6,727.7h.6M28.5,706.5h.6M33.6,723.3h.6M31.5,691.1h.6M64.5,696.7h.6M41.4,727.3h.6M33.5,721.3h.6M27.8,691.9h.6M61.8,693.7h.6M27.4,715.4h.6M46.5,680.2h.6M60.7,683.3h.6M35.7,692.0h.6M45.0,671.2h.6M28.2,693.5h.6M44.1,684.6h.6M68.9,699.0h.6M30.6,722.6h.6M52.0,730.0h.6M28.4,715.2h.6M37.4,729.2h.6M55.0,683.6h.6M40.8,683.3h.6M29.4,706.4h.6M30.4,693.3h.6M86.6,701.1h.6M56.8,678.0h.6M83.2,699.7h.6M38.5,724.7h.6M48.8,689.5h.6M33.3,699.1h.6M70.3,729.6h.6M56.7,690.6h.6M35.5,695.2h.6M61.3,679.7h.6M54.7,687.8h.6M30.5,718.3h.6M45.1,690.6h.6M67.2,680.5h.6M39.1,728.2h.6M60.8,675.7h.6M30.9,714.3h.6M39.0,691.4h.6M39.2,726.4h.6M31.6,690.4h.6M57.8,691.7h.6M28.8,704.9h.6M31.0,712.8h.6M46.2,727.1h.6M43.8,677.0h.6M63.6,729.4h.6M32.4,697.3h.6M29.5,719.5h.6M44.3,729.8h.6M73.3,726.8h.6M34.0,718.8h.6M27.2,714.3h.6M54.6,690.4h.6M31.1,706.2h.6M32.3,701.2h.6M44.2,725.9h.6M31.7,713.4h.6M85.6,702.0h.6M69.6,689.1h.6M39.0,681.8h.6M32.4,689.2h.6M37.0,683.1h.6M31.6,693.7h.6M27.1,728.6h.6M37.9,675.2h.6M61.7,684.7h.6M47.9,689.8h.6M30.3,719.4h.6M33.6,691.0h.6M38.4,690.2h.6M62.6,680.8h.6M36.1,722.0h.6M30.2,707.9h.6M44.6,726.3h.6M47.9,685.9h.6M39.3,686.1h.6M29.6,730.0h.6M45.5,689.2h.6M34.5,726.5h.6M60.8,686.5h.6M27.3,680.9h.6M28.4,683.8h.6M39.1,692.6h.6M57.3,677.6h.6M30.9,697.3h.6M59.9,665.5h.6M29.7,701.5h.6M28.7,708.9h.6M32.8,698.1h.6M35.7,721.3h.6M31.1,690.4h.6M30.7,681.4h.6M44.5,728.4h.6M39.4,690.0h.6M58.0,683.1h.6M42.5,683.4h.6M35.9,696.3h.6M29.5,699.0h.6M44.6,677.6h.6M69.8,690.6h.6M30.9,723.0h.6M45.9,689.7h.6M28.6,701.9h.6M31.2,700.4h.6M31.8,718.2h.6M49.3,730.5h.6M58.6,689.7h.6M65.8,677.4h.6M65.9,667.9h.6M64.3,695.5h.6M91.7,706.7h.6M31.3,717.2h.6M31.5,695.3h.6M40.1,728.6h.6M32.8,728.0h.6M30.1,689.0h.6M41.7,692.1h.6M41.7,730.9h.6M32.0,729.7h.6M47.7,729.5h.6M40.9,684.0h.6M28.9,702.9h.6M73.0,730.3h.6M29.5,702.3h.6M79.6,687.4h.6M39.1,724.0h.6M32.2,692.6h.6M48.5,727.2h.6M32.6,692.2h.6M70.7,692.8h.6M28.4,677.3h.6M49.1,689.0h.6M50.3,689.2h.6M36.7,686.8h.6M33.5,728.1h.6M37.0,671.0h.6M29.3,687.1h.6M32.0,687.7h.6M32.2,723.9h.6M31.8,716.9h.6M36.3,673.9h.6M36.8,693.8h.6M29.2,672.4h.6M59.7,683.7h.6M28.3,714.3h.6M86.8,715.9h.6M50.2,682.7h.6M64.2,694.8h.6M31.2,721.2h.6M28.7,711.3h.6M31.9,691.8h.6M34.0,685.1h.6M28.0,692.9h.6M34.5,718.6h.6M30.8,715.1h.6M39.1,690.7h.6M45.5,680.0h.6M49.2,730.2h.6M54.2,682.7h.6M57.4,668.1h.6M32.4,721.1h.6M52.2,680.3h.6M47.7,687.6h.6M40.4,669.7h.6M29.9,700.6h.6M31.2,720.2h.6M68.5,688.2h.6M54.6,730.7h.6M35.7,726.6h.6M73.4,667.0h.6M45.0,685.0h.6M52.0,688.9h.6M42.3,684.5h.6M37.2,693.3h.6M33.1,718.7h.6M62.7,671.5h.6M36.0,727.7h.6M30.2,684.2h.6M28.6,712.5h.6M65.0,680.9h.6M27.4,678.3h.6M41.0,687.6h.6M40.7,728.8h.6M55.4,730.9h.6M50.0,729.1h.6M42.1,730.1h.6M44.6,726.8h.6M66.3,727.3h.6M51.5,730.4h.6M65.2,687.3h.6M72.0,729.0h.6M52.5,730.7h.6M33.0,723.9h.6M45.1,731.0h.6M69.8,727.1h.6M52.5,730.6h.6M68.3,729.4h.6M34.7,721.4h.6M48.9,729.3h.6M89.0,715.0h.6M68.9,727.3h.6M80.7,725.4h.6M66.4,697.5h.6M66.3,730.7h.6M67.2,727.5h.6M70.4,727.0h.6M45.6,725.2h.6M64.3,729.0h.6M69.7,729.9h.6M48.2,726.4h.6M68.6,729.1h.6M68.5,731.2h.6M64.2,694.1h.6M46.7,729.0h.6M75.4,728.2h.6M46.4,728.3h.6M86.9,719.1h.6M65.6,729.6h.6M41.7,727.9h.6M51.8,729.4h.6M41.0,725.2h.6M82.0,730.3h.6M45.4,728.9h.6M47.1,730.9h.6M35.7,721.1h.6M47.5,729.4h.6M35.2,723.7h.6M50.1,730.8h.6M45.0,727.4h.6M71.0,727.7h.6M68.5,731.1h.6M53.2,729.7h.6M67.6,692.8h.6M80.7,725.5h.6M88.2,701.4h.6M83.3,720.8h.6M68.6,727.6h.6M79.4,687.8h.6M83.8,716.9h.6M77.4,690.3h.6M66.7,728.0h.6M89.6,703.5h.6M82.8,702.6h.6M88.0,722.9h.6M85.9,711.3h.6M73.4,695.4h.6M63.5,680.4h.6M91.1,704.7h.6M64.2,688.2h.6M85.5,675.5h.6M77.7,679.6h.6M83.5,688.8h.6M87.0,695.5h.6M90.9,701.9h.6M87.7,705.1h.6M76.6,690.1h.6M83.4,721.7h.6M82.9,678.7h.6M75.5,664.4h.6M76.9,690.3h.6M81.1,726.4h.6M82.1,699.2h.6M66.6,695.7h.6M82.0,723.7h.6M89.3,697.0h.6M77.2,690.5h.6M60.4,671.9h.6M91.9,701.9h.6M80.6,697.7h.6M80.1,693.7h.6M76.1,690.1h.6M87.6,687.6h.6M70.8,677.7h.6M86.3,707.4h.6M83.4,679.8h.6M81.0,692.9h.6M73.8,692.7h.6M70.4,692.7h.6M84.6,695.8h.6M75.9,729.6h.6M88.0,713.6h.6M70.2,688.9h.6M86.4,676.8h.6M78.9,678.5h.6M78.5,690.5h.6M89.7,702.7h.6M93.0,707.7h.6M68.6,694.7h.6M70.4,676.4h.6M65.4,694.9h.6M79.7,727.9h.6M87.6,702.3h.6M74.6,729.3h.6M84.2,721.4h.6M78.2,679.6h.6M84.7,703.8h.6M81.5,729.2h.6M66.1,668.9h.6M78.5,688.3h.6M83.7,709.6h.6M85.0,705.6h.6M66.1,727.9h.6M69.7,695.7h.6M91.1,709.6h.6M87.5,713.1h.6M83.8,718.5h.6M80.6,692.4h.6M97.2,694.5h.6M69.0,691.4h.6M67.8,654.1h.6M69.2,673.4h.6M84.0,700.9h.6M86.1,700.2h.6M57.7,669.4h.6M86.1,702.7h.6M67.2,693.5h.6M72.9,691.9h.6M80.7,694.2h.6M85.1,698.8h.6M71.8,690.6h.6M84.5,701.3h.6M82.4,690.8h.6M84.7,715.0h.6M84.4,694.1h.6M70.9,685.7h.6M80.4,727.9h.6M76.3,681.9h.6M85.5,718.3h.6M88.0,697.1h.6M69.5,726.7h.6M97.2,688.8h.6M88.4,699.4h.6M86.9,712.9h.6M70.8,729.1h.6M68.0,729.2h.6M94.1,707.8h.6M87.4,707.2h.6M83.7,700.8h.6M83.4,717.9h.6M70.0,687.5h.6M83.5,671.9h.6M88.8,730.4h.6M70.7,689.2h.6M72.2,685.9h.6M71.4,680.9h.6M91.9,727.1h.6M71.2,686.3h.6M70.5,695.6h.6M69.7,688.1h.6M86.0,708.7h.6M83.4,697.1h.6M84.0,717.7h.6M83.0,726.6h.6M85.2,693.1h.6M81.6,724.3h.6M86.2,730.6h.6M65.7,679.5h.6M85.8,687.9h.6M77.9,727.1h.6M70.1,690.9h.6M86.1,715.5h.6M68.8,688.2h.6M85.9,706.5h.6M71.4,687.2h.6M94.2,716.0h.6M84.7,729.6h.6M85.2,702.1h.6M77.6,690.6h.6M87.4,702.9h.6M83.1,699.7h.6M71.3,726.0h.6M66.5,695.9h.6M86.0,694.8h.6M93.2,708.4h.6M71.7,695.7h.6M83.3,685.4h.6M83.9,696.9h.6M83.3,686.2h.6M73.5,676.0h.6M84.6,712.0h.6M70.6,690.3h.6M88.2,707.9h.6M79.2,681.3h.6M86.4,694.9h.6M67.3,690.3h.6M69.8,697.0h.6M70.6,730.8h.6M83.8,705.3h.6M71.9,690.3h.6M72.7,728.1h.6M73.2,677.2h.6M87.3,699.1h.6M73.8,677.3h.6M74.4,729.0h.6M73.6,687.3h.6M85.5,693.6h.6M74.1,695.5h.6M67.9,688.2h.6M84.4,708.5h.6M87.8,695.6h.6M69.3,695.9h.6M86.3,710.3h.6M75.8,679.9h.6M78.0,726.7h.6M94.0,704.2h.6M84.0,717.6h.6M87.4,689.7h.6M85.0,692.6h.6M68.6,695.0h.6M93.3,729.3h.6M80.2,729.9h.6M83.9,718.1h.6M74.5,679.2h.6M85.0,720.9h.6M73.2,682.4h.6M82.8,682.2h.6M79.0,689.5h.6M88.1,701.4h.6M84.1,711.4h.6M88.5,709.4h.6M79.9,694.5h.6M64.3,730.2h.6M78.2,678.1h.6M76.9,694.1h.6M86.6,705.7h.6M73.7,682.9h.6M84.3,724.1h.6M75.2,690.5h.6M85.7,704.7h.6M97.4,702.0h.6M63.8,695.7h.6M78.7,693.4h.6M71.5,697.1h.6M91.7,685.3h.6M85.5,711.9h.6M65.7,686.0h.6M81.7,696.1h.6M75.4,694.6h.6M72.0,695.5h.6M96.4,720.3h.6M79.1,696.4h.6M62.5,730.7h.6M97.2,714.0h.6M76.3,728.4h.6M84.6,701.3h.6M83.9,715.1h.6M82.2,699.6h.6M68.8,690.3h.6M83.8,699.6h.6M81.3,725.8h.6M91.3,704.6h.6M87.0,711.2h.6M84.8,697.0h.6M87.0,675.0h.6M83.9,702.2h.6M84.4,715.7h.6M89.7,706.1h.6M66.9,693.5h.6M89.7,729.2h.6M80.7,683.1h.6M84.4,714.8h.6M83.1,729.4h.6M86.3,712.7h.6M85.1,714.3h.6M88.2,709.9h.6M88.3,712.9h.6M86.7,701.7h.6M82.1,726.7h.6M92.2,697.6h.6M73.7,729.4h.6M99.7,710.6h.6M75.7,728.5h.6M93.6,707.0h.6M99.4,704.6h.6M64.6,728.4h.6M65.4,697.5h.6M92.8,713.1h.6M66.1,730.2h.6M85.9,696.8h.6M80.3,727.0h.6M87.1,723.4h.6M103.2,721.1h.6M68.5,725.5h.6M90.8,697.0h.6M76.1,728.8h.6M81.7,722.3h.6M72.4,692.5h.6M80.8,730.7h.6M66.0,690.6h.6M86.0,705.1h.6M86.9,719.4h.6M95.2,702.8h.6M88.8,694.2h.6M77.6,731.0h.6M83.9,726.9h.6M89.8,719.1h.6M88.8,720.0h.6M67.4,699.1h.6M92.7,723.6h.6M79.5,682.7h.6M90.3,713.8h.6M90.1,711.6h.6M71.3,697.4h.6M86.9,715.5h.6M76.9,684.1h.6M90.5,714.5h.6M85.6,708.4h.6M87.1,724.1h.6M75.7,688.7h.6M93.8,708.8h.6M85.0,706.4h.6M86.8,704.7h.6M65.1,697.0h.6M89.4,720.2h.6M83.5,703.7h.6M97.5,688.0h.6M83.0,726.2h.6M69.0,726.4h.6M73.9,730.4h.6M77.3,695.3h.6M69.7,729.5h.6M88.6,709.1h.6M73.0,727.3h.6M82.3,730.5h.6M96.9,712.9h.6M66.3,698.2h.6M90.9,722.0h.6M81.6,698.4h.6M93.1,705.9h.6M90.5,718.4h.6M95.5,724.0h.6M83.2,726.2h.6M92.8,709.3h.6M70.5,694.4h.6M83.3,726.9h.6M81.1,723.1h.6M95.4,717.0h.6M85.4,700.9h.6M90.9,700.5h.6M83.0,727.5h.6M85.9,709.0h.6M93.7,701.7h.6M83.4,703.2h.6M86.2,726.0h.6M88.6,708.4h.6M78.0,686.6h.6M73.8,695.1h.6M86.7,680.9h.6M94.2,722.7h.6M58.0,687.1h.6M75.6,688.3h.6M63.5,730.5h.6M70.8,697.9h.6M70.5,726.0h.6M68.9,729.0h.6M74.8,690.7h.6M66.3,731.2h.6M74.2,726.6h.6M90.4,699.4h.6M68.4,691.2h.6M87.1,716.7h.6M86.2,711.6h.6M82.5,727.5h.6M47.2,670.2h.6M44.6,685.4h.6M61.5,674.9h.6M51.5,664.4h.6M40.0,673.5h.6M57.9,678.1h.6M49.3,658.6h.6M59.7,683.0h.6M49.6,668.9h.6M57.8,670.1h.6M52.9,679.0h.6M61.5,668.8h.6M51.6,668.1h.6M51.2,667.5h.6M56.7,663.8h.6M57.5,668.8h.6M68.5,675.7h.6M60.9,667.2h.6M65.9,672.4h.6M62.0,678.1h.6M54.3,682.2h.6M50.6,665.8h.6M54.3,681.0h.6M61.8,674.0h.6M62.2,677.4h.6M51.2,667.4h.6M45.8,677.4h.6M43.4,665.3h.6M48.5,677.2h.6M48.5,680.6h.6M60.5,679.7h.6M55.0,668.6h.6M57.3,674.6h.6M46.6,670.8h.6M43.2,674.7h.6M63.6,671.0h.6M51.7,667.1h.6M50.6,680.9h.6M54.3,681.1h.6M40.7,679.1h.6M60.3,674.2h.6M45.1,678.3h.6M53.9,665.7h.6M52.0,679.4h.6M49.5,681.9h.6M62.7,678.0h.6M48.3,682.4h.6M62.6,676.2h.6M42.0,671.4h.6M56.7,666.1h.6M52.1,665.7h.6M45.7,680.5h.6M62.3,684.1h.6M59.8,691.0h.6M56.0,683.3h.6M42.9,679.4h.6M51.9,686.3h.6M59.8,681.1h.6M61.7,682.4h.6M57.6,671.5h.6M41.7,669.2h.6M58.2,666.9h.6M48.1,678.9h.6M52.2,665.8h.6M56.7,687.6h.6M56.5,667.1h.6M55.7,670.1h.6M53.0,668.0h.6M43.1,673.5h.6M58.4,677.4h.6M50.5,681.3h.6M49.7,679.0h.6M45.6,668.7h.6M50.0,681.9h.6M45.9,672.5h.6M50.6,684.4h.6M37.3,675.6h.6M45.0,669.5h.6M46.5,666.9h.6M46.7,671.0h.6M51.1,666.9h.6M51.2,686.5h.6M49.3,682.3h.6M46.2,661.9h.6M44.9,672.8h.6M35.7,681.3h.6M39.0,677.3h.6M52.7,682.7h.6M51.0,679.4h.6M46.5,672.7h.6M42.7,670.7h.6M51.3,681.4h.6M53.2,680.5h.6M48.3,670.1h.6M62.9,662.5h.6M60.1,678.8h.6M49.5,686.6h.6M61.9,669.5h.6M39.8,679.9h.6M55.9,680.7h.6M48.9,679.5h.6M42.3,664.3h.6M57.3,670.6h.6M56.8,666.0h.6M61.6,678.1h.6M59.4,673.0h.6M43.8,675.7h.6M54.9,680.2h.6M61.8,674.1h.6M58.4,681.8h.6M48.4,670.5h.6M62.2,675.7h.6M54.3,669.0h.6M60.8,667.5h.6M59.6,674.6h.6M44.1,661.2h.6M55.3,668.1h.6M56.1,678.1h.6M56.2,670.4h.6M42.8,667.2h.6M43.5,674.9h.6M67.5,672.8h.6M47.2,673.3h.6M43.7,663.6h.6M45.4,684.6h.6M60.0,683.7h.6M53.0,683.0h.6M51.7,679.9h.6M47.0,670.5h.6M36.4,666.6h.6M62.4,674.1h.6M59.8,666.3h.6M57.9,674.2h.6M43.1,675.4h.6M56.6,668.6h.6M46.9,680.7h.6M47.8,667.6h.6M58.7,676.5h.6M57.6,673.3h.6M46.2,673.5h.6M54.5,666.7h.6M47.3,670.9h.6M45.7,662.5h.6M33.3,682.7h.6M48.5,668.0h.6M41.8,671.2h.6M54.8,669.6h.6M48.4,677.6h.6M61.4,663.7h.6M48.4,662.8h.6M57.6,687.3h.6M56.3,670.6h.6M57.1,684.5h.6M65.7,660.6h.6M44.1,675.7h.6M58.1,674.7h.6M45.9,672.8h.6M47.9,671.4h.6M44.7,670.9h.6M47.6,665.0h.6M45.2,674.6h.6M60.8,678.7h.6M41.6,676.9h.6M50.7,666.5h.6M59.7,674.5h.6M66.6,673.1h.6M50.1,685.8h.6M62.2,670.0h.6M46.9,670.1h.6M54.8,682.9h.6M63.7,677.1h.6M49.8,681.6h.6M61.5,685.5h.6M60.4,665.9h.6M59.6,674.5h.6M58.8,676.2h.6M47.4,674.7h.6M50.7,663.5h.6M53.6,658.7h.6M47.7,679.7h.6M55.1,682.4h.6M58.2,677.0h.6M59.4,671.1h.6M56.6,679.6h.6M53.2,680.1h.6M46.0,667.2h.6M55.8,670.0h.6M42.2,667.8h.6M60.5,672.9h.6M63.5,668.6h.6M45.4,670.1h.6M48.5,687.6h.6M47.4,661.7h.6M57.6,673.6h.6M63.5,683.4h.6M67.4,673.8h.6M43.1,676.2h.6M57.0,675.8h.6M48.9,681.5h.6M67.5,681.1h.6M52.6,667.5h.6M43.2,678.0h.6M45.4,671.5h.6M48.0,685.9h.6M48.9,667.5h.6M60.4,679.8h.6M59.2,666.4h.6M49.1,667.0h.6M56.0,666.5h.6M45.2,676.6h.6M50.3,666.7h.6M50.6,679.4h.6M44.4,669.5h.6M54.8,665.0h.6M57.4,663.6h.6M57.0,681.2h.6M58.9,676.5h.6M58.3,676.9h.6M48.9,668.0h.6M48.3,681.2h.6M44.1,666.5h.6M52.4,680.7h.6M46.8,659.7h.6M60.5,670.9h.6M45.8,672.6h.6M59.6,679.7h.6M47.9,678.2h.6M43.0,664.1h.6M43.4,670.5h.6M44.8,677.2h.6M56.7,664.8h.6M57.5,672.9h.6M51.8,683.0h.6M47.6,666.5h.6M41.2,678.2h.6M54.3,681.8h.6M49.8,667.8h.6M63.4,677.2h.6M60.3,673.7h.6M57.3,669.0h.6M36.4,683.1h.6M60.5,671.2h.6M50.5,682.8h.6M43.1,669.9h.6M52.5,661.1h.6M61.1,671.9h.6M58.2,679.3h.6M59.3,672.9h.6M54.8,680.6h.6M50.5,659.5h.6M46.1,681.2h.6M64.9,671.4h.6M47.7,683.0h.6M43.7,685.3h.6M53.3,668.4h.6M63.4,672.3h.6M58.8,664.2h.6M65.1,677.1h.6M54.8,679.3h.6M37.9,663.0h.6M41.6,671.3h.6M38.5,664.6h.6M65.3,668.5h.6M40.9,684.8h.6M59.6,673.2h.6M43.8,667.8h.6M53.9,669.1h.6M53.1,683.1h.6M60.3,672.1h.6M47.1,674.9h.6M51.3,685.0h.6M37.3,661.3h.6M67.1,672.6h.6M44.8,671.0h.6M61.6,674.7h.6M61.3,664.6h.6M61.0,677.1h.6M65.9,672.5h.6M52.4,659.9h.6M57.3,675.7h.6M34.6,675.7h.6M59.8,676.4h.6M48.1,680.9h.6M56.4,682.6h.6M42.2,679.2h.6M60.5,682.9h.6M57.4,669.4h.6M48.7,679.0h.6M57.2,684.8h.6M50.7,665.7h.6M54.7,678.5h.6M44.9,677.5h.6M43.9,675.3h.6M64.5,676.6h.6M44.4,677.4h.6M52.3,681.9h.6M42.1,681.6h.6M58.1,675.4h.6M55.1,668.6h.6M60.7,665.2h.6M53.4,659.7h.6M52.4,684.2h.6M46.9,682.0h.6M59.8,672.8h.6M60.2,664.9h.6M47.4,681.9h.6M56.3,666.3h.6M54.5,680.3h.6M56.3,670.0h.6M50.7,664.6h.6M56.5,682.4h.6M56.3,667.2h.6M45.3,666.7h.6M56.6,666.5h.6M61.7,665.0h.6M55.2,680.8h.6M48.9,665.8h.6M52.1,664.2h.6M60.4,673.5h.6M48.5,678.3h.6M50.2,669.0h.6M56.1,678.8h.6M57.4,661.7h.6M42.7,671.8h.6M49.1,662.7h.6M68.7,667.8h.6M53.3,681.4h.6M45.8,672.7h.6M69.2,674.3h.6M56.8,681.3h.6M54.8,664.5h.6M47.5,664.6h.6M46.5,672.9h.6M53.1,663.7h.6M48.6,660.9h.6M54.1,680.4h.6M48.6,664.0h.6M61.8,680.1h.6M46.7,677.4h.6M54.2,666.0h.6M41.0,671.4h.6M38.6,684.3h.6M48.7,685.9h.6M61.6,672.5h.6M44.0,667.6h.6M41.9,675.1h.6M58.3,667.3h.6M57.3,668.7h.6M57.7,682.4h.6M44.9,669.7h.6M41.2,681.1h.6M52.8,686.6h.6M46.5,680.2h.6M57.0,669.4h.6M47.1,676.1h.6M63.2,663.6h.6M49.1,670.1h.6M66.4,670.8h.6M47.4,672.6h.6M62.8,668.0h.6M51.8,667.8h.6M45.9,674.4h.6M44.5,671.3h.6M36.6,658.8h.6M42.9,673.2h.6M49.4,680.6h.6M46.5,673.3h.6M55.2,679.4h.6M61.7,673.6h.6M45.0,671.6h.6M47.3,663.5h.6M57.6,671.1h.6M43.8,683.5h.6M47.4,674.4h.6M57.5,669.9h.6M53.0,664.1h.6M58.2,680.9h.6M40.0,666.9h.6M58.7,674.6h.6M46.3,669.8h.6M47.9,680.6h.6M49.2,664.5h.6M50.4,686.5h.6M44.6,673.3h.6M53.3,683.0h.6M58.4,679.8h.6M47.8,668.3h.6M47.5,680.7h.6M53.0,683.0h.6M41.5,668.3h.6M46.4,685.5h.6M47.9,686.7h.6M47.5,684.3h.6M55.7,685.5h.6M51.5,667.6h.6M46.8,675.5h.6M40.6,682.7h.6M55.8,666.8h.6M56.1,660.1h.6M50.0,669.4h.6M44.5,682.8h.6M53.1,664.9h.6M50.5,666.1h.6M48.9,663.5h.6M48.7,679.9h.6M53.1,665.1h.6M60.5,671.7h.6M45.5,676.6h.6M61.9,683.6h.6M54.7,681.6h.6M53.9,680.9h.6M54.1,679.3h.6M57.9,678.2h.6M59.1,669.3h.6M59.6,672.4h.6M44.0,664.0h.6M50.8,680.2h.6M49.2,684.3h.6M58.2,670.5h.6M59.4,681.3h.6M40.1,674.3h.6M58.7,675.4h.6M56.6,678.1h.6M46.7,682.3h.6M58.0,672.4h.6M56.5,682.8h.6M57.6,680.1h.6M48.9,686.5h.6M47.4,675.8h.6M48.0,678.0h.6M56.3,680.1h.6M54.4,683.2h.6M46.3,666.6h.6M53.5,680.8h.6M40.9,684.9h.6M58.0,682.2h.6M51.6,662.7h.6M52.1,680.3h.6M45.2,671.4h.6M48.5,681.7h.6M41.8,677.4h.6M57.4,677.9h.6M54.0,679.0h.6M60.3,664.4h.6M58.5,679.4h.6M45.0,673.6h.6M49.0,679.5h.6M54.2,668.8h.6M62.1,675.8h.6M54.5,678.9h.6M57.8,665.9h.6M51.7,667.1h.6M58.9,687.4h.6M60.1,679.6h.6M40.3,670.5h.6M46.1,674.2h.6M63.6,677.2h.6M52.9,668.1h.6M46.6,682.9h.6M48.6,669.0h.6M57.3,665.6h.6M49.8,680.1h.6M41.0,670.6h.6M56.4,666.7h.6M48.7,683.6h.6M47.5,684.8h.6M53.7,665.1h.6M59.2,676.4h.6M51.5,683.9h.6M48.6,683.7h.6M42.8,668.0h.6M55.3,668.5h.6M47.9,668.2h.6M52.5,666.4h.6M63.2,677.4h.6M56.7,671.0h.6M46.5,673.7h.6M49.1,682.3h.6M57.0,662.1h.6M55.0,669.2h.6M45.1,667.3h.6M60.9,669.1h.6M47.0,664.1h.6M61.0,660.0h.6M46.2,663.3h.6M56.8,664.6h.6M51.1,666.7h.6M59.7,691.4h.6M63.5,672.8h.6M60.4,667.9h.6M46.8,682.1h.6M49.5,682.4h.6M48.1,669.0h.6M62.2,666.5h.6M53.8,683.5h.6M63.3,670.9h.6M46.2,670.8h.6M58.9,672.6h.6M63.4,670.4h.6M57.4,687.2h.6M55.4,684.7h.6M50.0,681.2h.6M64.9,674.1h.6M44.7,685.7h.6M53.5,656.0h.6M48.5,681.0h.6M47.4,665.4h.6M47.7,661.9h.6M47.7,667.8h.6M63.3,672.6h.6M44.4,672.9h.6M47.2,675.1h.6M48.1,680.2h.6M58.0,675.5h.6M51.8,667.2h.6M66.4,669.6h.6M50.5,684.3h.6M50.6,666.4h.6M42.2,670.3h.6M47.9,678.8h.6M46.9,676.7h.6M56.4,680.7h.6M46.6,671.5h.6M64.3,667.6h.6M58.6,676.6h.6M45.4,668.3h.6M54.1,663.8h.6M57.7,677.6h.6M54.6,681.9h.6M59.7,679.1h.6M54.5,688.8h.6M44.9,678.4h.6M56.2,669.5h.6M44.6,680.3h.6M51.8,664.1h.6M59.5,672.6h.6M56.9,679.8h.6M61.2,679.5h.6M57.6,672.8h.6M58.0,674.0h.6M52.4,690.1h.6M59.8,674.6h.6M46.7,672.7h.6M59.2,677.8h.6M45.6,672.6h.6M51.5,680.8h.6M51.0,666.5h.6M42.0,671.7h.6M51.3,668.1h.6M52.3,679.2h.6M59.5,677.2h.6M41.8,668.3h.6M48.0,669.4h.6M55.8,683.6h.6M42.6,676.9h.6M61.0,679.3h.6M45.2,680.2h.6M59.3,678.3h.6M51.4,665.7h.6M49.0,665.6h.6M53.4,681.4h.6M44.5,682.4h.6M45.2,658.9h.6M62.5,676.7h.6M60.6,674.8h.6M64.3,678.4h.6M57.4,685.6h.6M57.4,677.8h.6M48.4,682.6h.6M50.2,665.2h.6M43.1,681.7h.6M42.3,682.4h.6M57.2,680.7h.6M37.7,678.8h.6M57.1,671.3h.6M54.8,682.9h.6M58.7,672.4h.6M42.1,677.0h.6M52.5,668.9h.6M50.6,666.9h.6M55.3,684.6h.6M54.1,668.2h.6M46.1,690.2h.6M60.7,662.7h.6M68.8,678.4h.6M58.6,669.9h.6M54.9,667.4h.6M49.8,678.8h.6M59.9,672.2h.6M50.4,679.8h.6M51.1,667.4h.6M55.8,666.9h.6M61.3,674.2h.6M46.2,683.0h.6M45.2,670.8h.6M61.0,669.7h.6M61.9,671.4h.6M46.6,659.5h.6M42.7,678.1h.6M48.1,664.7h.6M42.0,683.8h.6M54.4,679.6h.6M45.7,672.1h.6M42.5,664.9h.6M49.2,665.0h.6M39.3,670.7h.6M58.5,676.7h.6M39.7,669.7h.6M44.9,671.1h.6M54.7,669.6h.6M51.3,668.5h.6M49.9,665.4h.6M58.8,672.2h.6M44.7,670.6h.6M58.4,671.4h.6M46.3,669.9h.6M52.3,666.2h.6M47.1,669.1h.6M48.3,668.9h.6M62.8,667.5h.6M43.1,666.5h.6M55.2,667.0h.6M52.4,680.5h.6M63.5,666.2h.6M56.6,668.8h.6M54.7,665.1h.6M62.9,665.4h.6M36.9,673.8h.6M37.0,661.5h.6M41.4,669.1h.6M34.2,675.9h.6M37.3,671.1h.6M37.3,664.8h.6M40.6,672.1h.6M37.9,670.4h.6M37.6,670.0h.6M44.2,674.9h.6M44.0,677.0h.6M47.3,667.3h.6M41.5,677.1h.6M28.6,674.0h.6M42.7,673.5h.6M38.6,658.9h.6M44.8,668.6h.6M35.2,668.3h.6M45.6,677.1h.6M31.8,668.9h.6M45.0,673.2h.6M43.4,669.5h.6M41.0,662.8h.6M45.9,665.2h.6M40.0,670.3h.6M46.9,672.0h.6M36.5,665.5h.6M33.5,672.5h.6M47.8,668.4h.6M42.0,661.7h.6M44.6,669.2h.6M44.3,659.4h.6M32.7,670.1h.6M39.8,680.9h.6M43.3,660.6h.6M37.9,673.3h.6M42.0,673.4h.6M39.4,669.4h.6M34.9,649.0h.6M30.8,667.9h.6M38.6,672.7h.6M43.5,674.3h.6M38.0,658.2h.6M29.7,663.4h.6M30.9,665.9h.6M37.9,672.8h.6M36.2,684.2h.6M36.1,676.8h.6M32.9,669.2h.6M32.2,675.5h.6M34.7,673.7h.6M39.7,661.3h.6M38.3,674.5h.6M43.7,673.6h.6M38.6,683.2h.6M29.7,661.2h.6M34.7,678.2h.6M41.7,665.7h.6M39.2,680.8h.6M47.6,669.1h.6M33.1,670.1h.6M30.9,666.6h.6M39.7,663.5h.6M34.0,667.7h.6M38.6,684.9h.6M36.0,680.7h.6M44.1,662.3h.6M31.8,670.7h.6M44.5,676.5h.6M33.7,666.1h.6M41.5,663.4h.6M35.5,664.1h.6M36.0,654.0h.6M38.1,677.2h.6M47.3,674.3h.6M27.7,672.2h.6M36.1,670.4h.6M39.7,660.5h.6M40.9,672.3h.6M36.4,685.6h.6M42.7,665.8h.6M29.1,672.7h.6M42.7,666.0h.6M42.4,678.0h.6M39.1,678.3h.6M38.6,671.9h.6M41.5,683.6h.6M41.4,668.0h.6M44.0,680.6h.6M35.4,668.5h.6M43.7,681.1h.6M45.2,667.0h.6M39.6,667.5h.6M44.3,665.2h.6M33.0,667.7h.6M48.4,659.7h.6M43.6,675.1h.6M32.0,667.7h.6M30.3,665.4h.6M37.7,674.4h.6M41.1,665.8h.6M46.5,667.9h.6M41.8,656.3h.6M47.6,668.5h.6M37.6,661.3h.6M37.8,672.5h.6M41.7,671.5h.6M43.8,666.0h.6M37.9,674.5h.6M43.7,667.4h.6M30.0,665.0h.6M45.9,668.7h.6M42.0,669.0h.6M38.1,671.9h.6M35.6,665.3h.6M87.8,676.4h.6M68.8,646.4h.6M82.3,729.5h.6M103.0,681.9h.6M91.3,646.5h.6M46.6,679.5h.6M108.3,656.0h.6M87.8,643.8h.6M109.6,719.7h.6M59.9,655.3h.6M44.4,664.3h.6M54.2,639.4h.6M56.1,667.2h.6M86.8,702.7h.6M37.7,646.4h.6M40.2,687.6h.6M76.5,655.3h.6M57.3,683.2h.6M114.4,689.7h.6M35.1,679.0h.6M43.3,729.6h.6M62.4,652.2h.6M92.9,685.2h.6M30.7,712.7h.6M95.5,700.6h.6M118.5,675.8h.6M93.9,665.7h.6M91.3,711.6h.6M30.8,674.0h.6M111.3,695.7h.6M110.8,661.6h.6M111.5,666.9h.6M76.8,660.2h.6M97.5,709.6h.6M81.4,668.7h.6M84.2,648.0h.6M111.2,660.8h.6M99.5,641.0h.6M101.0,665.8h.6M67.8,639.5h.6M109.2,665.3h.6M69.2,665.2h.6M103.4,714.2h.6M59.5,667.6h.6M89.9,714.0h.6M87.1,680.1h.6M103.7,721.7h.6M97.3,701.9h.6M96.3,704.2h.6M53.8,662.8h.6M36.6,686.8h.6M113.2,707.6h.6M58.3,688.5h.6M103.3,712.9h.6M58.7,641.4h.6M108.8,654.0h.6M66.0,678.2h.6M31.4,667.8h.6M94.0,653.8h.6M112.7,647.9h.6M111.3,691.2h.6M47.1,671.8h.6M69.7,673.1h.6M64.9,647.3h.6M109.0,723.5h.6M28.3,665.7h.6M96.0,678.1h.6M28.1,687.7h.6M59.6,639.3h.6M57.1,676.0h.6M47.0,651.1h.6M83.6,726.0h.6M68.4,681.2h.6M45.5,656.1h.6M81.8,685.2h.6M111.1,676.3h.6M48.3,651.5h.6M92.0,718.6h.6M47.3,688.3h.6M34.3,662.2h.6M71.3,643.0h.6M92.5,655.3h.6M59.6,662.2h.6M73.3,643.3h.6M105.3,729.5h.6M89.2,721.6h.6M28.5,682.8h.6M29.2,658.5h.6M93.6,697.1h.6M41.3,723.7h.6M107.5,670.0h.6M31.4,701.6h.6M50.5,683.4h.6M118.9,704.1h.6" stroke="#6a6a6a" stroke-width="0.6" fill="none"/>
<path d="M50.3,669.5 51.2,669.2 52.2,669.0 53.2,669.1 54.2,669.4 54.7,669.6 55.3,670.0 55.9,670.5 56.3,671.0 56.7,671.5 57.1,672.5 57.3,673.0 57.4,674.0 57.3,675.0 57.1,675.5 56.7,676.5 56.4,677.0 55.9,677.5 55.4,678.0 54.7,678.4 54.2,678.7 53.2,679.0 52.7,679.0 52.0,679.0 51.2,678.9 50.2,678.5 49.7,678.2 49.2,677.8 48.7,677.3 48.2,676.7 47.8,676.0 47.7,675.5 47.5,674.5 47.5,673.5 47.7,672.5 47.9,672.0 48.2,671.4 48.7,670.7 49.2,670.2 49.7,669.8 50.3,669.5ZM46.6,690.5 47.2,690.4 48.2,690.2 49.2,690.1 50.2,690.1 51.2,690.1 52.2,690.2 53.2,690.3 54.2,690.5 54.7,690.6 55.7,690.9 56.2,691.0 57.2,691.4 57.7,691.6 58.4,692.0 59.2,692.4 59.7,692.7 60.2,693.1 60.8,693.5 61.4,694.0 62.0,694.5 62.5,695.0 63.0,695.5 63.5,696.0 63.9,696.5 64.3,697.0 64.7,697.5 65.2,698.2 65.7,698.9 66.2,699.5 66.6,700.0 67.2,700.5 67.7,700.7 68.6,700.5 69.2,700.1 69.7,699.6 70.2,699.0 70.7,698.5 71.1,698.0 71.6,697.5 72.1,697.0 72.7,696.5 73.2,696.1 73.7,695.8 74.4,695.5 75.2,695.3 76.2,695.2 77.2,695.4 77.7,695.6 78.4,696.0 79.0,696.5 79.5,697.0 80.0,697.5 80.3,698.0 80.7,698.5 81.2,699.4 81.5,700.0 81.7,700.5 82.1,701.5 82.3,702.0 82.6,703.0 82.7,703.5 83.0,704.5 83.2,705.5 83.3,706.0 83.4,707.0 83.6,708.0 83.7,709.0 83.7,709.5 83.8,710.5 83.8,711.5 83.8,712.5 83.8,713.5 83.8,714.5 83.7,715.3 83.6,716.0 83.5,717.0 83.3,718.0 83.1,718.5 82.9,719.5 82.7,720.0 82.3,721.0 82.0,721.5 81.7,722.1 81.2,722.9 80.7,723.5 80.3,724.0 79.8,724.5 79.2,725.0 78.7,725.4 78.2,725.7 77.5,726.0 76.7,726.3 75.7,726.5 75.2,726.5 74.5,726.5 73.7,726.4 72.7,726.2 71.9,726.0 71.2,725.8 70.3,725.5 69.7,725.4 68.7,725.3 68.0,725.5 67.2,725.9 66.7,726.3 66.2,726.8 65.7,727.3 65.2,727.7 64.7,728.2 64.2,728.7 63.7,729.1 63.2,729.5 62.4,730.0 61.7,730.4 61.2,730.6 60.2,730.9 59.7,731.0 58.7,731.2 57.7,731.2 56.7,731.0 56.2,730.9 55.2,730.6 54.7,730.4 53.9,730.0 53.2,729.6 52.7,729.3 52.2,728.9 51.6,728.5 50.9,728.0 50.2,727.5 49.7,727.2 49.2,726.9 48.5,726.5 47.7,726.1 47.2,725.9 46.3,725.5 45.7,725.3 44.9,725.0 44.2,724.8 43.4,724.5 42.7,724.2 42.1,724.0 41.2,723.6 40.7,723.4 39.9,723.0 39.2,722.6 38.7,722.3 38.2,722.0 37.5,721.5 36.9,721.0 36.3,720.5 35.8,720.0 35.3,719.5 34.9,719.0 34.5,718.5 34.1,718.0 33.7,717.4 33.2,716.6 32.8,716.0 32.6,715.5 32.2,714.6 32.0,714.0 31.7,713.2 31.5,712.5 31.3,711.5 31.2,711.0 31.1,710.0 31.0,709.0 31.0,708.0 31.0,707.0 31.1,706.0 31.2,705.5 31.4,704.5 31.7,703.5 31.8,703.0 32.2,702.1 32.4,701.5 32.7,700.9 33.2,700.0 33.5,699.5 33.8,699.0 34.2,698.4 34.7,697.7 35.2,697.1 35.7,696.5 36.2,696.0 36.7,695.5 37.2,695.1 37.7,694.7 38.2,694.3 38.7,693.9 39.3,693.5 40.1,693.0 40.7,692.7 41.2,692.4 42.0,692.0 42.7,691.7 43.2,691.5 44.2,691.1 44.7,691.0 45.7,690.7 46.6,690.5ZM47.1,694.0 47.7,693.9 48.7,693.7 49.7,693.6 50.7,693.6 51.7,693.6 52.7,693.7 53.7,693.9 54.2,694.0 55.2,694.3 55.8,694.5 56.7,694.9 57.2,695.2 57.8,695.5 58.5,696.0 59.2,696.5 59.7,696.9 60.2,697.4 60.7,697.9 61.2,698.5 61.6,699.0 62.0,699.5 62.3,700.0 62.7,700.7 63.1,701.5 63.3,702.0 63.7,702.9 63.9,703.5 64.2,704.5 64.3,705.0 64.6,706.0 64.7,706.7 64.8,707.5 65.0,708.5 65.0,709.5 65.1,710.5 65.2,711.5 65.2,712.5 65.2,713.0 65.3,714.0 65.3,715.0 65.3,716.0 65.3,717.0 65.2,717.6 65.1,718.5 64.9,719.5 64.7,720.5 64.6,721.0 64.2,722.0 64.0,722.5 63.7,723.2 63.2,724.0 62.9,724.5 62.5,725.0 62.1,725.5 61.5,726.0 60.8,726.5 60.2,726.8 59.7,727.0 58.7,727.2 57.7,727.2 56.7,727.1 56.2,726.9 55.2,726.5 54.7,726.2 54.2,725.9 53.6,725.5 52.9,725.0 52.2,724.5 51.7,724.2 51.2,723.8 50.7,723.5 49.9,723.0 49.2,722.7 48.7,722.4 47.7,722.0 47.2,721.8 46.4,721.5 45.7,721.2 45.1,721.0 44.2,720.7 43.7,720.4 42.8,720.0 42.2,719.7 41.7,719.4 41.1,719.0 40.4,718.5 39.8,718.0 39.2,717.5 38.7,717.0 38.2,716.5 37.8,716.0 37.5,715.5 37.1,715.0 36.7,714.2 36.3,713.5 36.1,713.0 35.8,712.0 35.6,711.5 35.4,710.5 35.3,709.5 35.2,708.7 35.2,708.0 35.2,707.5 35.3,706.5 35.5,705.5 35.7,704.6 35.9,704.0 36.2,703.1 36.5,702.5 36.7,702.0 37.2,701.1 37.6,700.5 38.0,700.0 38.3,699.5 38.8,699.0 39.2,698.5 39.7,698.0 40.3,697.5 40.9,697.0 41.6,696.5 42.2,696.1 42.7,695.8 43.2,695.5 44.2,695.0 44.7,694.8 45.4,694.5 46.2,694.2 47.1,694.0ZM74.5,700.0 75.2,699.7 76.2,699.7 77.2,700.0 77.7,700.3 78.2,700.7 78.7,701.2 79.2,701.9 79.6,702.5 79.8,703.0 80.2,703.9 80.4,704.5 80.7,705.5 80.8,706.0 81.0,707.0 81.2,708.0 81.2,708.5 81.3,709.5 81.4,710.5 81.4,711.5 81.4,712.5 81.3,713.5 81.2,714.4 81.1,715.0 80.9,716.0 80.7,716.7 80.4,717.5 80.2,718.1 79.8,719.0 79.5,719.5 79.1,720.0 78.7,720.5 78.2,721.0 77.5,721.5 76.7,721.9 76.2,722.1 75.2,722.2 74.2,722.1 73.7,722.0 72.7,721.5 72.2,721.2 71.7,720.8 71.2,720.3 70.7,719.7 70.2,719.1 69.8,718.5 69.6,718.0 69.2,717.0 69.0,716.5 68.8,715.5 68.7,714.5 68.7,713.5 68.8,712.5 68.9,711.5 69.1,710.5 69.2,710.0 69.5,709.0 69.7,708.1 69.9,707.5 70.2,706.6 70.4,706.0 70.7,705.2 71.0,704.5 71.2,704.0 71.7,703.1 72.1,702.5 72.4,702.0 72.8,701.5 73.2,701.0 73.8,700.5 74.5,700.0ZM48.3,696.0 49.2,695.8 50.2,695.8 51.2,695.7 52.2,695.8 53.2,696.0 53.7,696.1 54.7,696.4 55.2,696.6 56.1,697.0 56.7,697.3 57.2,697.7 57.7,698.0 58.3,698.5 58.8,699.0 59.3,699.5 59.7,700.0 60.2,700.7 60.7,701.5 61.0,702.0 61.2,702.5 61.6,703.5 61.8,704.0 62.1,705.0 62.2,705.6 62.4,706.5 62.5,707.5 62.5,708.5 62.5,709.5 62.5,710.5 62.4,711.5 62.4,712.5 62.3,713.5 62.2,714.5 62.2,715.2 62.2,716.0 62.1,717.0 62.0,718.0 61.9,719.0 61.7,720.0 61.6,720.5 61.2,721.5 60.9,722.0 60.6,722.5 60.2,723.0 59.5,723.5 58.7,723.9 57.8,724.0 57.6,724.0 56.7,723.9 55.7,723.5 55.2,723.2 54.7,723.0 54.0,722.5 53.2,722.0 52.7,721.7 52.2,721.4 51.5,721.0 50.7,720.6 50.2,720.4 49.2,720.0 48.7,719.8 47.9,719.5 47.2,719.2 46.5,719.0 45.7,718.7 45.2,718.4 44.3,718.0 43.7,717.7 43.2,717.4 42.6,717.0 42.0,716.5 41.4,716.0 40.9,715.5 40.4,715.0 40.0,714.5 39.7,714.0 39.2,713.2 38.8,712.5 38.6,712.0 38.3,711.0 38.1,710.5 38.0,709.5 37.9,708.5 37.9,707.5 38.0,706.5 38.2,705.5 38.3,705.0 38.6,704.0 38.8,703.5 39.2,702.7 39.6,702.0 39.9,701.5 40.3,701.0 40.7,700.5 41.2,700.0 41.7,699.5 42.2,699.0 42.8,698.5 43.5,698.0 44.2,697.6 44.7,697.3 45.3,697.0 46.2,696.6 46.7,696.4 47.7,696.1 48.3,696.0ZM74.6,703.5 75.2,703.2 76.2,703.1 77.2,703.5 77.7,704.0 78.1,704.5 78.4,705.0 78.7,705.7 79.0,706.5 79.2,707.2 79.4,708.0 79.5,709.0 79.6,710.0 79.6,711.0 79.6,712.0 79.5,713.0 79.3,714.0 79.2,714.6 78.9,715.5 78.7,716.0 78.2,717.0 77.8,717.5 77.3,718.0 76.7,718.5 76.2,718.7 75.2,718.8 74.2,718.6 73.7,718.3 73.2,717.8 72.7,717.2 72.3,716.5 72.1,716.0 71.8,715.0 71.7,714.5 71.6,713.5 71.5,712.5 71.5,711.5 71.6,710.5 71.7,709.9 71.9,709.0 72.1,708.0 72.2,707.5 72.6,706.5 72.8,706.0 73.2,705.2 73.6,704.5 74.0,704.0 74.6,703.5ZM47.7,698.0 48.2,697.8 49.2,697.6 50.2,697.5 51.2,697.5 52.2,697.6 53.2,697.8 54.0,698.0 54.7,698.3 55.2,698.5 56.1,699.0 56.7,699.4 57.2,699.8 57.7,700.3 58.2,700.9 58.7,701.5 59.0,702.0 59.3,702.5 59.7,703.2 60.0,704.0 60.2,704.5 60.5,705.5 60.6,706.5 60.7,707.2 60.8,708.0 60.8,709.0 60.7,709.9 60.7,710.5 60.5,711.5 60.4,712.5 60.2,713.5 60.1,714.0 60.0,715.0 59.8,716.0 59.7,716.5 59.4,717.5 59.2,718.1 58.7,719.0 58.3,719.5 57.7,720.0 57.2,720.2 56.2,720.2 55.4,720.0 54.7,719.8 53.9,719.5 53.2,719.2 52.5,719.0 51.7,718.7 51.1,718.5 50.2,718.2 49.5,718.0 48.7,717.7 48.0,717.5 47.2,717.2 46.7,717.0 45.7,716.5 45.2,716.3 44.7,716.0 44.0,715.5 43.4,715.0 42.8,714.5 42.3,714.0 41.9,713.5 41.5,713.0 41.2,712.5 40.7,711.5 40.5,711.0 40.2,710.0 40.1,709.5 40.0,708.5 40.0,707.5 40.1,706.5 40.2,705.9 40.4,705.0 40.7,704.3 41.1,703.5 41.3,703.0 41.7,702.4 42.2,701.7 42.7,701.2 43.2,700.6 43.7,700.2 44.2,699.8 44.7,699.4 45.4,699.0 46.2,698.6 46.7,698.3 47.7,698.0ZM75.7,707.0 75.8,707.0 76.7,707.4 77.1,708.0 77.3,708.5 77.6,709.5 77.7,710.5 77.6,711.5 77.5,712.5 77.2,713.4 76.9,714.0 76.4,714.5 75.7,714.9 74.7,714.5 74.3,714.0 74.1,713.5 73.8,712.5 73.8,711.5 73.8,710.5 74.0,709.5 74.2,708.7 74.5,708.0 74.9,707.5 75.7,707.0ZM48.2,699.5 49.2,699.3 50.2,699.1 51.2,699.1 52.2,699.2 53.2,699.4 53.7,699.6 54.7,700.0 55.2,700.3 55.7,700.6 56.2,701.0 56.7,701.5 57.2,702.1 57.7,702.7 58.1,703.5 58.4,704.0 58.7,704.8 58.9,705.5 59.1,706.5 59.2,707.5 59.2,708.0 59.2,708.7 59.1,709.5 59.0,710.5 58.8,711.5 58.7,712.0 58.4,713.0 58.2,713.5 57.8,714.5 57.5,715.0 57.2,715.5 56.7,716.0 56.0,716.5 55.2,716.8 54.2,716.9 53.2,716.9 52.2,716.8 51.2,716.6 50.7,716.5 49.7,716.2 48.9,716.0 48.2,715.8 47.5,715.5 46.7,715.1 46.2,714.8 45.6,714.5 44.9,714.0 44.4,713.5 43.9,713.0 43.5,712.5 43.1,712.0 42.7,711.3 42.3,710.5 42.2,710.0 41.9,709.0 41.8,708.0 41.9,707.0 42.0,706.0 42.2,705.4 42.6,704.5 42.8,704.0 43.2,703.3 43.7,702.6 44.2,702.0 44.7,701.5 45.2,701.1 45.7,700.7 46.2,700.4 47.0,700.0 47.7,699.7 48.2,699.5ZM48.6,701.0 49.2,700.8 50.2,700.7 51.2,700.6 52.2,700.8 53.1,701.0 53.7,701.2 54.2,701.5 55.0,702.0 55.6,702.5 56.0,703.0 56.4,703.5 56.7,704.0 57.2,705.0 57.4,705.5 57.6,706.5 57.7,707.5 57.7,708.0 57.7,708.5 57.6,709.5 57.4,710.5 57.2,711.0 56.8,712.0 56.5,712.5 56.2,713.0 55.7,713.5 55.2,714.0 54.2,714.5 53.7,714.6 52.7,714.8 51.7,714.8 50.7,714.7 49.7,714.5 49.2,714.4 48.2,714.0 47.7,713.8 47.2,713.5 46.4,713.0 45.8,712.5 45.3,712.0 44.9,711.5 44.5,711.0 44.2,710.3 43.9,709.5 43.7,708.7 43.6,708.0 43.6,707.0 43.7,706.5 44.0,705.5 44.2,705.0 44.7,704.1 45.1,703.5 45.5,703.0 46.0,702.5 46.7,702.0 47.2,701.7 47.7,701.4 48.6,701.0ZM49.4,702.5 50.2,702.3 51.2,702.3 52.2,702.4 52.7,702.6 53.6,703.0 54.2,703.5 54.7,703.9 55.1,704.5 55.4,705.0 55.7,705.6 56.0,706.5 56.1,707.5 56.1,708.5 55.9,709.5 55.7,710.0 55.2,710.9 54.8,711.5 54.3,712.0 53.7,712.4 53.2,712.6 52.2,712.9 51.2,712.9 50.2,712.8 49.2,712.5 48.7,712.3 48.1,712.0 47.4,711.5 46.8,711.0 46.4,710.5 46.1,710.0 45.7,709.2 45.5,708.5 45.4,707.5 45.6,706.5 45.7,706.0 46.2,705.0 46.5,704.5 46.9,704.0 47.5,703.5 48.2,703.0 48.7,702.7 49.4,702.5ZM49.8,704.5 50.7,704.3 51.7,704.4 52.2,704.6 52.9,705.0 53.4,705.5 53.7,706.0 54.0,707.0 54.1,708.0 53.8,709.0 53.5,709.5 53.0,710.0 52.2,710.5 51.7,710.7 50.7,710.7 49.8,710.5 49.2,710.2 48.7,709.8 48.2,709.2 47.8,708.5 47.7,708.0 47.7,707.0 47.8,706.5 48.2,705.8 48.7,705.2 49.2,704.8 49.8,704.5Z" stroke="#1a1a1a" stroke-width="0.85" fill="none" stroke-linejoin="round"/>
<rect x="26.20" y="637.50" width="95.60" height="94.50" fill="none" stroke="#3a3a3a" stroke-width="0.9" />
<line x1="24.70" y1="661.12" x2="26.20" y2="661.12" stroke="#555" stroke-width="0.6" />
<line x1="50.10" y1="732.00" x2="50.10" y2="733.50" stroke="#555" stroke-width="0.6" />
<line x1="24.70" y1="684.75" x2="26.20" y2="684.75" stroke="#555" stroke-width="0.6" />
<line x1="74.00" y1="732.00" x2="74.00" y2="733.50" stroke="#555" stroke-width="0.6" />
<line x1="24.70" y1="708.38" x2="26.20" y2="708.38" stroke="#555" stroke-width="0.6" />
<line x1="97.90" y1="732.00" x2="97.90" y2="733.50" stroke="#555" stroke-width="0.6" />
<rect x="28.20" y="654.20" width="37.60" height="31.20" fill="none" stroke="#111" stroke-width="1.2" />
<rect x="71.00" y="657.50" width="28.90" height="24.20" fill="none" stroke="#111" stroke-width="1.1" />
<text x="73" y="632.7" font-size="10.1" text-anchor="middle" font-weight="bold"><tspan font-style="italic">Runx3</tspan> WT</text>
<text x="48.0" y="650.0" font-size="10.3" text-anchor="middle" font-weight="normal" stroke="#000" stroke-width="0.4" style="">4.60</text>
<text x="88.6" y="652.3" font-size="10.3" text-anchor="middle" font-weight="normal" stroke="#000" stroke-width="0.4" style="">0.06</text>
<line x1="17.80" y1="740.50" x2="17.80" y2="673.50" stroke="#000" stroke-width="1.4" />
<path d="M17.8,669.5 l-3,6 h6Z" fill="#000"/>
<line x1="17.30" y1="740.00" x2="84.70" y2="740.00" stroke="#000" stroke-width="1.4" />
<path d="M88.7,740 l-6,-3 v6Z" fill="#000"/>
<text transform="translate(14.5,709.0) rotate(-90)" font-size="9.8" text-anchor="middle" font-weight="bold" >c-Kit</text>
<text x="50.0" y="749.6" font-size="10.4" text-anchor="middle" font-weight="bold" textLength="25" lengthAdjust="spacingAndGlyphs" style="">Sca-1</text>
<path d="M172.7,662.1h.6M167.6,650.4h.6M157.9,643.3h.6M145.8,656.9h.6M175.2,663.9h.6M167.6,664.0h.6M172.5,655.7h.6M167.2,680.8h.6M159.9,652.4h.6M168.6,681.2h.6M178.4,653.6h.6M172.6,670.0h.6M145.1,651.4h.6M163.3,658.3h.6M167.9,666.2h.6M168.9,662.0h.6M163.3,649.6h.6M176.6,655.9h.6M162.9,653.1h.6M162.7,656.7h.6M149.8,652.4h.6M181.0,670.0h.6M170.1,670.7h.6M160.5,638.6h.6M165.6,649.6h.6M166.3,661.1h.6M171.0,658.8h.6M166.6,658.9h.6M159.5,654.9h.6M173.4,677.7h.6M165.9,662.4h.6M135.9,660.6h.6M169.1,673.1h.6M152.2,653.3h.6M132.6,675.4h.6M161.6,653.2h.6M174.1,666.9h.6M165.1,648.1h.6M137.0,653.2h.6M151.5,649.4h.6M144.6,651.3h.6M169.7,660.8h.6M176.2,675.5h.6M153.6,652.5h.6M176.3,693.2h.6M177.5,673.9h.6M171.2,658.8h.6M152.7,654.7h.6M180.5,694.9h.6M154.3,648.8h.6M146.7,639.9h.6M169.2,658.2h.6M156.2,653.7h.6M163.8,659.5h.6M173.9,681.3h.6M179.0,681.3h.6M169.6,652.0h.6M170.5,674.7h.6M178.3,659.6h.6M164.6,656.7h.6M146.7,645.1h.6M167.1,657.2h.6M170.2,647.5h.6M174.3,656.3h.6M150.1,651.8h.6M166.6,686.3h.6M164.8,641.6h.6M173.9,672.0h.6M165.7,656.7h.6M159.6,645.3h.6M160.7,643.2h.6M162.7,650.8h.6M174.8,679.6h.6M145.4,649.8h.6M149.7,643.6h.6M148.4,643.2h.6M169.6,688.6h.6M170.8,679.7h.6M170.4,668.3h.6M170.0,661.6h.6M150.0,646.1h.6M167.5,652.9h.6M162.5,649.6h.6M165.7,663.7h.6M167.4,671.6h.6M132.9,658.0h.6M167.2,660.9h.6M155.2,652.6h.6M170.8,684.2h.6M172.8,666.1h.6M176.3,668.3h.6M167.0,674.9h.6M170.5,651.8h.6M174.2,644.6h.6M177.3,659.5h.6M151.3,653.2h.6M174.4,692.2h.6M158.8,654.6h.6M170.5,669.2h.6M170.0,654.5h.6M174.6,677.0h.6M169.3,675.4h.6M157.3,653.5h.6M159.1,653.4h.6M131.5,670.6h.6M158.1,647.5h.6M149.8,643.6h.6M180.2,648.0h.6M166.1,653.5h.6M166.7,660.8h.6M143.0,646.4h.6M173.5,682.7h.6M147.7,654.7h.6M169.9,676.9h.6M172.4,671.6h.6M171.5,664.6h.6M160.2,646.7h.6M170.6,660.5h.6M178.7,680.9h.6M171.1,683.2h.6M167.2,648.1h.6M143.2,659.3h.6M155.2,642.3h.6M166.3,656.9h.6M171.8,654.3h.6M157.0,644.8h.6M169.5,644.1h.6M165.3,660.3h.6M138.4,657.3h.6M165.1,639.2h.6M170.6,669.7h.6M150.0,654.6h.6M166.8,651.5h.6M181.1,671.1h.6M153.0,648.3h.6M161.7,657.2h.6M149.6,650.4h.6M176.4,656.6h.6M162.2,648.0h.6M160.8,649.4h.6M167.1,683.4h.6M165.1,648.9h.6M136.2,657.4h.6M168.5,646.6h.6M157.6,648.9h.6M166.3,682.2h.6M160.2,655.2h.6M167.8,656.5h.6M152.7,641.0h.6M178.9,674.5h.6M172.5,650.8h.6M163.3,649.4h.6M164.3,654.1h.6M137.1,654.0h.6M169.6,661.3h.6M173.5,662.5h.6M158.6,644.9h.6M165.1,682.9h.6M138.1,647.8h.6M185.4,679.2h.6M150.2,648.4h.6M154.7,651.3h.6M165.2,681.3h.6M167.8,666.5h.6M138.8,659.6h.6M142.0,643.6h.6M158.4,653.7h.6M168.5,643.7h.6M136.9,647.8h.6M140.9,656.1h.6M159.5,641.5h.6M165.4,643.3h.6M173.6,676.8h.6M173.0,647.7h.6M154.9,649.3h.6M172.9,675.3h.6M163.4,654.8h.6M161.0,650.9h.6M131.3,692.4h.6M134.6,652.3h.6M147.8,652.0h.6M170.2,682.6h.6M141.2,658.0h.6M138.4,659.8h.6M130.4,655.9h.6M156.4,648.7h.6M165.1,640.3h.6M146.4,656.2h.6M166.9,665.5h.6M146.0,643.5h.6M185.4,667.8h.6M170.2,664.7h.6M132.7,673.9h.6M143.0,643.6h.6M171.2,677.0h.6M174.1,682.6h.6M141.9,656.1h.6M166.5,681.8h.6M134.4,664.2h.6M146.6,644.5h.6M173.2,689.1h.6M139.6,646.3h.6M167.6,665.6h.6M173.3,670.4h.6M139.0,639.3h.6M160.6,650.2h.6M158.3,647.1h.6M162.6,639.5h.6M180.3,690.2h.6M178.4,650.2h.6M130.4,672.7h.6M131.6,679.4h.6M136.9,663.9h.6M154.4,648.1h.6M176.7,660.5h.6M177.8,646.1h.6M161.1,640.8h.6M130.9,667.5h.6M132.2,661.7h.6M133.0,676.9h.6M140.4,661.2h.6M166.9,677.5h.6M169.1,671.3h.6M172.2,672.0h.6M167.2,673.6h.6M135.2,658.8h.6M158.7,650.0h.6M167.2,650.1h.6M133.1,651.0h.6M130.5,655.1h.6M130.0,672.4h.6M134.6,641.2h.6M130.7,654.5h.6M153.1,649.8h.6M130.1,684.2h.6M167.7,668.9h.6M148.8,656.3h.6M132.3,673.6h.6M172.9,679.3h.6M141.0,654.1h.6M136.6,643.8h.6M151.8,653.8h.6M143.1,659.9h.6M157.8,646.5h.6M167.6,685.9h.6M176.7,667.0h.6M156.1,642.3h.6M162.2,653.0h.6M142.0,651.2h.6M138.5,664.3h.6M136.8,666.0h.6M166.3,664.9h.6M149.3,651.4h.6M131.3,661.3h.6M177.6,662.3h.6M152.1,646.6h.6M165.1,655.4h.6M160.1,651.6h.6M130.3,671.3h.6M181.5,660.9h.6M171.7,651.8h.6M183.9,671.5h.6M156.6,654.4h.6M184.4,686.9h.6M172.8,668.4h.6M162.1,639.5h.6M148.2,653.3h.6M133.9,671.0h.6M179.2,666.3h.6M151.9,654.6h.6M148.2,652.6h.6M130.5,671.4h.6M132.0,679.3h.6M150.7,650.9h.6M198.1,653.1h.6M131.2,693.6h.6M133.6,664.0h.6M170.0,658.0h.6M175.9,653.2h.6M156.6,641.1h.6M140.5,642.4h.6M166.4,656.8h.6M164.0,656.6h.6M143.7,650.2h.6M176.3,676.5h.6M151.0,644.4h.6M185.8,660.0h.6M149.6,645.1h.6M175.5,693.8h.6M152.1,646.0h.6M146.6,654.2h.6M130.4,689.1h.6M132.8,639.1h.6M133.5,657.0h.6M130.5,645.9h.6M150.6,652.7h.6M167.8,663.5h.6M139.1,651.0h.6M144.3,656.2h.6M134.1,673.3h.6M136.2,658.9h.6M130.5,674.8h.6M131.0,660.7h.6M182.9,640.3h.6M147.4,651.7h.6M153.9,648.9h.6M130.6,685.4h.6M162.0,650.4h.6M141.6,641.3h.6M142.9,645.4h.6M132.8,674.4h.6M133.8,663.1h.6M137.2,656.9h.6M142.7,654.0h.6M170.8,661.4h.6M173.7,645.4h.6M152.3,641.3h.6M138.9,649.0h.6M168.4,690.9h.6M130.9,683.7h.6M140.3,647.5h.6M179.7,674.6h.6M137.3,654.6h.6M156.3,651.3h.6M134.1,641.8h.6M132.0,654.8h.6M158.7,643.4h.6M172.6,638.6h.6M183.6,660.6h.6M142.2,639.6h.6M169.1,652.3h.6M139.0,662.0h.6M176.2,678.6h.6M131.0,655.0h.6M177.3,665.5h.6M185.9,674.0h.6M133.7,654.4h.6M138.3,652.4h.6M162.4,655.4h.6M141.4,655.9h.6M156.7,652.0h.6M156.0,650.3h.6M132.9,669.5h.6M146.7,652.2h.6M139.6,661.4h.6M134.4,668.6h.6M131.4,682.6h.6M131.4,678.9h.6M130.1,682.0h.6M175.0,724.3h.6M171.7,678.6h.6M174.6,685.9h.6M177.1,683.6h.6M170.9,726.0h.6M179.3,726.2h.6M167.2,687.1h.6M173.4,730.8h.6M181.7,721.1h.6M164.6,728.7h.6M168.8,682.0h.6M178.1,693.7h.6M172.7,717.4h.6M168.8,721.0h.6M184.5,723.5h.6M166.2,684.3h.6M181.3,687.2h.6M169.6,683.8h.6M181.6,692.3h.6M184.7,721.8h.6M181.5,695.7h.6M185.6,695.9h.6M181.2,686.0h.6M166.8,727.4h.6M192.2,688.3h.6M168.7,680.9h.6M187.0,672.2h.6M174.9,677.9h.6M173.4,672.5h.6M172.3,690.5h.6M171.1,720.8h.6M175.1,679.7h.6M167.1,689.2h.6M172.1,691.7h.6M164.0,725.6h.6M181.0,689.9h.6M167.5,690.0h.6M182.8,722.3h.6M177.6,693.1h.6M166.1,729.7h.6M188.3,693.6h.6M174.3,688.9h.6M178.9,685.1h.6M180.5,686.4h.6M170.8,728.4h.6M198.9,691.0h.6M175.8,722.5h.6M175.5,686.4h.6M165.5,686.8h.6M190.2,692.8h.6M177.4,689.3h.6M166.9,680.3h.6M176.0,726.6h.6M130.4,682.7h.6M167.2,723.0h.6M177.6,685.3h.6M174.6,718.6h.6M169.3,675.6h.6M182.1,692.1h.6M170.6,689.3h.6M184.2,692.4h.6M191.1,669.1h.6M180.6,693.7h.6M168.6,682.4h.6M172.8,726.6h.6M172.6,675.7h.6M181.0,675.1h.6M172.4,692.7h.6M170.5,689.8h.6M165.6,723.1h.6M175.4,725.3h.6M174.8,690.1h.6M183.4,691.9h.6M168.2,682.9h.6M167.9,723.7h.6M168.2,723.1h.6M176.5,718.4h.6M168.4,719.3h.6M178.4,720.6h.6M170.8,721.0h.6M189.7,685.1h.6M137.4,730.0h.6M169.1,719.7h.6M187.2,720.6h.6M172.5,674.6h.6M172.1,679.5h.6M190.3,651.5h.6M169.8,730.7h.6M169.8,683.7h.6M174.6,691.0h.6M158.8,729.3h.6M182.4,693.8h.6M175.8,717.8h.6M172.9,718.1h.6M172.6,685.9h.6M175.5,731.0h.6M169.5,654.3h.6M169.3,721.7h.6M171.4,686.1h.6M176.8,729.7h.6M168.8,728.4h.6M172.6,689.6h.6M132.4,729.4h.6M172.0,691.4h.6M171.3,689.5h.6M168.6,677.0h.6M178.5,682.6h.6M170.3,720.3h.6M168.6,688.9h.6M174.7,723.0h.6M178.9,689.9h.6M169.1,670.0h.6M166.3,728.3h.6M131.0,693.0h.6M180.4,679.5h.6M162.3,730.5h.6M166.2,686.3h.6M184.9,680.1h.6M170.7,674.3h.6M167.3,674.4h.6M180.2,693.7h.6M171.0,671.9h.6M169.6,686.9h.6M173.4,685.8h.6M172.9,730.5h.6M171.9,677.1h.6M165.6,687.1h.6M183.5,694.0h.6M169.3,686.9h.6M174.9,725.0h.6M166.4,683.6h.6M134.9,730.1h.6M188.5,695.7h.6M182.3,686.5h.6M168.2,680.6h.6M153.6,645.6h.6M130.6,725.4h.6M169.9,678.3h.6M206.0,723.5h.6M179.8,684.8h.6M174.4,721.5h.6M196.9,679.5h.6M163.5,727.2h.6M180.5,727.7h.6M170.4,668.0h.6M166.9,721.9h.6M176.5,727.1h.6M185.8,695.3h.6M166.8,724.7h.6M167.3,687.9h.6M187.5,670.6h.6M130.8,670.6h.6M133.7,665.9h.6M195.7,725.6h.6M194.3,696.5h.6M200.6,696.8h.6M172.3,683.6h.6M181.0,723.5h.6M164.6,650.5h.6M190.7,696.3h.6M174.2,727.4h.6M178.3,695.9h.6M174.0,692.7h.6M164.9,684.4h.6M157.2,730.0h.6M173.2,692.9h.6M178.8,677.2h.6M183.7,688.6h.6M168.6,718.9h.6M185.3,722.4h.6M167.1,726.3h.6M166.5,678.5h.6M184.4,660.2h.6M178.2,665.2h.6M176.2,724.5h.6M174.3,726.5h.6M166.0,723.0h.6M174.2,695.9h.6M192.0,689.0h.6M133.8,729.3h.6M167.3,679.5h.6M173.5,686.3h.6M179.4,685.5h.6M182.1,720.7h.6M185.9,722.4h.6M178.3,674.4h.6M181.0,685.2h.6M155.7,730.5h.6M171.7,678.6h.6M194.4,726.6h.6M173.7,678.1h.6M170.6,685.1h.6M170.6,681.9h.6M162.8,728.4h.6M130.3,700.5h.6M177.3,645.6h.6M156.4,729.9h.6M185.3,686.8h.6M188.2,672.1h.6M182.8,682.6h.6M171.6,673.4h.6M183.3,691.7h.6M187.3,667.8h.6M172.7,686.2h.6M132.5,668.0h.6M176.7,691.8h.6M131.0,679.5h.6M175.8,684.0h.6M189.7,679.6h.6M181.6,725.0h.6M173.6,718.0h.6M189.4,722.7h.6M131.3,667.3h.6M172.7,724.8h.6M175.3,677.4h.6M167.6,722.8h.6M162.3,728.7h.6M160.2,730.7h.6M167.6,658.2h.6M165.6,686.0h.6M169.8,723.3h.6M173.7,684.6h.6M131.4,728.5h.6M197.8,686.2h.6M166.0,682.8h.6M163.1,727.5h.6M169.1,663.4h.6M130.9,689.8h.6M174.9,719.0h.6M183.4,692.4h.6M172.2,685.4h.6M166.6,681.2h.6M130.5,691.1h.6M202.9,681.7h.6M190.3,724.0h.6M151.9,649.2h.6M164.0,728.4h.6M178.7,718.7h.6M186.7,724.8h.6M171.3,717.7h.6M174.2,719.5h.6M175.7,687.0h.6M171.1,724.5h.6M132.7,730.7h.6M136.1,667.8h.6M131.1,694.2h.6M176.5,717.2h.6M172.2,716.5h.6M192.1,670.1h.6M173.8,723.5h.6M176.3,717.6h.6M182.1,727.3h.6M194.0,724.2h.6M168.0,728.1h.6M176.1,727.6h.6M167.8,726.5h.6M175.9,728.3h.6M167.5,722.2h.6M175.4,719.0h.6M173.8,722.1h.6M179.9,724.2h.6M188.5,726.4h.6M211.7,718.2h.6M131.4,726.6h.6M171.8,725.0h.6M170.2,684.2h.6M134.5,729.9h.6M171.9,690.8h.6M208.4,722.5h.6M182.8,729.8h.6M178.0,727.6h.6M168.8,718.9h.6M183.3,722.3h.6M188.0,696.2h.6M179.5,726.4h.6M216.1,713.5h.6M176.0,687.6h.6M183.3,685.3h.6M178.2,723.4h.6M176.0,717.8h.6M181.7,693.6h.6M177.2,719.7h.6M174.5,718.0h.6M183.4,725.3h.6M206.5,700.9h.6M218.7,711.2h.6M208.5,715.6h.6M190.4,696.1h.6M192.9,726.0h.6M197.5,720.5h.6M201.5,721.0h.6M181.0,695.3h.6M203.2,700.2h.6M174.0,727.4h.6M177.2,689.6h.6M200.1,727.6h.6M171.7,692.8h.6M194.6,724.9h.6M194.5,693.7h.6M180.7,695.0h.6M192.1,697.1h.6M208.0,714.9h.6M217.3,718.9h.6M189.9,694.5h.6M185.8,721.5h.6M203.9,718.7h.6M177.2,685.1h.6M214.1,708.2h.6M203.0,696.3h.6M219.7,717.1h.6M203.5,702.0h.6M196.7,698.6h.6M199.3,678.8h.6M221.3,705.7h.6M215.2,710.9h.6M174.1,685.8h.6M204.2,724.7h.6M200.6,720.8h.6M189.2,689.9h.6M173.2,692.5h.6M176.4,689.3h.6M197.6,697.5h.6M174.0,679.0h.6M218.2,696.2h.6M202.4,696.6h.6M200.2,722.3h.6M196.6,698.9h.6M179.4,721.5h.6M203.8,720.4h.6M193.2,697.1h.6M174.9,692.3h.6M184.5,723.6h.6M180.3,681.3h.6M178.5,685.2h.6M172.1,725.1h.6M170.7,720.6h.6M211.8,705.6h.6M207.2,716.1h.6M174.0,682.5h.6M198.5,695.3h.6M172.7,691.4h.6M211.4,700.4h.6M180.3,718.7h.6M180.6,726.9h.6M199.4,694.3h.6M200.3,699.1h.6M198.7,691.9h.6M183.0,685.5h.6M170.1,718.0h.6M174.8,717.7h.6M173.7,681.3h.6M207.4,700.6h.6M163.1,727.7h.6M173.2,695.1h.6M186.0,728.5h.6M205.2,687.1h.6M198.3,725.7h.6M198.7,725.2h.6M207.9,708.8h.6M197.1,697.1h.6M212.1,699.4h.6M190.2,724.6h.6M191.4,725.3h.6M220.0,703.5h.6M210.3,708.7h.6M170.6,723.5h.6M191.1,726.6h.6M195.4,690.1h.6M193.4,696.9h.6M210.1,722.3h.6M206.1,705.3h.6M183.2,721.4h.6M212.9,710.0h.6M187.7,694.0h.6M220.5,712.0h.6M212.8,721.8h.6M213.0,711.6h.6M176.2,719.8h.6M182.0,695.6h.6M169.4,723.8h.6M197.5,721.2h.6M198.5,682.0h.6M220.5,727.5h.6M219.3,704.1h.6M213.8,701.5h.6M211.5,702.3h.6M177.5,686.5h.6M168.6,682.2h.6M221.0,723.6h.6M210.3,729.7h.6M209.9,710.5h.6M187.1,694.3h.6M214.0,697.9h.6M222.8,725.3h.6M214.1,702.5h.6M200.4,691.3h.6M214.7,719.7h.6M218.3,724.9h.6M184.5,724.5h.6M199.9,720.6h.6M203.1,719.5h.6M204.0,686.2h.6M208.9,718.7h.6M202.5,697.8h.6M160.1,728.7h.6M189.9,687.0h.6M193.8,695.7h.6M183.6,722.2h.6M205.8,681.1h.6M169.4,722.7h.6M182.6,724.7h.6M180.0,673.1h.6M209.0,721.6h.6M219.5,712.0h.6M174.4,693.3h.6M176.0,692.0h.6M204.7,719.7h.6M191.8,727.8h.6M202.2,688.3h.6M211.1,720.9h.6M206.6,719.7h.6M170.3,716.7h.6M211.5,696.7h.6M194.1,680.2h.6M203.2,702.3h.6M189.1,727.4h.6M205.6,706.2h.6M213.1,721.0h.6M221.4,710.2h.6M214.6,722.8h.6M168.0,720.3h.6M180.5,723.5h.6M195.4,678.7h.6M218.9,715.9h.6M187.5,725.0h.6M209.3,707.5h.6M213.9,717.5h.6M174.2,693.2h.6M172.6,687.7h.6M189.5,695.3h.6M220.7,689.6h.6M218.1,704.0h.6M168.7,677.9h.6M209.8,691.1h.6M214.2,707.3h.6M188.0,729.4h.6M210.5,701.2h.6M186.0,684.0h.6M220.8,712.5h.6M178.7,689.3h.6M207.7,706.0h.6M219.2,728.1h.6M182.6,726.7h.6M200.6,721.1h.6M195.2,697.7h.6M221.8,712.3h.6M215.1,711.8h.6M209.8,701.0h.6M211.1,702.1h.6M215.9,715.2h.6M176.2,721.1h.6M163.1,726.4h.6M199.1,689.0h.6M203.9,718.4h.6M188.7,724.4h.6M200.8,701.5h.6M214.7,714.2h.6M207.0,724.0h.6M213.3,713.7h.6M214.9,711.3h.6M215.3,709.5h.6M202.3,720.2h.6M221.9,707.1h.6M178.6,694.9h.6M193.8,686.2h.6M205.5,696.4h.6M221.3,693.8h.6M181.7,726.1h.6M209.2,715.4h.6M170.2,717.4h.6M191.8,683.1h.6M185.0,695.2h.6M176.4,728.9h.6M202.3,722.4h.6M196.9,727.0h.6M199.8,719.8h.6M182.1,679.0h.6M200.6,699.2h.6M219.8,692.1h.6M210.0,714.4h.6M172.4,728.0h.6M187.3,690.9h.6M164.4,730.5h.6M197.8,690.2h.6M163.5,726.8h.6M195.5,677.5h.6M178.8,695.4h.6M195.9,721.9h.6M212.6,713.2h.6M202.3,719.3h.6M206.8,705.5h.6M208.0,710.9h.6M214.2,725.5h.6M204.1,717.6h.6M208.7,700.1h.6M214.2,704.5h.6M205.4,720.3h.6M188.3,686.7h.6M207.1,713.1h.6M182.7,720.9h.6M206.4,691.3h.6M177.8,691.4h.6M189.1,685.2h.6M180.9,720.3h.6M186.3,722.7h.6M178.9,721.2h.6M208.3,721.4h.6M181.4,731.1h.6M189.8,723.2h.6M195.6,721.6h.6M214.0,710.5h.6M178.4,719.0h.6M191.5,723.8h.6M215.6,713.7h.6M200.4,679.2h.6M199.7,722.3h.6M186.3,721.2h.6M186.0,721.1h.6M219.5,709.0h.6M176.2,719.8h.6M199.7,699.5h.6M220.3,717.4h.6M189.0,685.3h.6M190.0,690.1h.6M206.8,720.1h.6M198.6,724.6h.6M218.5,717.8h.6M185.0,720.6h.6M205.9,705.2h.6M214.1,712.6h.6M214.2,708.3h.6M178.4,721.1h.6M197.7,695.5h.6M206.1,701.7h.6M210.1,713.9h.6M220.5,692.0h.6M182.2,649.5h.6M201.9,655.8h.6M195.4,656.8h.6M135.3,655.8h.6M184.8,678.7h.6M196.2,721.6h.6M179.8,683.0h.6M147.6,641.1h.6M182.5,640.7h.6M138.2,658.6h.6M173.5,692.5h.6M209.2,666.2h.6M172.2,664.5h.6M191.4,678.8h.6M215.0,664.6h.6M194.0,723.6h.6M213.4,697.0h.6M210.2,727.8h.6M189.0,729.8h.6M159.0,647.1h.6M194.7,650.0h.6M176.3,689.7h.6M188.7,692.0h.6M166.3,656.0h.6M181.9,687.1h.6M217.8,714.3h.6M167.7,673.8h.6M175.6,720.3h.6M187.7,657.6h.6M142.0,660.4h.6M176.9,720.5h.6M198.8,691.5h.6M181.2,678.6h.6M193.2,644.5h.6M161.8,650.9h.6" stroke="#6a6a6a" stroke-width="0.6" fill="none"/>
<path d="M154.4,655.0 155.2,655.0 156.1,655.0 156.7,655.1 157.7,655.2 158.5,655.5 159.2,655.8 159.7,656.0 160.5,656.5 161.2,657.0 161.7,657.4 162.2,657.8 162.7,658.4 163.2,659.0 163.6,659.5 163.9,660.0 164.2,660.5 164.7,661.3 165.0,662.0 165.2,662.5 165.6,663.5 165.8,664.0 166.1,665.0 166.2,665.7 166.4,666.5 166.5,667.5 166.6,668.5 166.7,669.4 166.7,670.0 166.7,671.0 166.7,672.0 166.7,672.5 166.6,673.5 166.5,674.5 166.4,675.5 166.2,676.5 166.1,677.0 165.9,678.0 165.7,678.9 165.6,679.5 165.3,680.5 165.2,681.1 165.0,682.0 164.9,683.0 164.8,684.0 164.8,685.0 165.1,686.0 165.2,686.5 165.7,687.5 166.0,688.0 166.3,688.5 166.7,689.0 167.2,689.7 167.7,690.3 168.2,691.0 168.6,691.5 169.0,692.0 169.4,692.5 169.8,693.0 170.2,693.5 170.7,694.0 171.2,694.5 171.9,695.0 172.7,695.5 173.2,695.7 174.2,695.9 175.2,696.0 176.2,696.0 177.2,695.9 178.2,695.9 179.2,695.8 180.2,695.8 181.2,695.8 182.2,695.8 183.2,695.8 184.2,695.9 185.2,696.0 185.7,696.0 186.7,696.1 187.7,696.3 188.7,696.5 189.2,696.6 190.2,696.8 190.9,697.0 191.7,697.2 192.6,697.5 193.2,697.7 194.1,698.0 194.7,698.2 195.3,698.5 196.2,698.9 196.7,699.1 197.5,699.5 198.2,699.9 198.7,700.2 199.3,700.5 200.1,701.0 200.7,701.4 201.2,701.8 201.7,702.2 202.2,702.6 202.7,703.0 203.3,703.5 203.8,704.0 204.2,704.5 204.7,705.0 205.2,705.7 205.7,706.4 206.1,707.0 206.3,707.5 206.7,708.3 207.0,709.0 207.2,710.0 207.3,710.5 207.3,711.5 207.2,712.5 207.1,713.0 206.8,714.0 206.5,714.5 206.2,715.0 205.7,715.7 205.2,716.3 204.7,716.8 204.2,717.2 203.7,717.6 203.0,718.0 202.2,718.5 201.7,718.7 201.0,719.0 200.2,719.3 199.5,719.5 198.7,719.7 197.7,720.0 197.2,720.1 196.2,720.2 195.2,720.3 194.2,720.4 193.2,720.5 192.2,720.5 191.2,720.4 190.2,720.4 189.2,720.3 188.2,720.2 187.2,720.0 186.7,720.0 185.7,719.8 184.7,719.6 184.2,719.4 183.2,719.2 182.5,719.0 181.7,718.8 180.8,718.5 180.2,718.3 179.3,718.0 178.7,717.8 177.9,717.5 177.2,717.2 176.5,717.0 175.7,716.7 175.0,716.5 174.2,716.3 173.2,716.1 172.2,716.1 171.2,716.3 170.7,716.5 169.9,717.0 169.4,717.5 168.9,718.0 168.5,718.5 168.2,719.0 167.7,719.7 167.2,720.4 166.9,721.0 166.5,721.5 166.2,722.0 165.7,722.8 165.2,723.5 164.8,724.0 164.4,724.5 164.0,725.0 163.5,725.5 163.0,726.0 162.5,726.5 161.8,727.0 161.2,727.5 160.7,727.8 160.2,728.1 159.5,728.5 158.7,728.9 158.2,729.2 157.4,729.5 156.7,729.8 156.1,730.0 155.2,730.3 154.4,730.5 153.7,730.7 152.7,730.9 152.0,731.0 151.2,731.1 150.2,731.2 149.2,731.3 148.2,731.4 147.2,731.4 146.2,731.4 145.2,731.3 144.2,731.2 143.2,731.1 142.6,731.0 141.7,730.8 140.7,730.6 140.2,730.5 139.2,730.2 138.4,730.0 137.7,729.7 137.1,729.5 136.2,729.1 135.7,728.9 135.0,728.5 134.2,728.1 133.7,727.7 133.2,727.4 132.7,727.0 132.2,726.5 131.7,726.0 131.2,725.4 130.7,724.7 130.3,724.0 130.1,723.5 129.8,722.5 129.7,721.9 129.6,721.0 129.6,720.0 129.6,719.0 129.7,718.4 129.8,717.5 129.9,716.5 130.0,715.5 130.1,714.5 130.1,713.5 130.1,712.5 130.0,711.5 130.0,710.5 129.9,709.5 129.9,708.5 129.9,707.5 129.8,706.5 129.9,705.5 129.9,704.5 130.0,703.5 130.1,702.5 130.2,701.5 130.3,701.0 130.5,700.0 130.6,699.0 130.7,698.5 130.9,697.5 131.1,696.5 131.2,695.8 131.3,695.0 131.4,694.0 131.4,693.0 131.4,692.0 131.4,691.0 131.4,690.0 131.4,689.0 131.4,688.0 131.4,687.0 131.4,686.0 131.5,685.0 131.6,684.0 131.7,683.5 131.9,682.5 132.0,681.5 132.2,680.7 132.4,680.0 132.6,679.0 132.7,678.5 133.0,677.5 133.2,676.6 133.3,676.0 133.6,675.0 133.8,674.5 134.1,673.5 134.2,673.0 134.6,672.0 134.8,671.5 135.2,670.5 135.4,670.0 135.7,669.3 136.1,668.5 136.3,668.0 136.7,667.4 137.2,666.5 137.5,666.0 137.9,665.5 138.2,665.0 138.7,664.4 139.2,663.8 139.7,663.2 140.2,662.7 140.7,662.1 141.2,661.7 141.7,661.2 142.2,660.8 142.7,660.4 143.2,660.0 143.8,659.5 144.5,659.0 145.2,658.6 145.7,658.2 146.2,658.0 147.0,657.5 147.7,657.1 148.2,656.9 149.0,656.5 149.7,656.2 150.2,656.0 151.2,655.6 151.7,655.5 152.7,655.2 153.7,655.1 154.4,655.0ZM153.6,659.5 154.2,659.4 155.2,659.3 156.2,659.4 156.7,659.5 157.7,659.8 158.2,660.0 159.1,660.5 159.7,660.9 160.2,661.4 160.7,661.9 161.2,662.5 161.6,663.0 161.9,663.5 162.2,664.1 162.6,665.0 162.8,665.5 163.1,666.5 163.3,667.0 163.5,668.0 163.6,669.0 163.7,669.9 163.7,670.5 163.7,671.5 163.7,672.5 163.7,673.0 163.6,674.0 163.4,675.0 163.2,676.0 163.1,676.5 162.9,677.5 162.7,678.0 162.4,679.0 162.2,679.5 161.8,680.5 161.6,681.0 161.3,682.0 161.1,682.5 160.7,683.5 160.5,684.0 160.2,685.0 160.2,685.5 160.1,686.5 160.2,687.1 160.5,688.0 160.8,688.5 161.2,689.2 161.7,689.8 162.2,690.4 162.7,691.0 163.2,691.5 163.6,692.0 164.0,692.5 164.4,693.0 164.8,693.5 165.2,694.0 165.7,694.7 166.2,695.4 166.6,696.0 166.9,696.5 167.2,697.0 167.7,697.8 168.1,698.5 168.5,699.0 168.8,699.5 169.2,700.0 169.7,700.6 170.2,701.0 171.2,701.4 172.2,701.4 173.2,701.1 173.7,701.0 174.7,700.6 175.2,700.4 176.2,700.1 176.7,700.0 177.7,699.7 178.6,699.5 179.2,699.4 180.2,699.2 181.2,699.2 182.2,699.1 183.2,699.1 184.2,699.2 185.2,699.2 186.2,699.4 186.9,699.5 187.7,699.7 188.7,699.9 189.2,700.0 190.2,700.4 190.7,700.5 191.7,700.9 192.2,701.1 192.9,701.5 193.7,701.9 194.2,702.2 194.7,702.5 195.4,703.0 196.1,703.5 196.7,704.0 197.2,704.5 197.7,705.0 198.1,705.5 198.5,706.0 198.8,706.5 199.2,707.2 199.5,708.0 199.7,708.6 199.8,709.5 199.8,710.5 199.7,711.0 199.2,712.0 198.9,712.5 198.5,713.0 198.0,713.5 197.4,714.0 196.7,714.4 196.2,714.7 195.4,715.0 194.7,715.3 193.8,715.5 193.2,715.6 192.2,715.8 191.2,715.9 190.2,716.0 189.2,716.0 188.2,715.9 187.2,715.8 186.2,715.7 185.2,715.5 184.7,715.4 183.7,715.2 182.9,715.0 182.2,714.8 181.3,714.5 180.7,714.3 180.0,714.0 179.2,713.6 178.7,713.4 177.9,713.0 177.2,712.6 176.7,712.4 176.1,712.0 175.3,711.5 174.7,711.1 174.2,710.7 173.7,710.4 173.1,710.0 172.4,709.5 171.7,709.1 171.2,708.9 170.2,708.8 169.6,709.0 168.8,709.5 168.2,710.0 167.8,710.5 167.3,711.0 166.9,711.5 166.5,712.0 166.1,712.5 165.7,713.0 165.2,713.7 164.7,714.3 164.2,714.9 163.7,715.5 163.3,716.0 162.8,716.5 162.4,717.0 161.9,717.5 161.4,718.0 160.9,718.5 160.4,719.0 159.9,719.5 159.3,720.0 158.8,720.5 158.2,721.0 157.7,721.3 157.2,721.7 156.7,722.1 156.0,722.5 155.2,723.0 154.7,723.2 154.1,723.5 153.2,723.9 152.7,724.0 151.7,724.3 150.9,724.5 150.2,724.6 149.2,724.7 148.2,724.8 147.2,724.8 146.2,724.6 145.4,724.5 144.7,724.3 143.7,724.0 143.2,723.8 142.6,723.5 141.8,723.0 141.2,722.5 140.7,722.0 140.3,721.5 140.0,721.0 139.7,720.5 139.2,719.5 139.0,719.0 138.7,718.0 138.6,717.5 138.3,716.5 138.2,716.0 137.9,715.0 137.7,714.1 137.5,713.5 137.3,712.5 137.1,712.0 136.9,711.0 136.7,710.0 136.6,709.5 136.4,708.5 136.3,707.5 136.2,706.5 136.2,705.9 136.2,705.0 136.2,704.4 136.2,703.5 136.3,702.5 136.5,701.5 136.6,700.5 136.7,699.9 136.9,699.0 137.0,698.0 137.1,697.0 137.2,696.0 137.1,695.0 137.0,694.0 136.8,693.0 136.7,692.5 136.4,691.5 136.2,690.7 136.0,690.0 135.9,689.0 135.7,688.0 135.7,687.5 135.7,686.5 135.7,686.0 135.8,685.0 136.0,684.0 136.2,683.0 136.4,682.5 136.7,681.5 136.8,681.0 137.2,680.0 137.4,679.5 137.7,678.6 137.9,678.0 138.2,677.1 138.4,676.5 138.7,675.6 138.9,675.0 139.2,674.2 139.5,673.5 139.7,672.9 140.1,672.0 140.3,671.5 140.7,670.7 141.1,670.0 141.4,669.5 141.7,669.0 142.2,668.2 142.7,667.5 143.1,667.0 143.5,666.5 144.0,666.0 144.4,665.5 144.9,665.0 145.4,664.5 145.9,664.0 146.4,663.5 147.0,663.0 147.6,662.5 148.2,662.1 148.7,661.7 149.2,661.4 149.8,661.0 150.7,660.5 151.2,660.3 151.9,660.0 152.7,659.7 153.6,659.5ZM153.9,662.0 154.7,661.9 155.7,661.9 156.2,662.0 157.2,662.3 157.7,662.5 158.5,663.0 159.1,663.5 159.6,664.0 160.0,664.5 160.3,665.0 160.7,665.7 161.1,666.5 161.3,667.0 161.6,668.0 161.7,668.6 161.9,669.5 162.0,670.5 162.0,671.5 162.0,672.5 161.9,673.5 161.7,674.5 161.6,675.0 161.4,676.0 161.2,676.8 161.0,677.5 160.7,678.3 160.4,679.0 160.2,679.5 159.7,680.5 159.4,681.0 159.2,681.5 158.7,682.3 158.3,683.0 158.0,683.5 157.7,684.0 157.2,684.9 156.9,685.5 156.7,686.0 156.5,687.0 156.6,688.0 156.8,688.5 157.2,689.2 157.7,689.8 158.2,690.3 158.7,690.8 159.2,691.2 159.7,691.7 160.2,692.1 160.7,692.6 161.2,693.0 161.7,693.5 162.2,694.1 162.7,694.6 163.2,695.3 163.7,695.9 164.1,696.5 164.4,697.0 164.7,697.6 165.2,698.5 165.4,699.0 165.7,699.7 166.0,700.5 166.2,701.2 166.4,702.0 166.5,703.0 166.6,704.0 166.5,705.0 166.3,706.0 166.2,706.5 165.8,707.5 165.6,708.0 165.2,708.7 164.8,709.5 164.5,710.0 164.2,710.5 163.7,711.2 163.2,711.8 162.7,712.4 162.2,713.0 161.7,713.5 161.3,714.0 160.7,714.5 160.2,715.0 159.7,715.4 159.2,715.8 158.7,716.1 158.1,716.5 157.3,717.0 156.7,717.3 156.2,717.6 155.3,718.0 154.7,718.2 153.9,718.5 153.2,718.7 152.2,718.9 151.3,719.0 150.7,719.0 149.7,719.0 149.2,718.9 148.2,718.7 147.5,718.5 146.7,718.1 146.2,717.9 145.7,717.5 145.1,717.0 144.5,716.5 144.1,716.0 143.6,715.5 143.2,714.9 142.7,714.2 142.3,713.5 142.0,713.0 141.7,712.5 141.2,711.5 141.0,711.0 140.7,710.2 140.5,709.5 140.2,708.5 140.1,708.0 139.9,707.0 139.8,706.0 139.7,705.0 139.7,704.5 139.7,704.0 139.8,703.0 139.9,702.0 140.0,701.0 140.2,700.1 140.3,699.5 140.6,698.5 140.7,698.0 140.9,697.0 141.2,696.0 141.3,695.5 141.5,694.5 141.6,693.5 141.7,692.5 141.5,691.5 141.2,690.6 140.9,690.0 140.7,689.5 140.2,688.5 140.0,688.0 139.8,687.0 139.7,686.0 139.7,686.0 139.8,685.0 140.0,684.0 140.2,683.3 140.5,682.5 140.7,681.7 140.9,681.0 141.2,680.0 141.3,679.5 141.5,678.5 141.7,677.8 141.9,677.0 142.1,676.0 142.3,675.5 142.6,674.5 142.7,674.0 143.1,673.0 143.3,672.5 143.7,671.6 144.0,671.0 144.3,670.5 144.7,669.7 145.2,669.0 145.5,668.5 145.8,668.0 146.2,667.5 146.7,666.9 147.2,666.3 147.7,665.8 148.2,665.3 148.7,664.8 149.2,664.4 149.7,664.0 150.4,663.5 151.2,663.0 151.7,662.7 152.2,662.5 153.2,662.2 153.9,662.0ZM180.0,701.5 180.7,701.3 181.7,701.2 182.7,701.1 183.7,701.1 184.7,701.2 185.7,701.3 186.7,701.5 187.2,701.6 188.2,701.9 188.7,702.0 189.7,702.4 190.2,702.6 190.9,703.0 191.7,703.4 192.2,703.8 192.7,704.1 193.2,704.5 193.7,705.0 194.2,705.5 194.7,706.2 195.2,707.0 195.4,707.5 195.6,708.5 195.5,709.5 195.2,710.4 194.8,711.0 194.4,711.5 193.7,712.0 193.2,712.3 192.7,712.6 191.7,712.9 191.2,713.1 190.2,713.3 189.2,713.4 188.2,713.4 187.2,713.4 186.2,713.3 185.2,713.2 184.2,713.0 183.7,712.9 182.7,712.6 182.2,712.4 181.2,712.1 180.7,711.8 180.0,711.5 179.2,711.1 178.7,710.8 178.2,710.4 177.7,710.0 177.1,709.5 176.6,709.0 176.2,708.5 175.7,707.8 175.3,707.0 175.1,706.5 175.1,705.5 175.2,704.9 175.7,704.0 176.1,703.5 176.6,703.0 177.2,702.6 177.7,702.3 178.4,702.0 179.2,701.7 180.0,701.5ZM154.1,664.0 154.7,663.9 155.7,664.0 156.2,664.1 157.2,664.5 157.7,664.8 158.2,665.3 158.7,665.8 159.2,666.5 159.5,667.0 159.7,667.5 160.1,668.5 160.2,669.0 160.4,670.0 160.6,671.0 160.6,672.0 160.5,673.0 160.4,674.0 160.2,675.0 160.1,675.5 159.8,676.5 159.6,677.0 159.2,678.0 159.0,678.5 158.7,679.0 158.2,679.9 157.8,680.5 157.4,681.0 157.1,681.5 156.6,682.0 156.2,682.5 155.7,683.0 155.1,683.5 154.5,684.0 153.9,684.5 153.2,684.9 152.7,685.2 151.9,685.5 151.2,685.7 150.2,685.7 149.6,685.5 148.7,685.1 148.2,684.8 147.7,684.5 147.1,684.0 146.6,683.5 146.2,683.0 145.7,682.2 145.4,681.5 145.2,680.9 145.0,680.0 144.8,679.0 144.8,678.0 144.8,677.0 144.9,676.0 145.1,675.0 145.2,674.4 145.4,673.5 145.7,672.8 146.0,672.0 146.2,671.5 146.7,670.5 147.0,670.0 147.3,669.5 147.7,668.8 148.2,668.1 148.7,667.5 149.1,667.0 149.6,666.5 150.2,666.0 150.7,665.6 151.2,665.2 151.7,664.9 152.5,664.5 153.2,664.2 154.1,664.0ZM150.8,690.5 151.7,690.4 152.3,690.5 153.2,690.7 154.1,691.0 154.7,691.2 155.3,691.5 156.2,691.9 156.7,692.2 157.2,692.5 158.0,693.0 158.7,693.5 159.2,693.9 159.7,694.3 160.2,694.7 160.7,695.2 161.2,695.7 161.7,696.3 162.2,697.0 162.5,697.5 162.8,698.0 163.2,698.7 163.5,699.5 163.7,700.0 164.0,701.0 164.2,701.8 164.3,702.5 164.4,703.5 164.3,704.5 164.2,705.2 164.0,706.0 163.7,707.0 163.5,707.5 163.2,708.2 162.7,709.0 162.4,709.5 162.1,710.0 161.7,710.5 161.2,711.1 160.7,711.7 160.2,712.1 159.7,712.6 159.2,713.0 158.5,713.5 157.7,714.0 157.2,714.3 156.7,714.5 155.7,714.9 155.2,715.1 154.2,715.4 153.4,715.5 152.7,715.6 151.7,715.6 150.9,715.5 150.2,715.4 149.2,715.1 148.7,714.9 147.9,714.5 147.2,714.1 146.7,713.7 146.2,713.3 145.7,712.8 145.2,712.3 144.7,711.7 144.2,711.0 143.9,710.5 143.7,710.0 143.2,709.0 143.0,708.5 142.7,707.6 142.6,707.0 142.4,706.0 142.3,705.0 142.2,704.0 142.3,703.0 142.4,702.0 142.6,701.0 142.7,700.4 143.0,699.5 143.2,698.8 143.5,698.0 143.7,697.5 144.2,696.5 144.5,696.0 144.8,695.5 145.2,694.8 145.7,694.1 146.2,693.5 146.7,693.0 147.2,692.5 147.7,692.1 148.2,691.7 148.7,691.3 149.3,691.0 150.2,690.6 150.8,690.5ZM182.6,703.0 183.2,702.9 184.2,702.9 185.0,703.0 185.7,703.1 186.7,703.3 187.3,703.5 188.2,703.8 188.7,704.1 189.5,704.5 190.2,705.0 190.7,705.4 191.2,705.9 191.7,706.5 191.9,707.0 192.2,708.0 192.0,709.0 191.7,709.5 191.2,710.1 190.6,710.5 189.7,710.9 189.2,711.1 188.2,711.3 187.2,711.4 186.2,711.3 185.2,711.2 184.2,711.0 183.7,710.9 182.7,710.6 182.2,710.4 181.4,710.0 180.7,709.6 180.2,709.2 179.7,708.8 179.2,708.3 178.7,707.6 178.4,707.0 178.3,706.0 178.7,705.0 179.0,704.5 179.6,704.0 180.2,703.7 180.7,703.4 181.7,703.2 182.6,703.0ZM153.5,666.0 154.2,665.8 155.2,665.8 155.9,666.0 156.7,666.4 157.2,666.7 157.7,667.2 158.2,667.9 158.5,668.5 158.7,669.0 159.0,670.0 159.2,670.9 159.3,671.5 159.3,672.5 159.2,673.4 159.1,674.0 158.9,675.0 158.7,675.7 158.4,676.5 158.2,677.0 157.7,677.9 157.4,678.5 157.0,679.0 156.6,679.5 156.2,680.0 155.6,680.5 155.0,681.0 154.2,681.5 153.7,681.8 153.0,682.0 152.2,682.2 151.2,682.1 150.7,682.0 149.7,681.5 149.2,681.2 148.7,680.7 148.2,680.1 147.9,679.5 147.7,679.0 147.4,678.0 147.2,677.1 147.2,676.5 147.2,675.5 147.2,675.0 147.4,674.0 147.6,673.0 147.8,672.5 148.2,671.5 148.4,671.0 148.7,670.4 149.2,669.6 149.6,669.0 150.0,668.5 150.5,668.0 151.0,667.5 151.6,667.0 152.2,666.6 152.7,666.3 153.5,666.0ZM151.9,693.5 152.7,693.4 153.7,693.5 154.2,693.5 155.2,693.8 155.8,694.0 156.7,694.4 157.2,694.6 157.8,695.0 158.5,695.5 159.2,696.0 159.7,696.5 160.2,697.0 160.6,697.5 160.9,698.0 161.2,698.5 161.7,699.4 162.0,700.0 162.2,700.7 162.4,701.5 162.6,702.5 162.6,703.5 162.6,704.5 162.4,705.5 162.2,706.1 161.9,707.0 161.6,707.5 161.2,708.3 160.7,709.0 160.3,709.5 159.9,710.0 159.4,710.5 158.8,711.0 158.2,711.5 157.7,711.8 157.2,712.1 156.4,712.5 155.7,712.8 154.9,713.0 154.2,713.1 153.2,713.2 152.2,713.2 151.2,713.1 150.7,713.0 149.7,712.6 149.2,712.4 148.5,712.0 147.8,711.5 147.3,711.0 146.8,710.5 146.4,710.0 146.0,709.5 145.7,709.0 145.2,708.1 145.0,707.5 144.7,706.7 144.5,706.0 144.4,705.0 144.3,704.0 144.3,703.0 144.5,702.0 144.7,701.0 144.8,700.5 145.2,699.5 145.4,699.0 145.7,698.4 146.2,697.5 146.5,697.0 146.9,696.5 147.4,696.0 147.9,695.5 148.5,695.0 149.2,694.5 149.7,694.2 150.2,694.0 151.2,693.6 151.9,693.5ZM182.9,705.5 183.7,705.3 184.7,705.2 185.7,705.4 186.2,705.5 187.2,706.0 187.7,706.5 188.0,707.0 188.0,708.0 187.5,708.5 186.7,708.8 185.7,708.9 184.7,708.8 183.8,708.5 183.2,708.2 182.7,707.8 182.2,707.2 182.1,706.5 182.3,706.0 182.9,705.5ZM153.3,668.0 154.2,667.8 155.2,667.8 155.7,668.0 156.5,668.5 156.9,669.0 157.2,669.5 157.7,670.5 157.8,671.0 157.9,672.0 157.9,673.0 157.8,674.0 157.7,674.5 157.3,675.5 157.1,676.0 156.7,676.8 156.2,677.5 155.8,678.0 155.3,678.5 154.7,679.0 154.2,679.2 153.5,679.5 152.7,679.6 151.7,679.5 151.2,679.3 150.7,679.0 150.2,678.5 149.7,677.7 149.4,677.0 149.2,676.1 149.1,675.5 149.2,674.5 149.2,674.0 149.4,673.0 149.7,672.2 150.0,671.5 150.2,671.0 150.7,670.2 151.2,669.6 151.7,669.1 152.2,668.6 152.7,668.3 153.3,668.0ZM152.5,695.5 153.2,695.4 154.2,695.5 154.7,695.6 155.7,695.8 156.2,696.0 157.1,696.5 157.7,696.9 158.2,697.3 158.7,697.7 159.2,698.3 159.7,699.0 160.0,699.5 160.3,700.0 160.7,701.0 160.8,701.5 161.0,702.5 161.0,703.5 160.9,704.5 160.7,705.5 160.6,706.0 160.2,706.8 159.8,707.5 159.5,708.0 159.1,708.5 158.6,709.0 158.0,709.5 157.4,710.0 156.7,710.4 156.2,710.6 155.2,711.0 154.7,711.1 153.7,711.3 152.7,711.3 151.7,711.1 151.2,711.0 150.2,710.6 149.7,710.3 149.2,709.9 148.7,709.5 148.2,709.0 147.7,708.4 147.2,707.7 146.9,707.0 146.7,706.5 146.4,705.5 146.2,704.5 146.2,704.0 146.2,703.1 146.3,702.5 146.5,701.5 146.7,700.7 147.0,700.0 147.2,699.5 147.7,698.7 148.2,698.0 148.7,697.5 149.2,697.0 149.7,696.6 150.2,696.3 150.8,696.0 151.7,695.7 152.5,695.5ZM153.2,670.5 153.7,670.3 154.7,670.2 155.3,670.5 155.7,671.0 156.1,672.0 156.2,672.7 156.2,673.1 156.0,674.0 155.7,675.0 155.4,675.5 155.0,676.0 154.4,676.5 153.7,676.8 152.7,676.8 152.2,676.5 151.7,676.0 151.3,675.0 151.3,674.0 151.5,673.0 151.7,672.3 152.2,671.5 152.6,671.0 153.2,670.5ZM152.3,697.5 153.2,697.3 154.2,697.3 155.1,697.5 155.7,697.7 156.3,698.0 157.1,698.5 157.6,699.0 158.1,699.5 158.5,700.0 158.7,700.5 159.2,701.5 159.3,702.0 159.4,703.0 159.4,704.0 159.2,704.9 159.0,705.5 158.7,706.2 158.2,706.9 157.7,707.5 157.2,708.0 156.7,708.4 156.2,708.7 155.5,709.0 154.7,709.2 153.7,709.4 152.7,709.3 151.7,709.1 151.2,708.9 150.6,708.5 149.9,708.0 149.5,707.5 149.1,707.0 148.7,706.4 148.3,705.5 148.2,705.0 148.0,704.0 148.1,703.0 148.2,702.0 148.4,701.5 148.7,700.6 149.1,700.0 149.4,699.5 149.8,699.0 150.4,698.5 151.1,698.0 151.7,697.7 152.3,697.5ZM153.1,699.5 153.7,699.4 154.5,699.5 155.2,699.7 155.8,700.0 156.4,700.5 156.8,701.0 157.2,701.7 157.4,702.5 157.5,703.5 157.3,704.5 157.1,705.0 156.7,705.7 156.2,706.2 155.7,706.6 155.0,707.0 154.2,707.2 153.2,707.2 152.5,707.0 151.7,706.6 151.2,706.2 150.7,705.5 150.4,705.0 150.2,704.2 150.1,703.5 150.2,702.6 150.4,702.0 150.7,701.3 151.2,700.6 151.7,700.2 152.2,699.8 153.1,699.5Z" stroke="#2a2a2a" stroke-width="0.7" fill="none" stroke-linejoin="round"/>
<rect x="129.20" y="637.50" width="94.80" height="94.50" fill="none" stroke="#3a3a3a" stroke-width="0.9" />
<line x1="127.70" y1="661.12" x2="129.20" y2="661.12" stroke="#555" stroke-width="0.6" />
<line x1="152.90" y1="732.00" x2="152.90" y2="733.50" stroke="#555" stroke-width="0.6" />
<line x1="127.70" y1="684.75" x2="129.20" y2="684.75" stroke="#555" stroke-width="0.6" />
<line x1="176.60" y1="732.00" x2="176.60" y2="733.50" stroke="#555" stroke-width="0.6" />
<line x1="127.70" y1="708.38" x2="129.20" y2="708.38" stroke="#555" stroke-width="0.6" />
<line x1="200.30" y1="732.00" x2="200.30" y2="733.50" stroke="#555" stroke-width="0.6" />
<rect x="129.60" y="654.20" width="38.10" height="31.40" fill="none" stroke="#111" stroke-width="1.2" />
<rect x="173.00" y="657.50" width="29.90" height="24.20" fill="none" stroke="#111" stroke-width="1.1" />
<text x="173.7" y="632.7" font-size="10.1" text-anchor="middle" font-weight="bold"><tspan font-style="italic">Runx3</tspan> KO</text>
<text x="151.0" y="650.4" font-size="10.3" text-anchor="middle" font-weight="normal" stroke="#000" stroke-width="0.4" style="">24.06</text>
<text x="189.4" y="652.7" font-size="10.3" text-anchor="middle" font-weight="normal" stroke="#000" stroke-width="0.4" style="">1.02</text>
</svg>
</body></html>
